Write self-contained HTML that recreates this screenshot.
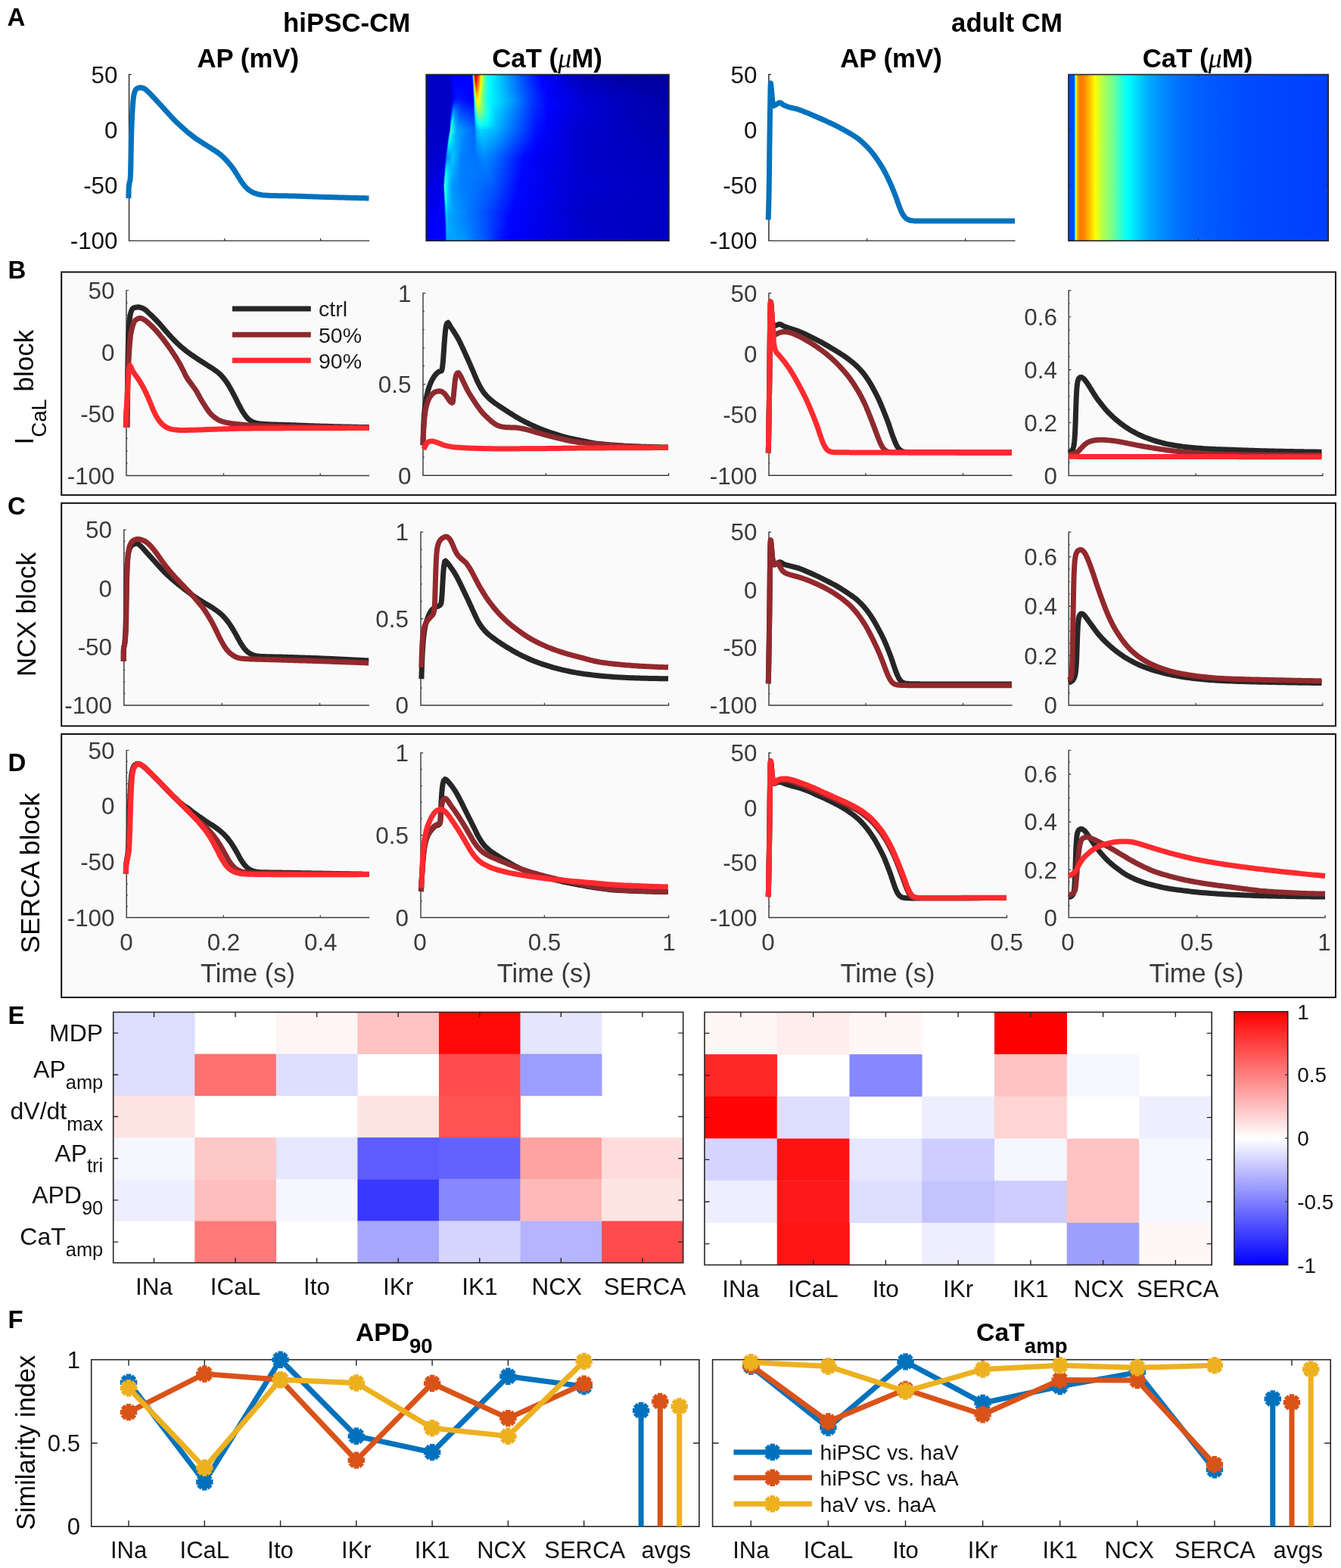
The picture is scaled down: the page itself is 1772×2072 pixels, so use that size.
<!DOCTYPE html>
<html lang="en"><head><meta charset="utf-8"><title>Figure</title>
<style>html,body{margin:0;padding:0;background:#fff}svg{display:block}text{font-family:'Liberation Sans', Arial, Helvetica, sans-serif}</style></head>
<body>
<svg xmlns="http://www.w3.org/2000/svg" width="1772" height="2072" viewBox="0 0 1772 2072">
<defs>
<linearGradient id="h0"><stop offset="0" stop-color="#0000c7"/><stop offset="0.1" stop-color="#0000c7"/><stop offset="0.103" stop-color="#0000d3"/><stop offset="0.109" stop-color="#0000fb"/><stop offset="0.19" stop-color="#0000ff"/><stop offset="0.193" stop-color="#00e6ff"/><stop offset="0.196" stop-color="#ffe100"/><stop offset="0.199" stop-color="#ff2300"/><stop offset="0.202" stop-color="#b90000"/><stop offset="0.209" stop-color="#fd0000"/><stop offset="0.215" stop-color="#ff4100"/><stop offset="0.218" stop-color="#ff6a00"/><stop offset="0.224" stop-color="#ffd400"/><stop offset="0.227" stop-color="#fbff04"/><stop offset="0.24" stop-color="#69ff96"/><stop offset="0.259" stop-color="#00ffff"/><stop offset="0.393" stop-color="#0051ff"/><stop offset="0.47" stop-color="#0003ff"/><stop offset="0.576" stop-color="#0000cf"/><stop offset="0.67" stop-color="#0000b6"/><stop offset="0.857" stop-color="#0000a0"/><stop offset="1" stop-color="#00009c"/></linearGradient>
<linearGradient id="h1"><stop offset="0" stop-color="#0000c7"/><stop offset="0.1" stop-color="#0000c7"/><stop offset="0.106" stop-color="#0000e8"/><stop offset="0.109" stop-color="#0000fd"/><stop offset="0.19" stop-color="#0000ff"/><stop offset="0.193" stop-color="#00acff"/><stop offset="0.196" stop-color="#f0ff0f"/><stop offset="0.199" stop-color="#ff5e00"/><stop offset="0.202" stop-color="#ce0000"/><stop offset="0.206" stop-color="#ef0000"/><stop offset="0.209" stop-color="#ff1100"/><stop offset="0.218" stop-color="#ff7a00"/><stop offset="0.224" stop-color="#ffdf00"/><stop offset="0.227" stop-color="#f2ff0d"/><stop offset="0.24" stop-color="#66ff99"/><stop offset="0.259" stop-color="#00ffff"/><stop offset="0.405" stop-color="#0046ff"/><stop offset="0.474" stop-color="#0003ff"/><stop offset="0.586" stop-color="#0000ce"/><stop offset="0.688" stop-color="#0000b6"/><stop offset="0.863" stop-color="#0000a2"/><stop offset="1" stop-color="#00009d"/></linearGradient>
<linearGradient id="h2"><stop offset="0" stop-color="#0000c7"/><stop offset="0.1" stop-color="#0000c7"/><stop offset="0.109" stop-color="#0000f9"/><stop offset="0.125" stop-color="#0001ff"/><stop offset="0.19" stop-color="#0000ff"/><stop offset="0.193" stop-color="#0077ff"/><stop offset="0.196" stop-color="#c4ff3b"/><stop offset="0.199" stop-color="#ff9400"/><stop offset="0.202" stop-color="#f10000"/><stop offset="0.206" stop-color="#ff0500"/><stop offset="0.218" stop-color="#ff8a00"/><stop offset="0.224" stop-color="#ffea00"/><stop offset="0.227" stop-color="#e8ff17"/><stop offset="0.24" stop-color="#62ff9d"/><stop offset="0.259" stop-color="#00ffff"/><stop offset="0.417" stop-color="#003bff"/><stop offset="0.477" stop-color="#0003ff"/><stop offset="0.595" stop-color="#0000cd"/><stop offset="0.801" stop-color="#0000a7"/><stop offset="1" stop-color="#00009e"/></linearGradient>
<linearGradient id="h3"><stop offset="0" stop-color="#0000c7"/><stop offset="0.1" stop-color="#0000c7"/><stop offset="0.112" stop-color="#0002ff"/><stop offset="0.19" stop-color="#0000ff"/><stop offset="0.193" stop-color="#0046ff"/><stop offset="0.196" stop-color="#84ff7b"/><stop offset="0.199" stop-color="#ffc400"/><stop offset="0.202" stop-color="#ff3000"/><stop offset="0.206" stop-color="#ff1a00"/><stop offset="0.218" stop-color="#ff9a00"/><stop offset="0.224" stop-color="#fff500"/><stop offset="0.231" stop-color="#beff41"/><stop offset="0.24" stop-color="#5effa1"/><stop offset="0.259" stop-color="#00ffff"/><stop offset="0.424" stop-color="#0036ff"/><stop offset="0.477" stop-color="#0005ff"/><stop offset="0.636" stop-color="#0000c3"/><stop offset="0.857" stop-color="#0000a6"/><stop offset="1" stop-color="#00009f"/></linearGradient>
<linearGradient id="h4"><stop offset="0" stop-color="#0000c7"/><stop offset="0.1" stop-color="#0000c7"/><stop offset="0.112" stop-color="#0003ff"/><stop offset="0.19" stop-color="#0000ff"/><stop offset="0.193" stop-color="#001aff"/><stop offset="0.196" stop-color="#49ffb6"/><stop offset="0.199" stop-color="#ffee00"/><stop offset="0.202" stop-color="#ff6700"/><stop offset="0.206" stop-color="#ff2f00"/><stop offset="0.218" stop-color="#ffaa00"/><stop offset="0.224" stop-color="#fdff02"/><stop offset="0.231" stop-color="#b6ff49"/><stop offset="0.24" stop-color="#5affa5"/><stop offset="0.259" stop-color="#00ffff"/><stop offset="0.43" stop-color="#0032ff"/><stop offset="0.483" stop-color="#0003ff"/><stop offset="0.626" stop-color="#0000c7"/><stop offset="0.86" stop-color="#0000a8"/><stop offset="1" stop-color="#0000a0"/></linearGradient>
<linearGradient id="h5"><stop offset="0" stop-color="#0000c7"/><stop offset="0.1" stop-color="#0000c7"/><stop offset="0.112" stop-color="#0001ff"/><stop offset="0.131" stop-color="#0009ff"/><stop offset="0.193" stop-color="#0000ff"/><stop offset="0.196" stop-color="#13ffec"/><stop offset="0.199" stop-color="#eaff15"/><stop offset="0.202" stop-color="#ff9a00"/><stop offset="0.206" stop-color="#ff4500"/><stop offset="0.218" stop-color="#ffbb00"/><stop offset="0.221" stop-color="#ffe400"/><stop offset="0.224" stop-color="#f2ff0d"/><stop offset="0.231" stop-color="#aeff51"/><stop offset="0.24" stop-color="#57ffa8"/><stop offset="0.259" stop-color="#00ffff"/><stop offset="0.439" stop-color="#002aff"/><stop offset="0.489" stop-color="#0001ff"/><stop offset="0.592" stop-color="#0000d4"/><stop offset="0.791" stop-color="#0000ae"/><stop offset="1" stop-color="#0000a2"/></linearGradient>
<linearGradient id="h6"><stop offset="0" stop-color="#0000c7"/><stop offset="0.1" stop-color="#0000c7"/><stop offset="0.112" stop-color="#0000fe"/><stop offset="0.125" stop-color="#000cff"/><stop offset="0.19" stop-color="#0000ff"/><stop offset="0.193" stop-color="#0000ff"/><stop offset="0.196" stop-color="#00e0ff"/><stop offset="0.199" stop-color="#c8ff37"/><stop offset="0.202" stop-color="#ffc700"/><stop offset="0.206" stop-color="#ff5b00"/><stop offset="0.218" stop-color="#ffcb00"/><stop offset="0.221" stop-color="#fff200"/><stop offset="0.224" stop-color="#e6ff19"/><stop offset="0.231" stop-color="#a6ff59"/><stop offset="0.24" stop-color="#53ffac"/><stop offset="0.259" stop-color="#00ffff"/><stop offset="0.38" stop-color="#006eff"/><stop offset="0.474" stop-color="#000dff"/><stop offset="0.505" stop-color="#0000f8"/><stop offset="0.651" stop-color="#0000c7"/><stop offset="0.875" stop-color="#0000ab"/><stop offset="1" stop-color="#0000a3"/></linearGradient>
<linearGradient id="h7"><stop offset="0" stop-color="#0000c7"/><stop offset="0.1" stop-color="#0000c7"/><stop offset="0.112" stop-color="#0000fc"/><stop offset="0.121" stop-color="#000dff"/><stop offset="0.193" stop-color="#0000ff"/><stop offset="0.196" stop-color="#00b2ff"/><stop offset="0.199" stop-color="#aaff55"/><stop offset="0.202" stop-color="#fff000"/><stop offset="0.206" stop-color="#ff8c00"/><stop offset="0.209" stop-color="#ff8c00"/><stop offset="0.218" stop-color="#ffdc00"/><stop offset="0.221" stop-color="#feff01"/><stop offset="0.227" stop-color="#b7ff48"/><stop offset="0.24" stop-color="#4fffb0"/><stop offset="0.259" stop-color="#00ffff"/><stop offset="0.371" stop-color="#007eff"/><stop offset="0.464" stop-color="#0015ff"/><stop offset="0.505" stop-color="#0000f9"/><stop offset="0.651" stop-color="#0000ca"/><stop offset="0.885" stop-color="#0000ac"/><stop offset="1" stop-color="#0000a4"/></linearGradient>
<linearGradient id="h8"><stop offset="0" stop-color="#0000c7"/><stop offset="0.1" stop-color="#0000c7"/><stop offset="0.112" stop-color="#0000fa"/><stop offset="0.128" stop-color="#0012ff"/><stop offset="0.181" stop-color="#0000fe"/><stop offset="0.193" stop-color="#0000ff"/><stop offset="0.196" stop-color="#0088ff"/><stop offset="0.199" stop-color="#85ff7a"/><stop offset="0.202" stop-color="#eaff15"/><stop offset="0.206" stop-color="#ffbb00"/><stop offset="0.209" stop-color="#ffa200"/><stop offset="0.218" stop-color="#ffed00"/><stop offset="0.221" stop-color="#efff10"/><stop offset="0.227" stop-color="#adff52"/><stop offset="0.24" stop-color="#4cffb3"/><stop offset="0.259" stop-color="#00ffff"/><stop offset="0.368" stop-color="#0085ff"/><stop offset="0.452" stop-color="#0024ff"/><stop offset="0.505" stop-color="#0000fb"/><stop offset="0.654" stop-color="#0000cb"/><stop offset="0.894" stop-color="#0000ae"/><stop offset="1" stop-color="#0000a5"/></linearGradient>
<linearGradient id="h9"><stop offset="0" stop-color="#0000c7"/><stop offset="0.1" stop-color="#0000c7"/><stop offset="0.115" stop-color="#0006ff"/><stop offset="0.131" stop-color="#0015ff"/><stop offset="0.181" stop-color="#0000ff"/><stop offset="0.193" stop-color="#0000ff"/><stop offset="0.196" stop-color="#0061ff"/><stop offset="0.199" stop-color="#53ffac"/><stop offset="0.202" stop-color="#c9ff36"/><stop offset="0.206" stop-color="#ffe500"/><stop offset="0.209" stop-color="#ffb800"/><stop offset="0.218" stop-color="#ffff00"/><stop offset="0.227" stop-color="#a3ff5c"/><stop offset="0.24" stop-color="#48ffb7"/><stop offset="0.259" stop-color="#00ffff"/><stop offset="0.364" stop-color="#008cff"/><stop offset="0.433" stop-color="#0038ff"/><stop offset="0.492" stop-color="#0006ff"/><stop offset="0.545" stop-color="#0000ed"/><stop offset="0.67" stop-color="#0000cb"/><stop offset="0.928" stop-color="#0000ad"/><stop offset="1" stop-color="#0000a7"/></linearGradient>
<linearGradient id="h10"><stop offset="0" stop-color="#0000c7"/><stop offset="0.1" stop-color="#0000c7"/><stop offset="0.115" stop-color="#0004ff"/><stop offset="0.121" stop-color="#0011ff"/><stop offset="0.137" stop-color="#0015ff"/><stop offset="0.181" stop-color="#0000ff"/><stop offset="0.193" stop-color="#0000ff"/><stop offset="0.196" stop-color="#003dff"/><stop offset="0.199" stop-color="#24ffdb"/><stop offset="0.202" stop-color="#adff52"/><stop offset="0.206" stop-color="#f3ff0c"/><stop offset="0.209" stop-color="#ffd000"/><stop offset="0.215" stop-color="#fffa00"/><stop offset="0.218" stop-color="#eeff11"/><stop offset="0.227" stop-color="#99ff66"/><stop offset="0.24" stop-color="#44ffbb"/><stop offset="0.259" stop-color="#00ffff"/><stop offset="0.361" stop-color="#0094ff"/><stop offset="0.427" stop-color="#0040ff"/><stop offset="0.489" stop-color="#000aff"/><stop offset="0.517" stop-color="#0000f8"/><stop offset="0.664" stop-color="#0000ce"/><stop offset="0.944" stop-color="#0000ad"/><stop offset="1" stop-color="#0000a8"/></linearGradient>
<linearGradient id="h11"><stop offset="0" stop-color="#0000c7"/><stop offset="0.1" stop-color="#0000c8"/><stop offset="0.112" stop-color="#0003ff"/><stop offset="0.118" stop-color="#001eff"/><stop offset="0.137" stop-color="#001dff"/><stop offset="0.181" stop-color="#0005ff"/><stop offset="0.193" stop-color="#0004ff"/><stop offset="0.196" stop-color="#0025ff"/><stop offset="0.199" stop-color="#00fbff"/><stop offset="0.202" stop-color="#91ff6e"/><stop offset="0.206" stop-color="#ceff31"/><stop offset="0.209" stop-color="#fff400"/><stop offset="0.212" stop-color="#fff700"/><stop offset="0.218" stop-color="#e1ff1e"/><stop offset="0.234" stop-color="#6dff92"/><stop offset="0.243" stop-color="#38ffc7"/><stop offset="0.259" stop-color="#02fffd"/><stop offset="0.364" stop-color="#0090ff"/><stop offset="0.43" stop-color="#003dff"/><stop offset="0.495" stop-color="#0007ff"/><stop offset="0.533" stop-color="#0000f4"/><stop offset="0.676" stop-color="#0000ce"/><stop offset="1" stop-color="#0000a9"/></linearGradient>
<linearGradient id="h12"><stop offset="0" stop-color="#0000c7"/><stop offset="0.1" stop-color="#0000ca"/><stop offset="0.106" stop-color="#0000f3"/><stop offset="0.109" stop-color="#0008ff"/><stop offset="0.115" stop-color="#0032ff"/><stop offset="0.121" stop-color="#0036ff"/><stop offset="0.178" stop-color="#000eff"/><stop offset="0.193" stop-color="#000cff"/><stop offset="0.196" stop-color="#0018ff"/><stop offset="0.199" stop-color="#00daff"/><stop offset="0.202" stop-color="#77ff88"/><stop offset="0.209" stop-color="#e0ff1f"/><stop offset="0.212" stop-color="#f6ff09"/><stop offset="0.224" stop-color="#aeff51"/><stop offset="0.24" stop-color="#4cffb3"/><stop offset="0.249" stop-color="#23ffdc"/><stop offset="0.262" stop-color="#00faff"/><stop offset="0.368" stop-color="#0089ff"/><stop offset="0.433" stop-color="#0039ff"/><stop offset="0.498" stop-color="#0005ff"/><stop offset="0.639" stop-color="#0000d3"/><stop offset="0.944" stop-color="#0000ae"/><stop offset="1" stop-color="#0000a9"/></linearGradient>
<linearGradient id="h13"><stop offset="0" stop-color="#0000c7"/><stop offset="0.097" stop-color="#0000c7"/><stop offset="0.1" stop-color="#0000cd"/><stop offset="0.106" stop-color="#0005ff"/><stop offset="0.115" stop-color="#0054ff"/><stop offset="0.159" stop-color="#0021ff"/><stop offset="0.196" stop-color="#0013ff"/><stop offset="0.199" stop-color="#00bfff"/><stop offset="0.202" stop-color="#5fffa0"/><stop offset="0.212" stop-color="#e4ff1b"/><stop offset="0.227" stop-color="#95ff6a"/><stop offset="0.246" stop-color="#2fffd0"/><stop offset="0.262" stop-color="#00fcff"/><stop offset="0.274" stop-color="#00e7ff"/><stop offset="0.371" stop-color="#0082ff"/><stop offset="0.436" stop-color="#0034ff"/><stop offset="0.502" stop-color="#0003ff"/><stop offset="0.685" stop-color="#0000cc"/><stop offset="1" stop-color="#0000aa"/></linearGradient>
<linearGradient id="h14"><stop offset="0" stop-color="#0000c7"/><stop offset="0.097" stop-color="#0000c7"/><stop offset="0.1" stop-color="#0000d2"/><stop offset="0.103" stop-color="#0000f5"/><stop offset="0.106" stop-color="#0019ff"/><stop offset="0.112" stop-color="#005fff"/><stop offset="0.115" stop-color="#006cff"/><stop offset="0.143" stop-color="#0037ff"/><stop offset="0.184" stop-color="#001fff"/><stop offset="0.196" stop-color="#001bff"/><stop offset="0.199" stop-color="#00a7ff"/><stop offset="0.202" stop-color="#46ffb9"/><stop offset="0.212" stop-color="#c0ff3f"/><stop offset="0.215" stop-color="#c3ff3c"/><stop offset="0.231" stop-color="#7eff81"/><stop offset="0.252" stop-color="#19ffe6"/><stop offset="0.262" stop-color="#00feff"/><stop offset="0.274" stop-color="#00e4ff"/><stop offset="0.374" stop-color="#007cff"/><stop offset="0.442" stop-color="#002dff"/><stop offset="0.505" stop-color="#0001ff"/><stop offset="0.614" stop-color="#0000db"/><stop offset="0.888" stop-color="#0000b4"/><stop offset="1" stop-color="#0000aa"/></linearGradient>
<linearGradient id="h15"><stop offset="0" stop-color="#0000c7"/><stop offset="0.097" stop-color="#0000c7"/><stop offset="0.1" stop-color="#0000d9"/><stop offset="0.103" stop-color="#0005ff"/><stop offset="0.112" stop-color="#0089ff"/><stop offset="0.131" stop-color="#0057ff"/><stop offset="0.15" stop-color="#003cff"/><stop offset="0.196" stop-color="#0023ff"/><stop offset="0.199" stop-color="#0093ff"/><stop offset="0.202" stop-color="#22ffdd"/><stop offset="0.206" stop-color="#57ffa8"/><stop offset="0.212" stop-color="#9cff63"/><stop offset="0.215" stop-color="#b0ff4f"/><stop offset="0.234" stop-color="#68ff97"/><stop offset="0.255" stop-color="#0ffff0"/><stop offset="0.265" stop-color="#00f5ff"/><stop offset="0.277" stop-color="#00ddff"/><stop offset="0.377" stop-color="#0075ff"/><stop offset="0.442" stop-color="#002bff"/><stop offset="0.505" stop-color="#0000ff"/><stop offset="0.589" stop-color="#0000e1"/><stop offset="0.788" stop-color="#0000be"/><stop offset="1" stop-color="#0000ab"/></linearGradient>
<linearGradient id="h16"><stop offset="0" stop-color="#0000c7"/><stop offset="0.097" stop-color="#0000c7"/><stop offset="0.1" stop-color="#0000e2"/><stop offset="0.103" stop-color="#0019ff"/><stop offset="0.109" stop-color="#0085ff"/><stop offset="0.112" stop-color="#00a1ff"/><stop offset="0.121" stop-color="#0077ff"/><stop offset="0.143" stop-color="#004bff"/><stop offset="0.19" stop-color="#002dff"/><stop offset="0.196" stop-color="#002aff"/><stop offset="0.199" stop-color="#0083ff"/><stop offset="0.202" stop-color="#03fffc"/><stop offset="0.206" stop-color="#40ffbf"/><stop offset="0.215" stop-color="#99ff66"/><stop offset="0.234" stop-color="#5fffa0"/><stop offset="0.259" stop-color="#05fffa"/><stop offset="0.28" stop-color="#00d7ff"/><stop offset="0.383" stop-color="#006bff"/><stop offset="0.445" stop-color="#0026ff"/><stop offset="0.505" stop-color="#0000fe"/><stop offset="0.589" stop-color="#0000e1"/><stop offset="0.807" stop-color="#0000bc"/><stop offset="1" stop-color="#0000ab"/></linearGradient>
<linearGradient id="h17"><stop offset="0" stop-color="#0000c7"/><stop offset="0.097" stop-color="#0000c7"/><stop offset="0.1" stop-color="#0000ed"/><stop offset="0.103" stop-color="#0031ff"/><stop offset="0.109" stop-color="#00b5ff"/><stop offset="0.112" stop-color="#00b3ff"/><stop offset="0.121" stop-color="#0084ff"/><stop offset="0.14" stop-color="#0057ff"/><stop offset="0.187" stop-color="#0037ff"/><stop offset="0.196" stop-color="#0032ff"/><stop offset="0.199" stop-color="#0077ff"/><stop offset="0.202" stop-color="#00e7ff"/><stop offset="0.206" stop-color="#2affd5"/><stop offset="0.215" stop-color="#77ff88"/><stop offset="0.218" stop-color="#7dff82"/><stop offset="0.24" stop-color="#3fffc0"/><stop offset="0.259" stop-color="#03fffc"/><stop offset="0.283" stop-color="#00d0ff"/><stop offset="0.386" stop-color="#0064ff"/><stop offset="0.445" stop-color="#0024ff"/><stop offset="0.505" stop-color="#0000fd"/><stop offset="0.592" stop-color="#0000df"/><stop offset="0.829" stop-color="#0000b9"/><stop offset="1" stop-color="#0000ac"/></linearGradient>
<linearGradient id="h18"><stop offset="0" stop-color="#0000c7"/><stop offset="0.097" stop-color="#0000c7"/><stop offset="0.1" stop-color="#0000fd"/><stop offset="0.106" stop-color="#00a0ff"/><stop offset="0.109" stop-color="#00d7ff"/><stop offset="0.118" stop-color="#0098ff"/><stop offset="0.137" stop-color="#0064ff"/><stop offset="0.187" stop-color="#003fff"/><stop offset="0.196" stop-color="#003aff"/><stop offset="0.199" stop-color="#006dff"/><stop offset="0.202" stop-color="#00cfff"/><stop offset="0.206" stop-color="#16ffe9"/><stop offset="0.218" stop-color="#68ff97"/><stop offset="0.243" stop-color="#2cffd3"/><stop offset="0.259" stop-color="#00ffff"/><stop offset="0.283" stop-color="#00ccff"/><stop offset="0.389" stop-color="#005eff"/><stop offset="0.449" stop-color="#0020ff"/><stop offset="0.505" stop-color="#0000fc"/><stop offset="0.598" stop-color="#0000dd"/><stop offset="0.85" stop-color="#0000b8"/><stop offset="1" stop-color="#0000ac"/></linearGradient>
<linearGradient id="h19"><stop offset="0" stop-color="#0000c7"/><stop offset="0.097" stop-color="#0000c7"/><stop offset="0.1" stop-color="#0013ff"/><stop offset="0.106" stop-color="#00d9ff"/><stop offset="0.109" stop-color="#00e6ff"/><stop offset="0.115" stop-color="#00b1ff"/><stop offset="0.134" stop-color="#0070ff"/><stop offset="0.187" stop-color="#0047ff"/><stop offset="0.196" stop-color="#0042ff"/><stop offset="0.199" stop-color="#0066ff"/><stop offset="0.202" stop-color="#00bbff"/><stop offset="0.206" stop-color="#02fffd"/><stop offset="0.218" stop-color="#4dffb2"/><stop offset="0.24" stop-color="#29ffd6"/><stop offset="0.259" stop-color="#00fbff"/><stop offset="0.29" stop-color="#00c3ff"/><stop offset="0.393" stop-color="#0058ff"/><stop offset="0.452" stop-color="#001bff"/><stop offset="0.502" stop-color="#0000fb"/><stop offset="0.604" stop-color="#0000da"/><stop offset="0.875" stop-color="#0000b6"/><stop offset="1" stop-color="#0000ad"/></linearGradient>
<linearGradient id="h20"><stop offset="0" stop-color="#0000c7"/><stop offset="0.097" stop-color="#0000c7"/><stop offset="0.1" stop-color="#002fff"/><stop offset="0.103" stop-color="#00a8ff"/><stop offset="0.106" stop-color="#11ffee"/><stop offset="0.109" stop-color="#00f1ff"/><stop offset="0.115" stop-color="#00b9ff"/><stop offset="0.134" stop-color="#007aff"/><stop offset="0.19" stop-color="#004dff"/><stop offset="0.196" stop-color="#004aff"/><stop offset="0.199" stop-color="#0062ff"/><stop offset="0.206" stop-color="#00efff"/><stop offset="0.209" stop-color="#00ffff"/><stop offset="0.218" stop-color="#2fffd0"/><stop offset="0.221" stop-color="#36ffc9"/><stop offset="0.255" stop-color="#00fbff"/><stop offset="0.293" stop-color="#00bcff"/><stop offset="0.396" stop-color="#0052ff"/><stop offset="0.452" stop-color="#0019ff"/><stop offset="0.502" stop-color="#0000fa"/><stop offset="0.611" stop-color="#0000d8"/><stop offset="0.903" stop-color="#0000b4"/><stop offset="1" stop-color="#0000ad"/></linearGradient>
<linearGradient id="h21"><stop offset="0" stop-color="#0000c7"/><stop offset="0.097" stop-color="#0000c7"/><stop offset="0.1" stop-color="#0055ff"/><stop offset="0.103" stop-color="#00ebff"/><stop offset="0.106" stop-color="#1cffe3"/><stop offset="0.109" stop-color="#00f6ff"/><stop offset="0.112" stop-color="#00d2ff"/><stop offset="0.131" stop-color="#0086ff"/><stop offset="0.19" stop-color="#0056ff"/><stop offset="0.196" stop-color="#0051ff"/><stop offset="0.199" stop-color="#0060ff"/><stop offset="0.206" stop-color="#00dbff"/><stop offset="0.212" stop-color="#00f8ff"/><stop offset="0.221" stop-color="#1fffe0"/><stop offset="0.249" stop-color="#00fbff"/><stop offset="0.296" stop-color="#00b6ff"/><stop offset="0.396" stop-color="#004fff"/><stop offset="0.452" stop-color="#0016ff"/><stop offset="0.498" stop-color="#0000fa"/><stop offset="0.611" stop-color="#0000d7"/><stop offset="0.925" stop-color="#0000b3"/><stop offset="1" stop-color="#0000ae"/></linearGradient>
<linearGradient id="h22"><stop offset="0" stop-color="#0000c7"/><stop offset="0.093" stop-color="#0000c7"/><stop offset="0.097" stop-color="#0000cc"/><stop offset="0.1" stop-color="#008aff"/><stop offset="0.103" stop-color="#47ffb8"/><stop offset="0.109" stop-color="#00f6ff"/><stop offset="0.112" stop-color="#00d8ff"/><stop offset="0.128" stop-color="#0094ff"/><stop offset="0.178" stop-color="#0066ff"/><stop offset="0.196" stop-color="#0059ff"/><stop offset="0.199" stop-color="#0060ff"/><stop offset="0.206" stop-color="#00c5ff"/><stop offset="0.212" stop-color="#00e2ff"/><stop offset="0.221" stop-color="#03fffc"/><stop offset="0.243" stop-color="#00f4ff"/><stop offset="0.312" stop-color="#00a4ff"/><stop offset="0.455" stop-color="#0012ff"/><stop offset="0.498" stop-color="#0000f9"/><stop offset="0.617" stop-color="#0000d4"/><stop offset="0.96" stop-color="#0000b1"/><stop offset="1" stop-color="#0000ae"/></linearGradient>
<linearGradient id="h23"><stop offset="0" stop-color="#0000c7"/><stop offset="0.093" stop-color="#0000c7"/><stop offset="0.097" stop-color="#0000e4"/><stop offset="0.1" stop-color="#00d6ff"/><stop offset="0.103" stop-color="#53ffac"/><stop offset="0.106" stop-color="#22ffdd"/><stop offset="0.109" stop-color="#00f0ff"/><stop offset="0.128" stop-color="#009cff"/><stop offset="0.19" stop-color="#0066ff"/><stop offset="0.199" stop-color="#0062ff"/><stop offset="0.206" stop-color="#00b2ff"/><stop offset="0.209" stop-color="#00c6ff"/><stop offset="0.224" stop-color="#00ecff"/><stop offset="0.271" stop-color="#00c8ff"/><stop offset="0.393" stop-color="#004eff"/><stop offset="0.455" stop-color="#000fff"/><stop offset="0.495" stop-color="#0000f9"/><stop offset="0.62" stop-color="#0000d2"/><stop offset="0.994" stop-color="#0000af"/><stop offset="1" stop-color="#0000af"/></linearGradient>
<linearGradient id="h24"><stop offset="0" stop-color="#0000c7"/><stop offset="0.093" stop-color="#0000c7"/><stop offset="0.097" stop-color="#0014ff"/><stop offset="0.1" stop-color="#4cffb3"/><stop offset="0.103" stop-color="#50ffaf"/><stop offset="0.106" stop-color="#19ffe6"/><stop offset="0.109" stop-color="#00f6ff"/><stop offset="0.125" stop-color="#00a8ff"/><stop offset="0.181" stop-color="#0074ff"/><stop offset="0.199" stop-color="#0066ff"/><stop offset="0.206" stop-color="#00a3ff"/><stop offset="0.209" stop-color="#00b5ff"/><stop offset="0.224" stop-color="#00d5ff"/><stop offset="0.277" stop-color="#00baff"/><stop offset="0.38" stop-color="#0058ff"/><stop offset="0.458" stop-color="#000aff"/><stop offset="0.498" stop-color="#0000f5"/><stop offset="0.626" stop-color="#0000d0"/><stop offset="1" stop-color="#0000b0"/></linearGradient>
<linearGradient id="h25"><stop offset="0" stop-color="#0000c7"/><stop offset="0.093" stop-color="#0000c8"/><stop offset="0.097" stop-color="#0096ff"/><stop offset="0.1" stop-color="#5dffa2"/><stop offset="0.106" stop-color="#01fffe"/><stop offset="0.125" stop-color="#00aaff"/><stop offset="0.168" stop-color="#007dff"/><stop offset="0.199" stop-color="#0067ff"/><stop offset="0.206" stop-color="#009cff"/><stop offset="0.209" stop-color="#00b0ff"/><stop offset="0.227" stop-color="#00cfff"/><stop offset="0.28" stop-color="#00b1ff"/><stop offset="0.386" stop-color="#004cff"/><stop offset="0.458" stop-color="#0009ff"/><stop offset="0.502" stop-color="#0000f3"/><stop offset="0.629" stop-color="#0000cf"/><stop offset="1" stop-color="#0000b0"/></linearGradient>
<linearGradient id="h26"><stop offset="0" stop-color="#0000c8"/><stop offset="0.09" stop-color="#0000c9"/><stop offset="0.093" stop-color="#0000fb"/><stop offset="0.097" stop-color="#03fffc"/><stop offset="0.1" stop-color="#3affc5"/><stop offset="0.103" stop-color="#13ffec"/><stop offset="0.106" stop-color="#00efff"/><stop offset="0.121" stop-color="#00b0ff"/><stop offset="0.159" stop-color="#0083ff"/><stop offset="0.199" stop-color="#0068ff"/><stop offset="0.209" stop-color="#00aaff"/><stop offset="0.227" stop-color="#00c9ff"/><stop offset="0.277" stop-color="#00aeff"/><stop offset="0.458" stop-color="#0007ff"/><stop offset="0.517" stop-color="#0000eb"/><stop offset="0.642" stop-color="#0000cd"/><stop offset="1" stop-color="#0000b1"/></linearGradient>
<linearGradient id="h27"><stop offset="0" stop-color="#0000c8"/><stop offset="0.09" stop-color="#0000c9"/><stop offset="0.093" stop-color="#006bff"/><stop offset="0.097" stop-color="#3bffc4"/><stop offset="0.103" stop-color="#00fcff"/><stop offset="0.106" stop-color="#00e5ff"/><stop offset="0.121" stop-color="#00afff"/><stop offset="0.156" stop-color="#0084ff"/><stop offset="0.199" stop-color="#0069ff"/><stop offset="0.209" stop-color="#00a5ff"/><stop offset="0.231" stop-color="#00c2ff"/><stop offset="0.28" stop-color="#00a6ff"/><stop offset="0.455" stop-color="#0006ff"/><stop offset="0.533" stop-color="#0000e6"/><stop offset="0.651" stop-color="#0000cc"/><stop offset="1" stop-color="#0000b2"/></linearGradient>
<linearGradient id="h28"><stop offset="0" stop-color="#0000c9"/><stop offset="0.087" stop-color="#0000ca"/><stop offset="0.09" stop-color="#0000ea"/><stop offset="0.093" stop-color="#00c5ff"/><stop offset="0.097" stop-color="#1dffe2"/><stop offset="0.1" stop-color="#04fffb"/><stop offset="0.106" stop-color="#00dcff"/><stop offset="0.125" stop-color="#00acff"/><stop offset="0.156" stop-color="#0083ff"/><stop offset="0.199" stop-color="#0069ff"/><stop offset="0.209" stop-color="#00a0ff"/><stop offset="0.231" stop-color="#00bcff"/><stop offset="0.28" stop-color="#00a0ff"/><stop offset="0.452" stop-color="#0006ff"/><stop offset="0.589" stop-color="#0000d5"/><stop offset="0.931" stop-color="#0000b6"/><stop offset="1" stop-color="#0000b2"/></linearGradient>
<linearGradient id="h29"><stop offset="0" stop-color="#0000c9"/><stop offset="0.087" stop-color="#0000cb"/><stop offset="0.09" stop-color="#0047ff"/><stop offset="0.093" stop-color="#0ffff0"/><stop offset="0.097" stop-color="#03fffc"/><stop offset="0.103" stop-color="#00dcff"/><stop offset="0.128" stop-color="#00a7ff"/><stop offset="0.156" stop-color="#0082ff"/><stop offset="0.199" stop-color="#006aff"/><stop offset="0.209" stop-color="#0099ff"/><stop offset="0.231" stop-color="#00b6ff"/><stop offset="0.277" stop-color="#009dff"/><stop offset="0.433" stop-color="#0011ff"/><stop offset="0.47" stop-color="#0000fb"/><stop offset="0.614" stop-color="#0000d0"/><stop offset="1" stop-color="#0000b3"/></linearGradient>
<linearGradient id="h30"><stop offset="0" stop-color="#0000c9"/><stop offset="0.084" stop-color="#0000cc"/><stop offset="0.087" stop-color="#0000dd"/><stop offset="0.09" stop-color="#0092ff"/><stop offset="0.093" stop-color="#00faff"/><stop offset="0.103" stop-color="#00d2ff"/><stop offset="0.15" stop-color="#0084ff"/><stop offset="0.199" stop-color="#006bff"/><stop offset="0.209" stop-color="#0093ff"/><stop offset="0.234" stop-color="#00afff"/><stop offset="0.28" stop-color="#0094ff"/><stop offset="0.424" stop-color="#0014ff"/><stop offset="0.464" stop-color="#0000fc"/><stop offset="0.614" stop-color="#0000d0"/><stop offset="1" stop-color="#0000b4"/></linearGradient>
<linearGradient id="h31"><stop offset="0" stop-color="#0000ca"/><stop offset="0.084" stop-color="#0000cd"/><stop offset="0.087" stop-color="#002aff"/><stop offset="0.09" stop-color="#00cdff"/><stop offset="0.093" stop-color="#00e3ff"/><stop offset="0.106" stop-color="#00c7ff"/><stop offset="0.15" stop-color="#0083ff"/><stop offset="0.199" stop-color="#006cff"/><stop offset="0.212" stop-color="#0094ff"/><stop offset="0.234" stop-color="#00a9ff"/><stop offset="0.28" stop-color="#008eff"/><stop offset="0.417" stop-color="#0014ff"/><stop offset="0.461" stop-color="#0000fb"/><stop offset="0.617" stop-color="#0000cf"/><stop offset="1" stop-color="#0000b4"/></linearGradient>
<linearGradient id="h32"><stop offset="0" stop-color="#0000ca"/><stop offset="0.081" stop-color="#0000ce"/><stop offset="0.084" stop-color="#0000d4"/><stop offset="0.087" stop-color="#0067ff"/><stop offset="0.09" stop-color="#00d4ff"/><stop offset="0.112" stop-color="#00beff"/><stop offset="0.15" stop-color="#0082ff"/><stop offset="0.199" stop-color="#006dff"/><stop offset="0.212" stop-color="#008fff"/><stop offset="0.237" stop-color="#00a2ff"/><stop offset="0.283" stop-color="#0086ff"/><stop offset="0.414" stop-color="#0012ff"/><stop offset="0.458" stop-color="#0000fa"/><stop offset="0.62" stop-color="#0000cf"/><stop offset="1" stop-color="#0000b5"/></linearGradient>
<linearGradient id="h33"><stop offset="0" stop-color="#0000cb"/><stop offset="0.081" stop-color="#0000ce"/><stop offset="0.084" stop-color="#0013ff"/><stop offset="0.087" stop-color="#0096ff"/><stop offset="0.09" stop-color="#00c0ff"/><stop offset="0.115" stop-color="#00bdff"/><stop offset="0.15" stop-color="#0081ff"/><stop offset="0.199" stop-color="#006eff"/><stop offset="0.215" stop-color="#008dff"/><stop offset="0.237" stop-color="#009cff"/><stop offset="0.28" stop-color="#0083ff"/><stop offset="0.408" stop-color="#0012ff"/><stop offset="0.455" stop-color="#0000f9"/><stop offset="0.626" stop-color="#0000ce"/><stop offset="1" stop-color="#0000b6"/></linearGradient>
<linearGradient id="h34"><stop offset="0" stop-color="#0000cb"/><stop offset="0.081" stop-color="#0000cf"/><stop offset="0.084" stop-color="#0043ff"/><stop offset="0.087" stop-color="#00acff"/><stop offset="0.112" stop-color="#00c1ff"/><stop offset="0.146" stop-color="#0081ff"/><stop offset="0.199" stop-color="#006eff"/><stop offset="0.218" stop-color="#008aff"/><stop offset="0.24" stop-color="#0096ff"/><stop offset="0.283" stop-color="#007aff"/><stop offset="0.405" stop-color="#000fff"/><stop offset="0.449" stop-color="#0000fa"/><stop offset="0.623" stop-color="#0000ce"/><stop offset="1" stop-color="#0000b6"/></linearGradient>
<linearGradient id="h35"><stop offset="0" stop-color="#0000cc"/><stop offset="0.078" stop-color="#0000d0"/><stop offset="0.081" stop-color="#0001ff"/><stop offset="0.084" stop-color="#0066ff"/><stop offset="0.087" stop-color="#009aff"/><stop offset="0.112" stop-color="#00c4ff"/><stop offset="0.146" stop-color="#0080ff"/><stop offset="0.202" stop-color="#0073ff"/><stop offset="0.237" stop-color="#0090ff"/><stop offset="0.277" stop-color="#007bff"/><stop offset="0.402" stop-color="#000bff"/><stop offset="0.442" stop-color="#0000f9"/><stop offset="0.629" stop-color="#0000cd"/><stop offset="1" stop-color="#0000b7"/></linearGradient>
<linearGradient id="h36"><stop offset="0" stop-color="#0000cc"/><stop offset="0.078" stop-color="#0000d1"/><stop offset="0.081" stop-color="#0025ff"/><stop offset="0.084" stop-color="#007eff"/><stop offset="0.1" stop-color="#00afff"/><stop offset="0.112" stop-color="#00c4ff"/><stop offset="0.143" stop-color="#0080ff"/><stop offset="0.202" stop-color="#0073ff"/><stop offset="0.24" stop-color="#008aff"/><stop offset="0.28" stop-color="#0072ff"/><stop offset="0.399" stop-color="#0008ff"/><stop offset="0.449" stop-color="#0000f5"/><stop offset="0.651" stop-color="#0000cb"/><stop offset="1" stop-color="#0000b8"/></linearGradient>
<linearGradient id="h37"><stop offset="0" stop-color="#0000cd"/><stop offset="0.075" stop-color="#0000d3"/><stop offset="0.078" stop-color="#0000e3"/><stop offset="0.081" stop-color="#0046ff"/><stop offset="0.084" stop-color="#0095ff"/><stop offset="0.109" stop-color="#00c3ff"/><stop offset="0.143" stop-color="#007fff"/><stop offset="0.202" stop-color="#0073ff"/><stop offset="0.243" stop-color="#0086ff"/><stop offset="0.287" stop-color="#006aff"/><stop offset="0.396" stop-color="#0008ff"/><stop offset="0.442" stop-color="#0000f6"/><stop offset="0.648" stop-color="#0000cc"/><stop offset="1" stop-color="#0000b8"/></linearGradient>
<linearGradient id="h38"><stop offset="0" stop-color="#0000ce"/><stop offset="0.075" stop-color="#0000d6"/><stop offset="0.078" stop-color="#0000fb"/><stop offset="0.081" stop-color="#006bff"/><stop offset="0.084" stop-color="#00adff"/><stop offset="0.109" stop-color="#00c1ff"/><stop offset="0.143" stop-color="#007fff"/><stop offset="0.206" stop-color="#0076ff"/><stop offset="0.246" stop-color="#0082ff"/><stop offset="0.299" stop-color="#005dff"/><stop offset="0.396" stop-color="#0007ff"/><stop offset="0.452" stop-color="#0000f4"/><stop offset="0.648" stop-color="#0000cc"/><stop offset="1" stop-color="#0000b9"/></linearGradient>
<linearGradient id="h39"><stop offset="0" stop-color="#0000ce"/><stop offset="0.075" stop-color="#0000d8"/><stop offset="0.078" stop-color="#001aff"/><stop offset="0.081" stop-color="#0096ff"/><stop offset="0.084" stop-color="#00c2ff"/><stop offset="0.112" stop-color="#00b6ff"/><stop offset="0.143" stop-color="#007fff"/><stop offset="0.206" stop-color="#0076ff"/><stop offset="0.246" stop-color="#0080ff"/><stop offset="0.302" stop-color="#0059ff"/><stop offset="0.393" stop-color="#0008ff"/><stop offset="0.449" stop-color="#0000f5"/><stop offset="0.642" stop-color="#0000cc"/><stop offset="1" stop-color="#0000ba"/></linearGradient>
<linearGradient id="h40"><stop offset="0" stop-color="#0000cf"/><stop offset="0.075" stop-color="#0000db"/><stop offset="0.078" stop-color="#003dff"/><stop offset="0.081" stop-color="#00c7ff"/><stop offset="0.084" stop-color="#00d4ff"/><stop offset="0.097" stop-color="#00c0ff"/><stop offset="0.115" stop-color="#00acff"/><stop offset="0.143" stop-color="#007fff"/><stop offset="0.209" stop-color="#0076ff"/><stop offset="0.249" stop-color="#007cff"/><stop offset="0.312" stop-color="#004fff"/><stop offset="0.393" stop-color="#0007ff"/><stop offset="0.461" stop-color="#0000f2"/><stop offset="0.642" stop-color="#0000cd"/><stop offset="1" stop-color="#0000bb"/></linearGradient>
<linearGradient id="h41"><stop offset="0" stop-color="#0000d0"/><stop offset="0.075" stop-color="#0000dd"/><stop offset="0.078" stop-color="#0065ff"/><stop offset="0.081" stop-color="#00f1ff"/><stop offset="0.093" stop-color="#00c6ff"/><stop offset="0.143" stop-color="#007fff"/><stop offset="0.215" stop-color="#0077ff"/><stop offset="0.255" stop-color="#0078ff"/><stop offset="0.346" stop-color="#002bff"/><stop offset="0.402" stop-color="#0003ff"/><stop offset="0.639" stop-color="#0000cd"/><stop offset="1" stop-color="#0000bc"/></linearGradient>
<linearGradient id="h42"><stop offset="0" stop-color="#0000d1"/><stop offset="0.072" stop-color="#0000df"/><stop offset="0.075" stop-color="#0000ea"/><stop offset="0.078" stop-color="#0093ff"/><stop offset="0.081" stop-color="#05fffa"/><stop offset="0.09" stop-color="#00cfff"/><stop offset="0.143" stop-color="#007fff"/><stop offset="0.224" stop-color="#0077ff"/><stop offset="0.265" stop-color="#0071ff"/><stop offset="0.393" stop-color="#0006ff"/><stop offset="0.526" stop-color="#0000e1"/><stop offset="0.654" stop-color="#0000cc"/><stop offset="1" stop-color="#0000bd"/></linearGradient>
<linearGradient id="h43"><stop offset="0" stop-color="#0000d2"/><stop offset="0.072" stop-color="#0000e2"/><stop offset="0.075" stop-color="#0010ff"/><stop offset="0.078" stop-color="#00c8ff"/><stop offset="0.081" stop-color="#15ffea"/><stop offset="0.084" stop-color="#00fdff"/><stop offset="0.09" stop-color="#00d4ff"/><stop offset="0.112" stop-color="#00a6ff"/><stop offset="0.143" stop-color="#007fff"/><stop offset="0.262" stop-color="#0071ff"/><stop offset="0.393" stop-color="#0005ff"/><stop offset="0.636" stop-color="#0000ce"/><stop offset="1" stop-color="#0000bd"/></linearGradient>
<linearGradient id="h44"><stop offset="0" stop-color="#0000d3"/><stop offset="0.072" stop-color="#0000e4"/><stop offset="0.075" stop-color="#003bff"/><stop offset="0.078" stop-color="#05fffa"/><stop offset="0.081" stop-color="#23ffdc"/><stop offset="0.084" stop-color="#05fffa"/><stop offset="0.087" stop-color="#00e6ff"/><stop offset="0.103" stop-color="#00b1ff"/><stop offset="0.14" stop-color="#007fff"/><stop offset="0.265" stop-color="#006cff"/><stop offset="0.389" stop-color="#0005ff"/><stop offset="0.636" stop-color="#0000ce"/><stop offset="1" stop-color="#0000be"/></linearGradient>
<linearGradient id="h45"><stop offset="0" stop-color="#0000d3"/><stop offset="0.072" stop-color="#0000e7"/><stop offset="0.075" stop-color="#006cff"/><stop offset="0.078" stop-color="#49ffb6"/><stop offset="0.084" stop-color="#08fff7"/><stop offset="0.087" stop-color="#00e3ff"/><stop offset="0.106" stop-color="#00a6ff"/><stop offset="0.143" stop-color="#007fff"/><stop offset="0.265" stop-color="#006aff"/><stop offset="0.389" stop-color="#0005ff"/><stop offset="0.632" stop-color="#0000ce"/><stop offset="1" stop-color="#0000bf"/></linearGradient>
<linearGradient id="h46"><stop offset="0" stop-color="#0000d4"/><stop offset="0.072" stop-color="#0000ea"/><stop offset="0.075" stop-color="#00a5ff"/><stop offset="0.078" stop-color="#5fffa0"/><stop offset="0.084" stop-color="#06fff9"/><stop offset="0.087" stop-color="#00e5ff"/><stop offset="0.103" stop-color="#00a6ff"/><stop offset="0.14" stop-color="#007fff"/><stop offset="0.268" stop-color="#0066ff"/><stop offset="0.386" stop-color="#0005ff"/><stop offset="0.583" stop-color="#0000d4"/><stop offset="1" stop-color="#0000c0"/></linearGradient>
<linearGradient id="h47"><stop offset="0" stop-color="#0000d5"/><stop offset="0.072" stop-color="#0000ec"/><stop offset="0.075" stop-color="#00e5ff"/><stop offset="0.078" stop-color="#6aff95"/><stop offset="0.084" stop-color="#00ffff"/><stop offset="0.09" stop-color="#00d8ff"/><stop offset="0.103" stop-color="#00a2ff"/><stop offset="0.143" stop-color="#007fff"/><stop offset="0.265" stop-color="#0066ff"/><stop offset="0.386" stop-color="#0004ff"/><stop offset="0.561" stop-color="#0000d9"/><stop offset="0.698" stop-color="#0000cb"/><stop offset="1" stop-color="#0000c1"/></linearGradient>
<linearGradient id="h48"><stop offset="0" stop-color="#0000d6"/><stop offset="0.069" stop-color="#0000ee"/><stop offset="0.072" stop-color="#0017ff"/><stop offset="0.075" stop-color="#2fffd0"/><stop offset="0.078" stop-color="#6fff90"/><stop offset="0.081" stop-color="#31ffce"/><stop offset="0.084" stop-color="#00f6ff"/><stop offset="0.1" stop-color="#00a7ff"/><stop offset="0.112" stop-color="#0095ff"/><stop offset="0.143" stop-color="#007fff"/><stop offset="0.206" stop-color="#0074ff"/><stop offset="0.274" stop-color="#005cff"/><stop offset="0.386" stop-color="#0003ff"/><stop offset="0.548" stop-color="#0000dd"/><stop offset="0.648" stop-color="#0000ce"/><stop offset="1" stop-color="#0000c2"/></linearGradient>
<linearGradient id="h49"><stop offset="0" stop-color="#0000d8"/><stop offset="0.069" stop-color="#0000ef"/><stop offset="0.072" stop-color="#000eff"/><stop offset="0.075" stop-color="#23ffdc"/><stop offset="0.078" stop-color="#6eff91"/><stop offset="0.081" stop-color="#31ffce"/><stop offset="0.084" stop-color="#00f5ff"/><stop offset="0.103" stop-color="#009dff"/><stop offset="0.143" stop-color="#007fff"/><stop offset="0.206" stop-color="#0073ff"/><stop offset="0.274" stop-color="#005aff"/><stop offset="0.383" stop-color="#0004ff"/><stop offset="0.548" stop-color="#0000dc"/><stop offset="0.651" stop-color="#0000ce"/><stop offset="1" stop-color="#0000c2"/></linearGradient>
<linearGradient id="h50"><stop offset="0" stop-color="#0000da"/><stop offset="0.072" stop-color="#0000f1"/><stop offset="0.075" stop-color="#00eeff"/><stop offset="0.078" stop-color="#69ff96"/><stop offset="0.084" stop-color="#00f8ff"/><stop offset="0.093" stop-color="#00c7ff"/><stop offset="0.103" stop-color="#009eff"/><stop offset="0.143" stop-color="#0080ff"/><stop offset="0.209" stop-color="#0071ff"/><stop offset="0.274" stop-color="#0057ff"/><stop offset="0.38" stop-color="#0005ff"/><stop offset="0.57" stop-color="#0000d7"/><stop offset="0.903" stop-color="#0000c4"/><stop offset="1" stop-color="#0000c2"/></linearGradient>
<linearGradient id="h51"><stop offset="0" stop-color="#0000dc"/><stop offset="0.072" stop-color="#0000f2"/><stop offset="0.075" stop-color="#00bfff"/><stop offset="0.078" stop-color="#63ff9c"/><stop offset="0.084" stop-color="#00fcff"/><stop offset="0.087" stop-color="#00e0ff"/><stop offset="0.103" stop-color="#00a1ff"/><stop offset="0.143" stop-color="#0081ff"/><stop offset="0.209" stop-color="#0070ff"/><stop offset="0.274" stop-color="#0054ff"/><stop offset="0.374" stop-color="#0008ff"/><stop offset="0.43" stop-color="#0000f8"/><stop offset="0.629" stop-color="#0000ce"/><stop offset="1" stop-color="#0000c2"/></linearGradient>
<linearGradient id="h52"><stop offset="0" stop-color="#0000de"/><stop offset="0.072" stop-color="#0000f2"/><stop offset="0.075" stop-color="#0094ff"/><stop offset="0.078" stop-color="#5bffa4"/><stop offset="0.084" stop-color="#00feff"/><stop offset="0.087" stop-color="#00ddff"/><stop offset="0.106" stop-color="#009dff"/><stop offset="0.146" stop-color="#0081ff"/><stop offset="0.215" stop-color="#006cff"/><stop offset="0.274" stop-color="#0051ff"/><stop offset="0.371" stop-color="#0008ff"/><stop offset="0.421" stop-color="#0000f9"/><stop offset="0.632" stop-color="#0000cd"/><stop offset="1" stop-color="#0000c1"/></linearGradient>
<linearGradient id="h53"><stop offset="0" stop-color="#0000e0"/><stop offset="0.072" stop-color="#0000f3"/><stop offset="0.075" stop-color="#006dff"/><stop offset="0.078" stop-color="#49ffb6"/><stop offset="0.084" stop-color="#00fdff"/><stop offset="0.087" stop-color="#00d9ff"/><stop offset="0.106" stop-color="#009eff"/><stop offset="0.15" stop-color="#0081ff"/><stop offset="0.227" stop-color="#0066ff"/><stop offset="0.287" stop-color="#0046ff"/><stop offset="0.371" stop-color="#0007ff"/><stop offset="0.43" stop-color="#0000f7"/><stop offset="0.636" stop-color="#0000cd"/><stop offset="1" stop-color="#0000c1"/></linearGradient>
<linearGradient id="h54"><stop offset="0" stop-color="#0000e2"/><stop offset="0.072" stop-color="#0000f4"/><stop offset="0.075" stop-color="#004aff"/><stop offset="0.078" stop-color="#19ffe6"/><stop offset="0.081" stop-color="#21ffde"/><stop offset="0.084" stop-color="#00fbff"/><stop offset="0.087" stop-color="#00d6ff"/><stop offset="0.106" stop-color="#009fff"/><stop offset="0.153" stop-color="#0081ff"/><stop offset="0.234" stop-color="#0063ff"/><stop offset="0.299" stop-color="#0039ff"/><stop offset="0.368" stop-color="#0007ff"/><stop offset="0.436" stop-color="#0000f5"/><stop offset="0.642" stop-color="#0000cc"/><stop offset="1" stop-color="#0000c1"/></linearGradient>
<linearGradient id="h55"><stop offset="0" stop-color="#0000e4"/><stop offset="0.072" stop-color="#0000f5"/><stop offset="0.075" stop-color="#002aff"/><stop offset="0.078" stop-color="#00ebff"/><stop offset="0.081" stop-color="#19ffe6"/><stop offset="0.084" stop-color="#00f7ff"/><stop offset="0.087" stop-color="#00d6ff"/><stop offset="0.097" stop-color="#00b8ff"/><stop offset="0.109" stop-color="#009dff"/><stop offset="0.156" stop-color="#0081ff"/><stop offset="0.24" stop-color="#005eff"/><stop offset="0.368" stop-color="#0006ff"/><stop offset="0.53" stop-color="#0000dd"/><stop offset="0.667" stop-color="#0000ca"/><stop offset="1" stop-color="#0000c1"/></linearGradient>
<linearGradient id="h56"><stop offset="0" stop-color="#0000e6"/><stop offset="0.072" stop-color="#0000f6"/><stop offset="0.075" stop-color="#000eff"/><stop offset="0.078" stop-color="#00c3ff"/><stop offset="0.081" stop-color="#0ffff0"/><stop offset="0.084" stop-color="#00f1ff"/><stop offset="0.087" stop-color="#00d5ff"/><stop offset="0.09" stop-color="#00c3ff"/><stop offset="0.112" stop-color="#009bff"/><stop offset="0.159" stop-color="#0080ff"/><stop offset="0.252" stop-color="#0056ff"/><stop offset="0.364" stop-color="#0005ff"/><stop offset="0.636" stop-color="#0000cb"/><stop offset="1" stop-color="#0000c1"/></linearGradient>
<linearGradient id="h57"><stop offset="0" stop-color="#0000e8"/><stop offset="0.075" stop-color="#0000f7"/><stop offset="0.078" stop-color="#009eff"/><stop offset="0.081" stop-color="#04fffb"/><stop offset="0.09" stop-color="#00beff"/><stop offset="0.115" stop-color="#009aff"/><stop offset="0.168" stop-color="#007dff"/><stop offset="0.262" stop-color="#004dff"/><stop offset="0.361" stop-color="#0005ff"/><stop offset="0.651" stop-color="#0000ca"/><stop offset="1" stop-color="#0000c1"/></linearGradient>
<linearGradient id="h58"><stop offset="0" stop-color="#0000ea"/><stop offset="0.075" stop-color="#0000f8"/><stop offset="0.081" stop-color="#00f7ff"/><stop offset="0.09" stop-color="#00b9ff"/><stop offset="0.121" stop-color="#0096ff"/><stop offset="0.255" stop-color="#004fff"/><stop offset="0.358" stop-color="#0005ff"/><stop offset="0.648" stop-color="#0000ca"/><stop offset="1" stop-color="#0000c1"/></linearGradient>
<linearGradient id="h59"><stop offset="0" stop-color="#0000ed"/><stop offset="0.075" stop-color="#0000f8"/><stop offset="0.078" stop-color="#0060ff"/><stop offset="0.081" stop-color="#00eaff"/><stop offset="0.09" stop-color="#00b5ff"/><stop offset="0.137" stop-color="#008cff"/><stop offset="0.227" stop-color="#005eff"/><stop offset="0.358" stop-color="#0003ff"/><stop offset="0.642" stop-color="#0000c9"/><stop offset="1" stop-color="#0000c1"/></linearGradient>
<linearGradient id="h60"><stop offset="0" stop-color="#0000ef"/><stop offset="0.075" stop-color="#0000f9"/><stop offset="0.078" stop-color="#0046ff"/><stop offset="0.081" stop-color="#00caff"/><stop offset="0.084" stop-color="#00cdff"/><stop offset="0.093" stop-color="#00aaff"/><stop offset="0.181" stop-color="#0079ff"/><stop offset="0.312" stop-color="#001dff"/><stop offset="0.364" stop-color="#0000ff"/><stop offset="0.629" stop-color="#0000c9"/><stop offset="1" stop-color="#0000c1"/></linearGradient>
<linearGradient id="h61"><stop offset="0" stop-color="#0000f0"/><stop offset="0.075" stop-color="#0000fa"/><stop offset="0.078" stop-color="#0034ff"/><stop offset="0.081" stop-color="#00b2ff"/><stop offset="0.084" stop-color="#00c6ff"/><stop offset="0.093" stop-color="#00a7ff"/><stop offset="0.231" stop-color="#0059ff"/><stop offset="0.352" stop-color="#0002ff"/><stop offset="0.639" stop-color="#0000c9"/><stop offset="1" stop-color="#0000c1"/></linearGradient>
<linearGradient id="h62"><stop offset="0" stop-color="#0000f2"/><stop offset="0.075" stop-color="#0000fb"/><stop offset="0.078" stop-color="#0027ff"/><stop offset="0.081" stop-color="#00a5ff"/><stop offset="0.084" stop-color="#00c4ff"/><stop offset="0.093" stop-color="#00a7ff"/><stop offset="0.234" stop-color="#0058ff"/><stop offset="0.349" stop-color="#0003ff"/><stop offset="0.645" stop-color="#0000c9"/><stop offset="1" stop-color="#0000c1"/></linearGradient>
<linearGradient id="h63"><stop offset="0" stop-color="#0000f3"/><stop offset="0.075" stop-color="#0000fc"/><stop offset="0.078" stop-color="#001bff"/><stop offset="0.081" stop-color="#0099ff"/><stop offset="0.084" stop-color="#00c1ff"/><stop offset="0.093" stop-color="#00a7ff"/><stop offset="0.237" stop-color="#0057ff"/><stop offset="0.346" stop-color="#0003ff"/><stop offset="0.654" stop-color="#0000c9"/><stop offset="1" stop-color="#0000c1"/></linearGradient>
<linearGradient id="h64"><stop offset="0" stop-color="#0000f4"/><stop offset="0.075" stop-color="#0000fd"/><stop offset="0.078" stop-color="#000eff"/><stop offset="0.081" stop-color="#008cff"/><stop offset="0.084" stop-color="#00beff"/><stop offset="0.097" stop-color="#00a6ff"/><stop offset="0.243" stop-color="#0053ff"/><stop offset="0.343" stop-color="#0004ff"/><stop offset="0.657" stop-color="#0000ca"/><stop offset="1" stop-color="#0000c0"/></linearGradient>
<linearGradient id="h65"><stop offset="0" stop-color="#0000f5"/><stop offset="0.078" stop-color="#0001ff"/><stop offset="0.081" stop-color="#0080ff"/><stop offset="0.084" stop-color="#00bbff"/><stop offset="0.097" stop-color="#00a6ff"/><stop offset="0.212" stop-color="#0069ff"/><stop offset="0.343" stop-color="#0003ff"/><stop offset="0.654" stop-color="#0000ca"/><stop offset="1" stop-color="#0000c0"/></linearGradient>
<linearGradient id="h66"><stop offset="0" stop-color="#0000f7"/><stop offset="0.078" stop-color="#0000fe"/><stop offset="0.081" stop-color="#0073ff"/><stop offset="0.084" stop-color="#00b8ff"/><stop offset="0.097" stop-color="#00a5ff"/><stop offset="0.178" stop-color="#007eff"/><stop offset="0.265" stop-color="#0040ff"/><stop offset="0.343" stop-color="#0002ff"/><stop offset="0.654" stop-color="#0000cb"/><stop offset="1" stop-color="#0000c0"/></linearGradient>
<linearGradient id="h67"><stop offset="0" stop-color="#0000f8"/><stop offset="0.078" stop-color="#0000ff"/><stop offset="0.081" stop-color="#0067ff"/><stop offset="0.084" stop-color="#00b4ff"/><stop offset="0.1" stop-color="#00a4ff"/><stop offset="0.165" stop-color="#0087ff"/><stop offset="0.255" stop-color="#0049ff"/><stop offset="0.336" stop-color="#0005ff"/><stop offset="0.498" stop-color="#0000e3"/><stop offset="0.66" stop-color="#0000cb"/><stop offset="1" stop-color="#0000c0"/></linearGradient>
<linearGradient id="h68"><stop offset="0" stop-color="#0000f9"/><stop offset="0.078" stop-color="#0001ff"/><stop offset="0.084" stop-color="#00b1ff"/><stop offset="0.109" stop-color="#00a3ff"/><stop offset="0.165" stop-color="#0088ff"/><stop offset="0.252" stop-color="#004bff"/><stop offset="0.327" stop-color="#000aff"/><stop offset="0.371" stop-color="#0000fc"/><stop offset="0.648" stop-color="#0000cc"/><stop offset="1" stop-color="#0000c0"/></linearGradient>
<linearGradient id="h69"><stop offset="0" stop-color="#0000fa"/><stop offset="0.078" stop-color="#0002ff"/><stop offset="0.081" stop-color="#004eff"/><stop offset="0.084" stop-color="#00adff"/><stop offset="0.159" stop-color="#008dff"/><stop offset="0.249" stop-color="#004eff"/><stop offset="0.321" stop-color="#000dff"/><stop offset="0.358" stop-color="#0000fe"/><stop offset="0.645" stop-color="#0000cc"/><stop offset="1" stop-color="#0000c0"/></linearGradient>
<linearGradient id="h70"><stop offset="0" stop-color="#0000fc"/><stop offset="0.078" stop-color="#0003ff"/><stop offset="0.081" stop-color="#0041ff"/><stop offset="0.084" stop-color="#00a9ff"/><stop offset="0.153" stop-color="#0094ff"/><stop offset="0.202" stop-color="#0072ff"/><stop offset="0.265" stop-color="#003fff"/><stop offset="0.321" stop-color="#000dff"/><stop offset="0.358" stop-color="#0000fe"/><stop offset="0.645" stop-color="#0000cc"/><stop offset="1" stop-color="#0000c0"/></linearGradient>
<linearGradient id="h71"><stop offset="0" stop-color="#0000fd"/><stop offset="0.078" stop-color="#0004ff"/><stop offset="0.081" stop-color="#0035ff"/><stop offset="0.084" stop-color="#00a5ff"/><stop offset="0.15" stop-color="#0098ff"/><stop offset="0.193" stop-color="#0077ff"/><stop offset="0.243" stop-color="#0055ff"/><stop offset="0.308" stop-color="#0014ff"/><stop offset="0.349" stop-color="#0000ff"/><stop offset="0.52" stop-color="#0000e0"/><stop offset="0.66" stop-color="#0000cc"/><stop offset="1" stop-color="#0000c0"/></linearGradient>
<linearGradient id="h72"><stop offset="0" stop-color="#0000fe"/><stop offset="0.078" stop-color="#0004ff"/><stop offset="0.081" stop-color="#0028ff"/><stop offset="0.084" stop-color="#00a1ff"/><stop offset="0.146" stop-color="#009dff"/><stop offset="0.187" stop-color="#007aff"/><stop offset="0.237" stop-color="#005bff"/><stop offset="0.305" stop-color="#0015ff"/><stop offset="0.349" stop-color="#0000ff"/><stop offset="0.508" stop-color="#0000e4"/><stop offset="0.648" stop-color="#0000cd"/><stop offset="1" stop-color="#0000c0"/></linearGradient>
<linearGradient id="h73"><stop offset="0" stop-color="#0000ff"/><stop offset="0.078" stop-color="#0005ff"/><stop offset="0.081" stop-color="#0020ff"/><stop offset="0.084" stop-color="#009fff"/><stop offset="0.146" stop-color="#009eff"/><stop offset="0.184" stop-color="#007cff"/><stop offset="0.231" stop-color="#0061ff"/><stop offset="0.305" stop-color="#0015ff"/><stop offset="0.346" stop-color="#0000ff"/><stop offset="0.498" stop-color="#0000e6"/><stop offset="0.642" stop-color="#0000ce"/><stop offset="1" stop-color="#0000c0"/></linearGradient>
<linearGradient id="ha"><stop offset="0" stop-color="#0048ff"/><stop offset="0.0216" stop-color="#0048ff"/><stop offset="0.0242" stop-color="#00c8ff"/><stop offset="0.0262" stop-color="#3cffc8"/><stop offset="0.0285" stop-color="#c8ff3c"/><stop offset="0.0309" stop-color="#ffeb00"/><stop offset="0.0355" stop-color="#ff9600"/><stop offset="0.0452" stop-color="#ff7a00"/><stop offset="0.0597" stop-color="#ff8700"/><stop offset="0.074" stop-color="#ffaa00"/><stop offset="0.0903" stop-color="#ffdc00"/><stop offset="0.1037" stop-color="#ffff00"/><stop offset="0.1136" stop-color="#deff24"/><stop offset="0.1363" stop-color="#aaff55"/><stop offset="0.1628" stop-color="#82ff80"/><stop offset="0.1957" stop-color="#3effc4"/><stop offset="0.2284" stop-color="#00ffff"/><stop offset="0.2514" stop-color="#00e6ff"/><stop offset="0.2779" stop-color="#00c8ff"/><stop offset="0.3108" stop-color="#00aaff"/><stop offset="0.36" stop-color="#008cff"/><stop offset="0.4259" stop-color="#0070ff"/><stop offset="0.4914" stop-color="#0060ff"/><stop offset="0.6904" stop-color="#004aff"/><stop offset="1" stop-color="#003eff"/></linearGradient>
<linearGradient id="cbar" x1="0" y1="0" x2="0" y2="1"><stop offset="0" stop-color="#ff0000"/><stop offset="0.5" stop-color="#ffffff"/><stop offset="1" stop-color="#0000ff"/></linearGradient>
<path id="mk" d="M-11.2 0H11.2M0 -11.2V11.2M-7.9 -7.9L7.9 7.9M-7.9 7.9L7.9 -7.9" fill="none" stroke-width="6.6"/>
</defs>
<rect x="0" y="0" width="1772" height="2072" fill="#ffffff" stroke="none" stroke-width="1"/>
<rect x="81.2" y="359.5" width="1683.7" height="294.7" fill="#fafafa" stroke="#050505" stroke-width="1.9"/>
<rect x="81.2" y="664.8" width="1683.7" height="294.6" fill="#fafafa" stroke="#050505" stroke-width="1.9"/>
<rect x="81.2" y="970" width="1683.7" height="348" fill="#fafafa" stroke="#050505" stroke-width="1.9"/>
<text x="9.5" y="34" font-size="33" text-anchor="start" font-weight="bold" fill="#000000">A</text>
<text x="10.5" y="368" font-size="33" text-anchor="start" font-weight="bold" fill="#000000">B</text>
<text x="10" y="679.5" font-size="33" text-anchor="start" font-weight="bold" fill="#000000">C</text>
<text x="10.5" y="1018.5" font-size="33" text-anchor="start" font-weight="bold" fill="#000000">D</text>
<text x="10.5" y="1352.5" font-size="33" text-anchor="start" font-weight="bold" fill="#000000">E</text>
<text x="10.5" y="1755" font-size="33" text-anchor="start" font-weight="bold" fill="#000000">F</text>
<text x="458.2" y="42" font-size="34.8" text-anchor="middle" font-weight="bold" fill="#000000">hiPSC-CM</text>
<text x="1330.5" y="42" font-size="34.8" text-anchor="middle" font-weight="bold" fill="#000000">adult CM</text>
<text x="327.8" y="89" font-size="34.8" text-anchor="middle" font-weight="bold" fill="#000000">AP (mV)</text>
<text x="1177.5" y="89" font-size="34.8" text-anchor="middle" font-weight="bold" fill="#000000">AP (mV)</text>
<text x="723" y="89" font-size="34.8" text-anchor="middle" font-weight="bold" fill="#000000">CaT (<tspan font-family="'Liberation Serif', 'DejaVu Serif', serif" font-style="italic" font-weight="normal" font-size="36">μ</tspan>M)</text>
<text x="1582.5" y="89" font-size="34.8" text-anchor="middle" font-weight="bold" fill="#000000">CaT (<tspan font-family="'Liberation Serif', 'DejaVu Serif', serif" font-style="italic" font-weight="normal" font-size="36">μ</tspan>M)</text>
<g shape-rendering="crispEdges">
<rect x="563.1" y="98.5" width="320.9" height="3.6" fill="url(#h0)"/>
<rect x="563.1" y="101.5" width="320.9" height="3.6" fill="url(#h1)"/>
<rect x="563.1" y="104.5" width="320.9" height="3.6" fill="url(#h2)"/>
<rect x="563.1" y="107.5" width="320.9" height="3.6" fill="url(#h3)"/>
<rect x="563.1" y="110.5" width="320.9" height="3.6" fill="url(#h4)"/>
<rect x="563.1" y="113.5" width="320.9" height="3.6" fill="url(#h5)"/>
<rect x="563.1" y="116.5" width="320.9" height="3.6" fill="url(#h6)"/>
<rect x="563.1" y="119.5" width="320.9" height="3.6" fill="url(#h7)"/>
<rect x="563.1" y="122.5" width="320.9" height="3.6" fill="url(#h8)"/>
<rect x="563.1" y="125.5" width="320.9" height="3.6" fill="url(#h9)"/>
<rect x="563.1" y="128.5" width="320.9" height="3.6" fill="url(#h10)"/>
<rect x="563.1" y="131.5" width="320.9" height="3.6" fill="url(#h11)"/>
<rect x="563.1" y="134.5" width="320.9" height="3.6" fill="url(#h12)"/>
<rect x="563.1" y="137.5" width="320.9" height="3.6" fill="url(#h13)"/>
<rect x="563.1" y="140.5" width="320.9" height="3.6" fill="url(#h14)"/>
<rect x="563.1" y="143.5" width="320.9" height="3.6" fill="url(#h15)"/>
<rect x="563.1" y="146.5" width="320.9" height="3.6" fill="url(#h16)"/>
<rect x="563.1" y="149.5" width="320.9" height="3.6" fill="url(#h17)"/>
<rect x="563.1" y="152.5" width="320.9" height="3.6" fill="url(#h18)"/>
<rect x="563.1" y="155.5" width="320.9" height="3.6" fill="url(#h19)"/>
<rect x="563.1" y="158.5" width="320.9" height="3.6" fill="url(#h20)"/>
<rect x="563.1" y="161.5" width="320.9" height="3.6" fill="url(#h21)"/>
<rect x="563.1" y="164.5" width="320.9" height="3.6" fill="url(#h22)"/>
<rect x="563.1" y="167.5" width="320.9" height="3.6" fill="url(#h23)"/>
<rect x="563.1" y="170.5" width="320.9" height="3.6" fill="url(#h24)"/>
<rect x="563.1" y="173.5" width="320.9" height="3.6" fill="url(#h25)"/>
<rect x="563.1" y="176.5" width="320.9" height="3.6" fill="url(#h26)"/>
<rect x="563.1" y="179.5" width="320.9" height="3.6" fill="url(#h27)"/>
<rect x="563.1" y="182.5" width="320.9" height="3.6" fill="url(#h28)"/>
<rect x="563.1" y="185.5" width="320.9" height="3.6" fill="url(#h29)"/>
<rect x="563.1" y="188.5" width="320.9" height="3.6" fill="url(#h30)"/>
<rect x="563.1" y="191.5" width="320.9" height="3.6" fill="url(#h31)"/>
<rect x="563.1" y="194.5" width="320.9" height="3.6" fill="url(#h32)"/>
<rect x="563.1" y="197.5" width="320.9" height="3.6" fill="url(#h33)"/>
<rect x="563.1" y="200.5" width="320.9" height="3.6" fill="url(#h34)"/>
<rect x="563.1" y="203.5" width="320.9" height="3.6" fill="url(#h35)"/>
<rect x="563.1" y="206.5" width="320.9" height="3.6" fill="url(#h36)"/>
<rect x="563.1" y="209.5" width="320.9" height="3.6" fill="url(#h37)"/>
<rect x="563.1" y="212.5" width="320.9" height="3.6" fill="url(#h38)"/>
<rect x="563.1" y="215.5" width="320.9" height="3.6" fill="url(#h39)"/>
<rect x="563.1" y="218.5" width="320.9" height="3.6" fill="url(#h40)"/>
<rect x="563.1" y="221.5" width="320.9" height="3.6" fill="url(#h41)"/>
<rect x="563.1" y="224.5" width="320.9" height="3.6" fill="url(#h42)"/>
<rect x="563.1" y="227.5" width="320.9" height="3.6" fill="url(#h43)"/>
<rect x="563.1" y="230.5" width="320.9" height="3.6" fill="url(#h44)"/>
<rect x="563.1" y="233.5" width="320.9" height="3.6" fill="url(#h45)"/>
<rect x="563.1" y="236.5" width="320.9" height="3.6" fill="url(#h46)"/>
<rect x="563.1" y="239.5" width="320.9" height="3.6" fill="url(#h47)"/>
<rect x="563.1" y="242.5" width="320.9" height="3.6" fill="url(#h48)"/>
<rect x="563.1" y="245.5" width="320.9" height="3.6" fill="url(#h49)"/>
<rect x="563.1" y="248.5" width="320.9" height="3.6" fill="url(#h50)"/>
<rect x="563.1" y="251.5" width="320.9" height="3.6" fill="url(#h51)"/>
<rect x="563.1" y="254.5" width="320.9" height="3.6" fill="url(#h52)"/>
<rect x="563.1" y="257.5" width="320.9" height="3.6" fill="url(#h53)"/>
<rect x="563.1" y="260.5" width="320.9" height="3.6" fill="url(#h54)"/>
<rect x="563.1" y="263.5" width="320.9" height="3.6" fill="url(#h55)"/>
<rect x="563.1" y="266.5" width="320.9" height="3.6" fill="url(#h56)"/>
<rect x="563.1" y="269.5" width="320.9" height="3.6" fill="url(#h57)"/>
<rect x="563.1" y="272.5" width="320.9" height="3.6" fill="url(#h58)"/>
<rect x="563.1" y="275.5" width="320.9" height="3.6" fill="url(#h59)"/>
<rect x="563.1" y="278.5" width="320.9" height="3.6" fill="url(#h60)"/>
<rect x="563.1" y="281.5" width="320.9" height="3.6" fill="url(#h61)"/>
<rect x="563.1" y="284.5" width="320.9" height="3.6" fill="url(#h62)"/>
<rect x="563.1" y="287.5" width="320.9" height="3.6" fill="url(#h63)"/>
<rect x="563.1" y="290.5" width="320.9" height="3.6" fill="url(#h64)"/>
<rect x="563.1" y="293.5" width="320.9" height="3.6" fill="url(#h65)"/>
<rect x="563.1" y="296.5" width="320.9" height="3.6" fill="url(#h66)"/>
<rect x="563.1" y="299.5" width="320.9" height="3.6" fill="url(#h67)"/>
<rect x="563.1" y="302.5" width="320.9" height="3.6" fill="url(#h68)"/>
<rect x="563.1" y="305.5" width="320.9" height="3.6" fill="url(#h69)"/>
<rect x="563.1" y="308.5" width="320.9" height="3.6" fill="url(#h70)"/>
<rect x="563.1" y="311.5" width="320.9" height="3.6" fill="url(#h71)"/>
<rect x="563.1" y="314.5" width="320.9" height="3.6" fill="url(#h72)"/>
<rect x="563.1" y="317.5" width="320.9" height="0.7" fill="url(#h73)"/>
</g>
<rect x="563.1" y="98.5" width="320.9" height="219.7" fill="none" stroke="#262626" stroke-width="1.6"/>
<path d="M563.1 171.73 h3M884 171.73 h-3 M563.1 244.97 h3M884 244.97 h-3 M723.55 98.5 v3M723.55 318.2 v-3" fill="none" stroke="#262626" stroke-width="1.1"/>
<rect x="1411.9" y="98.5" width="343.3" height="219.7" fill="url(#ha)" stroke="#262626" stroke-width="1.6"/>
<path d="M1411.9 171.73 h3M1755.2 171.73 h-3 M1411.9 244.97 h3M1755.2 244.97 h-3 M1583.55 98.5 v3M1583.55 318.2 v-3" fill="none" stroke="#262626" stroke-width="1.1"/>
<path d="M170.55 97.8 V318.1 H488.1" fill="none" stroke="#2a2a2a" stroke-width="1.45"/>
<path d="M296.8 318.1 v-3.2 M423.6 318.1 v-3.2 M170.55 244.87 h3.2 M170.55 171.63 h3.2 M170.55 98.4 h3.2 M170.55 98.4 h3.2" fill="none" stroke="#2a2a2a" stroke-width="1.2"/>
<text x="155.5" y="109.64" font-size="31.4" text-anchor="end" fill="#111111">50</text>
<text x="155.5" y="182.87" font-size="31.4" text-anchor="end" fill="#111111">0</text>
<text x="155.5" y="256.11" font-size="31.4" text-anchor="end" fill="#111111">-50</text>
<text x="155.5" y="329.34" font-size="31.4" text-anchor="end" fill="#111111">-100</text>
<polyline points="169.93,261.95 169.94,259.43 169.96,256.92 170,254.4 170.05,251.89 170.13,249.38 170.31,246.86 170.56,244.36 170.94,241.88 171.6,239.43 172.12,236.97 172.29,234.49 172.42,231.99 172.52,229.48 172.61,226.97 172.68,224.44 172.74,221.92 172.79,219.39 172.85,216.87 172.91,214.35 172.97,211.84 173.02,209.32 173.08,206.81 173.12,204.29 173.17,201.78 173.21,199.26 173.26,196.75 173.3,194.23 173.34,191.72 173.39,189.2 173.43,186.69 173.48,184.17 173.54,181.66 173.6,179.14 173.66,176.63 173.74,174.11 173.82,171.6 173.91,169.08 174,166.57 174.1,164.05 174.2,161.54 174.32,159.03 174.43,156.51 174.55,154 174.68,151.49 174.81,148.98 174.95,146.46 175.09,143.95 175.25,141.44 175.43,138.93 175.63,136.42 175.85,133.92 176.1,131.41 176.41,128.89 176.8,126.39 177.28,123.95 177.98,121.48 179.05,119.09 180.55,117.3 182.86,116.1 185.34,115.7 187.85,116.06 190.2,116.86 192.28,118.22 194.22,119.94 196.1,121.61 197.9,123.36 199.66,125.17 201.39,127.01 203.13,128.83 204.84,130.66 206.55,132.52 208.24,134.38 209.94,136.24 211.63,138.1 213.32,139.96 215.01,141.82 216.7,143.68 218.4,145.54 220.09,147.41 221.78,149.27 223.47,151.14 225.15,153.01 226.84,154.87 228.56,156.71 230.31,158.51 232.08,160.3 233.89,162.05 235.72,163.77 237.59,165.45 239.47,167.12 241.35,168.8 243.2,170.5 245.07,172.19 246.96,173.85 248.9,175.45 250.86,177.02 252.85,178.57 254.85,180.09 256.87,181.6 258.91,183.07 260.98,184.49 263.08,185.87 265.19,187.24 267.31,188.61 269.42,189.97 271.55,191.31 273.68,192.64 275.83,193.96 277.96,195.29 280.09,196.63 282.21,197.98 284.32,199.36 286.41,200.76 288.48,202.19 290.49,203.7 292.42,205.31 294.3,207 296.11,208.74 297.88,210.52 299.6,212.36 301.27,214.25 302.9,216.16 304.5,218.11 306.05,220.09 307.57,222.1 309.03,224.15 310.41,226.24 311.74,228.38 313.04,230.54 314.35,232.69 315.7,234.81 317.05,236.94 318.41,239.07 319.81,241.16 321.29,243.18 322.85,245.16 324.49,247.1 326.24,248.93 328.1,250.56 330.14,252.04 332.31,253.37 334.56,254.47 336.9,255.4 339.31,256.17 341.74,256.79 344.21,257.31 346.7,257.66 349.2,257.9 351.7,258.11 354.22,258.28 356.74,258.41 359.25,258.49 361.76,258.56 364.28,258.61 366.79,258.65 369.31,258.68 371.83,258.72 374.34,258.75 376.86,258.79 379.37,258.84 381.89,258.89 384.4,258.95 386.92,259.02 389.43,259.08 391.95,259.16 394.46,259.23 396.98,259.31 399.49,259.39 402,259.47 404.52,259.56 407.03,259.64 409.55,259.73 412.06,259.82 414.58,259.9 417.09,259.99 419.6,260.07 422.12,260.15 424.63,260.24 427.15,260.31 429.66,260.39 432.18,260.46 434.69,260.54 437.21,260.61 439.72,260.68 442.24,260.76 444.75,260.83 447.26,260.9 449.78,260.97 452.29,261.04 454.81,261.11 457.32,261.18 459.84,261.25 462.35,261.32 464.87,261.39 467.38,261.46 469.9,261.53 472.41,261.6 474.93,261.67 477.44,261.73 479.96,261.8 482.47,261.87 484.99,261.93 487.5,262" fill="none" stroke="#0072bd" stroke-width="7" stroke-linejoin="round" stroke-linecap="butt"/>
<path d="M1015.9 97.8 V318.1 H1341.6" fill="none" stroke="#2a2a2a" stroke-width="1.45"/>
<path d="M1145.7 318.1 v-3.2 M1275.6 318.1 v-3.2 M1015.9 244.87 h3.2 M1015.9 171.63 h3.2 M1015.9 98.4 h3.2 M1015.9 98.4 h3.2" fill="none" stroke="#2a2a2a" stroke-width="1.2"/>
<text x="1000.5" y="109.64" font-size="31.4" text-anchor="end" fill="#111111">50</text>
<text x="1000.5" y="182.87" font-size="31.4" text-anchor="end" fill="#111111">0</text>
<text x="1000.5" y="256.11" font-size="31.4" text-anchor="end" fill="#111111">-50</text>
<text x="1000.5" y="329.34" font-size="31.4" text-anchor="end" fill="#111111">-100</text>
<polyline points="1015.18,290.51 1015.26,287.99 1015.33,285.48 1015.41,282.96 1015.48,280.45 1015.55,277.93 1015.62,275.42 1015.69,272.9 1015.76,270.39 1015.82,267.87 1015.89,265.36 1015.95,262.84 1016,260.33 1016.05,257.81 1016.1,255.29 1016.15,252.78 1016.19,250.26 1016.23,247.75 1016.27,245.23 1016.31,242.72 1016.34,240.2 1016.37,237.68 1016.41,235.17 1016.44,232.65 1016.47,230.14 1016.49,227.62 1016.52,225.1 1016.55,222.59 1016.58,220.07 1016.6,217.56 1016.63,215.04 1016.65,212.52 1016.68,210.01 1016.71,207.49 1016.73,204.98 1016.76,202.46 1016.79,199.94 1016.82,197.43 1016.85,194.91 1016.88,192.4 1016.91,189.88 1016.94,187.37 1016.98,184.85 1017.01,182.33 1017.05,179.82 1017.08,177.3 1017.11,174.79 1017.15,172.27 1017.18,169.75 1017.22,167.24 1017.25,164.72 1017.29,162.21 1017.33,159.69 1017.36,157.17 1017.4,154.66 1017.44,152.14 1017.49,149.63 1017.53,147.11 1017.57,144.6 1017.62,142.08 1017.67,139.56 1017.71,136.84 1017.76,133.8 1017.8,130.56 1017.85,127.22 1017.89,123.89 1017.95,120.68 1018,117.69 1018.07,115.03 1018.14,112.82 1018.23,111.15 1018.32,110.13 1018.43,109.91 1018.64,111.24 1018.94,113.92 1019.27,117.19 1019.58,120.31 1019.82,122.85 1020.01,125.37 1020.21,127.88 1020.44,130.38 1020.73,132.92 1021.06,136.1 1021.54,138.92 1022.29,139.88 1024.49,138.73 1026.91,137.3 1029.14,135.82 1031.29,135.65 1033.33,137.28 1035.46,138.78 1037.74,139.86 1040.09,140.77 1042.48,141.51 1044.91,142.15 1047.36,142.74 1049.82,143.32 1052.27,143.94 1054.68,144.63 1057.06,145.43 1059.43,146.3 1061.77,147.21 1064.11,148.15 1066.45,149.09 1068.78,150.03 1071.11,150.99 1073.43,151.96 1075.75,152.94 1078.06,153.94 1080.37,154.94 1082.67,155.96 1084.97,156.98 1087.26,158.02 1089.55,159.06 1091.84,160.11 1094.12,161.16 1096.41,162.21 1098.69,163.27 1100.97,164.35 1103.23,165.44 1105.48,166.56 1107.72,167.71 1109.96,168.87 1112.18,170.05 1114.39,171.26 1116.59,172.48 1118.78,173.72 1120.96,174.98 1123.13,176.26 1125.28,177.56 1127.41,178.89 1129.53,180.25 1131.63,181.65 1133.69,183.09 1135.69,184.62 1137.6,186.24 1139.46,187.94 1141.29,189.68 1143.11,191.41 1144.91,193.17 1146.67,194.97 1148.38,196.82 1150.03,198.71 1151.65,200.65 1153.22,202.62 1154.75,204.61 1156.25,206.63 1157.72,208.68 1159.15,210.75 1160.55,212.83 1161.93,214.94 1163.29,217.06 1164.61,219.2 1165.9,221.36 1167.15,223.54 1168.36,225.75 1169.55,227.97 1170.7,230.2 1171.84,232.45 1172.94,234.71 1174.03,236.98 1175.09,239.26 1176.14,241.55 1177.16,243.85 1178.17,246.16 1179.15,248.47 1180.12,250.79 1181.07,253.12 1182,255.46 1182.92,257.81 1183.81,260.16 1184.66,262.53 1185.48,264.9 1186.3,267.29 1187.14,269.66 1188.02,272.02 1188.89,274.39 1189.81,276.74 1190.8,279.04 1191.9,281.3 1193.14,283.53 1194.53,285.62 1196.15,287.55 1198.05,289.25 1200.22,290.37 1202.67,291.18 1205.13,291.6 1207.64,291.88 1210.16,292 1212.67,292.04 1215.19,292.07 1217.71,292.09 1220.22,292.11 1222.74,292.12 1225.26,292.12 1227.78,292.12 1230.29,292.12 1232.81,292.12 1235.32,292.12 1237.84,292.12 1240.36,292.12 1242.87,292.12 1245.39,292.12 1247.9,292.12 1250.42,292.12 1252.94,292.12 1255.45,292.12 1257.97,292.12 1260.48,292.12 1263,292.12 1265.52,292.12 1268.03,292.12 1270.55,292.12 1273.06,292.12 1275.58,292.12 1278.1,292.12 1280.61,292.12 1283.13,292.12 1285.65,292.12 1288.16,292.12 1290.68,292.12 1293.19,292.12 1295.71,292.12 1298.23,292.12 1300.74,292.12 1303.26,292.12 1305.77,292.11 1308.29,292.11 1310.81,292.11 1313.32,292.11 1315.84,292.11 1318.35,292.11 1320.87,292.11 1323.39,292.11 1325.9,292.11 1328.42,292.11 1330.94,292.11 1333.45,292.1 1335.97,292.1 1338.48,292.1 1341,292.1" fill="none" stroke="#0072bd" stroke-width="7" stroke-linejoin="round" stroke-linecap="butt"/>
<path d="M166.96 383.15 V628.4 H488.2" fill="none" stroke="#3c3c3c" stroke-width="1.45"/>
<path d="M295.5 628.4 v-3.2 M423.25 628.4 v-3.2 M166.96 612.09 h1.6 M166.96 595.78 h1.6 M166.96 579.47 h1.6 M166.96 563.16 h1.6 M166.96 546.85 h3.2 M166.96 530.54 h1.6 M166.96 514.23 h1.6 M166.96 497.92 h1.6 M166.96 481.61 h1.6 M166.96 465.3 h3.2 M166.96 448.99 h1.6 M166.96 432.68 h1.6 M166.96 416.37 h1.6 M166.96 400.06 h1.6 M166.96 383.75 h3.2 M166.96 383.75 h3.2" fill="none" stroke="#3c3c3c" stroke-width="1.2"/>
<text x="151.5" y="394.99" font-size="31.4" text-anchor="end" fill="#3a3a3a">50</text>
<text x="151.5" y="476.54" font-size="31.4" text-anchor="end" fill="#3a3a3a">0</text>
<text x="151.5" y="558.09" font-size="31.4" text-anchor="end" fill="#3a3a3a">-50</text>
<text x="151.5" y="639.64" font-size="31.4" text-anchor="end" fill="#3a3a3a">-100</text>
<polyline points="167.7,564.99 167.73,562.47 167.77,559.96 167.8,557.45 167.84,554.93 167.87,552.42 167.91,549.91 167.94,547.39 167.98,544.88 168.01,542.36 168.05,539.85 168.08,537.34 168.11,534.82 168.15,532.31 168.18,529.79 168.22,527.28 168.25,524.77 168.28,522.25 168.31,519.74 168.35,517.23 168.38,514.71 168.41,512.2 168.44,509.68 168.47,507.17 168.5,504.66 168.54,502.14 168.57,499.63 168.61,497.11 168.65,494.6 168.69,492.09 168.73,489.57 168.77,487.06 168.81,484.55 168.85,482.03 168.89,479.52 168.93,477 168.98,474.49 169.03,471.98 169.08,469.46 169.13,466.95 169.18,464.43 169.24,461.92 169.3,459.41 169.37,456.9 169.44,454.38 169.51,451.87 169.59,449.36 169.68,446.84 169.78,444.33 169.88,441.81 170,439.3 170.12,436.79 170.26,434.28 170.41,431.77 170.58,429.27 170.77,426.75 171,424.21 171.28,421.68 171.62,419.17 172.03,416.72 172.52,414.31 173.3,411.62 174.42,409.02 175.81,407.26 177.71,406.53 180.36,406.02 183.02,405.82 185.5,406.21 187.94,407.09 190.18,408.12 192.22,409.47 194.14,411.15 195.99,412.96 197.85,414.69 199.68,416.4 201.49,418.14 203.28,419.91 205.05,421.71 206.8,423.52 208.53,425.35 210.24,427.18 211.92,429.05 213.57,430.95 215.2,432.86 216.82,434.78 218.45,436.7 220.09,438.61 221.76,440.49 223.45,442.35 225.15,444.21 226.85,446.06 228.57,447.91 230.31,449.73 232.07,451.52 233.86,453.27 235.69,454.99 237.55,456.68 239.44,458.34 241.36,459.97 243.3,461.57 245.27,463.15 247.25,464.69 249.26,466.19 251.3,467.65 253.37,469.09 255.45,470.51 257.54,471.91 259.62,473.32 261.72,474.71 263.82,476.08 265.93,477.45 268.05,478.81 270.16,480.17 272.27,481.53 274.4,482.88 276.53,484.22 278.66,485.56 280.78,486.93 282.85,488.33 284.89,489.79 286.91,491.31 288.87,492.9 290.73,494.57 292.51,496.34 294.21,498.21 295.84,500.13 297.37,502.11 298.83,504.15 300.22,506.25 301.57,508.39 302.88,510.53 304.16,512.69 305.4,514.88 306.61,517.09 307.8,519.3 308.98,521.53 310.13,523.76 311.24,526.01 312.35,528.27 313.45,530.53 314.58,532.78 315.75,535.01 316.91,537.24 318.09,539.47 319.31,541.68 320.58,543.84 321.94,545.94 323.36,548.05 324.86,550.12 326.47,552.04 328.23,553.76 330.19,555.38 332.33,556.79 334.55,557.85 336.94,558.68 339.4,559.29 341.87,559.68 344.36,559.99 346.87,560.25 349.39,560.46 351.9,560.61 354.41,560.74 356.92,560.85 359.43,560.94 361.94,561.02 364.45,561.09 366.97,561.16 369.48,561.22 372,561.28 374.51,561.35 377.03,561.42 379.54,561.5 382.05,561.58 384.57,561.67 387.08,561.77 389.59,561.86 392.1,561.96 394.61,562.06 397.13,562.16 399.64,562.26 402.15,562.36 404.66,562.46 407.18,562.56 409.69,562.65 412.2,562.74 414.71,562.83 417.23,562.91 419.74,562.99 422.25,563.07 424.76,563.14 427.28,563.21 429.79,563.28 432.3,563.35 434.82,563.42 437.33,563.49 439.84,563.56 442.36,563.63 444.87,563.7 447.38,563.76 449.9,563.82 452.41,563.89 454.92,563.95 457.44,564.01 459.95,564.07 462.46,564.12 464.98,564.18 467.49,564.23 470,564.28 472.52,564.34 475.03,564.38 477.54,564.43 480.06,564.48 482.57,564.52 485.09,564.56 487.6,564.6" fill="none" stroke="#262626" stroke-width="7" stroke-linejoin="round" stroke-linecap="butt"/>
<polyline points="168.07,564.99 168.1,562.47 168.13,559.95 168.16,557.43 168.19,554.91 168.22,552.39 168.25,549.87 168.29,547.35 168.32,544.83 168.36,542.31 168.4,539.79 168.43,537.27 168.47,534.75 168.51,532.23 168.55,529.71 168.6,527.19 168.64,524.67 168.68,522.15 168.72,519.63 168.77,517.11 168.81,514.59 168.86,512.07 168.91,509.55 168.96,507.03 169.02,504.51 169.08,501.99 169.15,499.47 169.22,496.95 169.29,494.43 169.37,491.92 169.46,489.4 169.56,486.88 169.67,484.36 169.78,481.84 169.89,479.32 170.02,476.8 170.14,474.29 170.28,471.77 170.42,469.25 170.56,466.74 170.71,464.22 170.87,461.71 171.05,459.19 171.23,456.67 171.44,454.15 171.66,451.64 171.9,449.13 172.17,446.63 172.47,444.14 172.83,441.64 173.26,439.14 173.77,436.66 174.35,434.21 175,431.8 175.76,429.24 176.68,426.68 177.82,424.47 179.26,422.89 181.47,421.49 184.03,420.53 186.42,420.47 188.77,421.48 191.02,422.82 193.09,424.21 195.05,425.83 196.94,427.52 198.79,429.22 200.6,430.97 202.37,432.77 204.11,434.6 205.82,436.46 207.51,438.35 209.16,440.25 210.79,442.16 212.39,444.11 213.96,446.08 215.51,448.07 217.03,450.08 218.54,452.11 220.03,454.14 221.51,456.18 222.97,458.23 224.43,460.29 225.87,462.36 227.3,464.44 228.71,466.53 230.11,468.63 231.48,470.75 232.82,472.88 234.14,475.02 235.43,477.18 236.69,479.37 237.91,481.57 239.12,483.79 240.3,486.02 241.46,488.26 242.56,490.53 243.63,492.82 244.72,495.1 245.86,497.34 247.11,499.51 248.48,501.61 249.97,503.65 251.49,505.67 252.99,507.7 254.48,509.74 255.98,511.77 257.47,513.81 258.89,515.89 260.21,518.02 261.44,520.22 262.63,522.44 263.82,524.67 265.03,526.88 266.31,529.05 267.61,531.21 268.94,533.36 270.3,535.48 271.68,537.59 273.07,539.7 274.48,541.81 275.94,543.88 277.49,545.84 279.18,547.68 281.02,549.42 282.97,551.06 284.98,552.54 287.1,553.94 289.31,555.18 291.59,556.19 293.98,557.05 296.4,557.75 298.85,558.31 301.32,558.82 303.81,559.26 306.3,559.65 308.8,560 311.3,560.3 313.81,560.57 316.32,560.81 318.83,561.04 321.34,561.26 323.85,561.49 326.36,561.71 328.87,561.93 331.39,562.11 333.9,562.26 336.42,562.38 338.93,562.5 341.45,562.61 343.97,562.72 346.48,562.82 349,562.91 351.52,563 354.04,563.09 356.56,563.17 359.08,563.25 361.6,563.32 364.12,563.39 366.64,563.45 369.16,563.52 371.68,563.57 374.2,563.63 376.72,563.68 379.24,563.73 381.76,563.78 384.28,563.82 386.8,563.87 389.32,563.91 391.84,563.94 394.36,563.98 396.88,564.01 399.4,564.04 401.92,564.08 404.44,564.11 406.96,564.14 409.48,564.17 412,564.2 414.52,564.23 417.04,564.26 419.56,564.29 422.08,564.33 424.6,564.36 427.12,564.4 429.64,564.43 432.16,564.46 434.68,564.5 437.2,564.53 439.72,564.57 442.24,564.6 444.76,564.63 447.28,564.67 449.8,564.7 452.32,564.74 454.84,564.77 457.36,564.8 459.88,564.84 462.4,564.87 464.92,564.9 467.44,564.94 469.96,564.97 472.48,565 475,565.04 477.52,565.07 480.04,565.1 482.56,565.13 485.08,565.17 487.6,565.2" fill="none" stroke="#8e2a2e" stroke-width="7" stroke-linejoin="round" stroke-linecap="butt"/>
<polyline points="166.21,564.99 166.21,562.46 166.23,559.94 166.26,557.41 166.3,554.89 166.35,552.37 166.4,549.85 166.46,547.33 166.6,544.81 166.81,542.3 167.05,539.78 167.29,537.27 167.48,534.75 167.63,532.23 167.77,529.71 167.9,527.19 168.03,524.67 168.15,522.15 168.28,519.63 168.41,517.11 168.55,514.59 168.69,512.07 168.83,509.55 168.97,507.03 169.11,504.51 169.27,501.99 169.45,499.48 169.63,496.96 169.83,494.44 170.05,491.92 170.32,489.41 170.65,486.92 171.17,483.9 171.99,483.11 173.26,485.72 174.3,488.03 175.45,490.26 176.76,492.4 178.16,494.5 179.62,496.56 181.1,498.62 182.57,500.69 183.98,502.79 185.3,504.93 186.58,507.11 187.83,509.3 189.05,511.51 190.23,513.74 191.37,515.99 192.47,518.26 193.53,520.55 194.57,522.85 195.58,525.16 196.59,527.48 197.59,529.8 198.56,532.13 199.5,534.48 200.43,536.83 201.37,539.17 202.36,541.49 203.4,543.78 204.51,546.05 205.65,548.32 206.85,550.57 208.13,552.75 209.5,554.83 211,556.85 212.65,558.81 214.43,560.63 216.32,562.23 218.39,563.68 220.62,564.95 222.92,565.94 225.32,566.79 227.78,567.39 230.25,567.73 232.75,568.01 235.28,568.24 237.81,568.4 240.34,568.46 242.86,568.46 245.38,568.43 247.91,568.38 250.43,568.33 252.95,568.26 255.48,568.19 258,568.13 260.52,568.06 263.05,567.99 265.57,567.9 268.09,567.81 270.61,567.72 273.13,567.62 275.66,567.52 278.18,567.43 280.7,567.34 283.22,567.25 285.74,567.17 288.26,567.09 290.79,567.01 293.31,566.93 295.83,566.85 298.35,566.77 300.88,566.69 303.4,566.62 305.92,566.54 308.44,566.48 310.97,566.41 313.49,566.36 316.01,566.31 318.53,566.27 321.06,566.23 323.58,566.21 326.1,566.18 328.63,566.16 331.15,566.13 333.67,566.11 336.2,566.09 338.72,566.07 341.24,566.05 343.77,566.04 346.29,566.02 348.81,566 351.34,565.99 353.86,565.97 356.38,565.96 358.91,565.95 361.43,565.93 363.95,565.92 366.48,565.91 369,565.9 371.52,565.89 374.05,565.88 376.57,565.87 379.09,565.86 381.62,565.85 384.14,565.84 386.66,565.83 389.19,565.82 391.71,565.82 394.23,565.81 396.76,565.8 399.28,565.79 401.8,565.78 404.33,565.77 406.85,565.76 409.37,565.75 411.9,565.75 414.42,565.74 416.95,565.73 419.47,565.72 421.99,565.71 424.52,565.71 427.04,565.7 429.56,565.69 432.09,565.68 434.61,565.68 437.13,565.67 439.66,565.66 442.18,565.66 444.7,565.65 447.23,565.65 449.75,565.64 452.27,565.64 454.8,565.63 457.32,565.63 459.84,565.62 462.37,565.62 464.89,565.62 467.41,565.61 469.94,565.61 472.46,565.61 474.98,565.61 477.51,565.6 480.03,565.6 482.55,565.6 485.08,565.6 487.6,565.6" fill="none" stroke="#ff2a2e" stroke-width="7" stroke-linejoin="round" stroke-linecap="butt"/>
<path d="M559 386.7 V628.3 H884.2" fill="none" stroke="#3c3c3c" stroke-width="1.45"/>
<path d="M721.2 628.3 v-3.2 M883.6 628.3 v-3.2 M559 604.2 h1.8 M559 580.1 h1.8 M559 556 h1.8 M559 531.9 h1.8 M559 507.8 h3.2 M559 483.7 h1.8 M559 459.6 h1.8 M559 435.5 h1.8 M559 411.4 h1.8 M559 387.3 h3.2 M559 387.3 h3.2" fill="none" stroke="#3c3c3c" stroke-width="1.2"/>
<text x="543.5" y="398.54" font-size="31.4" text-anchor="end" fill="#3a3a3a">1</text>
<text x="543.5" y="519.04" font-size="31.4" text-anchor="end" fill="#3a3a3a">0.5</text>
<text x="543.5" y="639.54" font-size="31.4" text-anchor="end" fill="#3a3a3a">0</text>
<polyline points="559.03,588.3 559.04,585.78 559.07,583.26 559.11,580.74 559.16,578.23 559.23,575.71 559.3,573.19 559.39,570.68 559.48,568.16 559.59,565.65 559.7,563.14 559.81,560.63 559.92,558.11 560.04,555.6 560.18,553.09 560.34,550.58 560.52,548.07 560.73,545.55 560.96,543.04 561.21,540.54 561.49,538.04 561.78,535.54 562.09,533.05 562.46,530.56 562.88,528.08 563.35,525.6 563.87,523.13 564.42,520.67 565.01,518.23 565.65,515.81 566.39,513.39 567.2,511 568.07,508.63 569,506.31 570.02,504 571.15,501.74 572.38,499.55 573.74,497.43 575.27,495.41 576.96,493.55 578.86,491.8 581.17,490.76 583.35,490.06 584.06,488.31 584.55,485.67 584.89,482.73 585.18,480.02 585.43,477.53 585.63,475.02 585.81,472.51 585.99,469.99 586.17,467.48 586.35,464.97 586.52,462.46 586.69,459.95 586.86,457.44 587.04,454.93 587.23,452.42 587.42,449.91 587.62,447.4 587.83,444.89 588.05,442.39 588.29,439.88 588.54,437.37 588.83,434.87 589.2,432.39 589.69,429.84 590.48,427.53 592.17,426.29 593.55,428.19 594.86,430.92 596.25,433.06 597.66,435.14 599.07,437.23 600.42,439.35 601.75,441.48 603.06,443.64 604.34,445.81 605.58,448 606.77,450.21 607.9,452.45 609,454.72 610.06,457 611.12,459.29 612.17,461.58 613.22,463.86 614.28,466.14 615.33,468.43 616.37,470.72 617.4,473.02 618.43,475.31 619.45,477.61 620.47,479.92 621.47,482.22 622.47,484.53 623.47,486.84 624.47,489.15 625.47,491.46 626.45,493.78 627.42,496.11 628.4,498.43 629.39,500.75 630.41,503.04 631.48,505.31 632.6,507.57 633.75,509.82 634.95,512.05 636.21,514.23 637.55,516.34 638.99,518.38 640.56,520.36 642.22,522.27 643.93,524.12 645.71,525.89 647.57,527.59 649.49,529.23 651.45,530.79 653.46,532.29 655.52,533.75 657.6,535.17 659.7,536.57 661.79,537.97 663.88,539.37 665.98,540.77 668.08,542.15 670.19,543.53 672.31,544.89 674.43,546.23 676.56,547.57 678.7,548.9 680.84,550.22 683,551.53 685.17,552.81 687.35,554.05 689.56,555.24 691.79,556.41 694.04,557.54 696.3,558.65 698.57,559.74 700.84,560.82 703.12,561.89 705.4,562.96 707.69,564 709.99,565.02 712.31,566.01 714.64,566.95 716.99,567.85 719.35,568.73 721.71,569.59 724.09,570.43 726.46,571.26 728.84,572.08 731.23,572.89 733.62,573.68 736.01,574.44 738.42,575.18 740.83,575.91 743.24,576.62 745.66,577.31 748.09,577.96 750.53,578.58 752.98,579.16 755.43,579.71 757.89,580.24 760.35,580.76 762.82,581.25 765.29,581.74 767.76,582.23 770.23,582.71 772.7,583.2 775.17,583.7 777.64,584.2 780.12,584.69 782.59,585.16 785.07,585.59 787.55,585.98 790.04,586.3 792.54,586.59 795.04,586.85 797.54,587.09 800.05,587.31 802.56,587.52 805.07,587.72 807.58,587.91 810.09,588.09 812.6,588.27 815.11,588.45 817.62,588.63 820.13,588.81 822.64,588.99 825.16,589.15 827.67,589.31 830.18,589.45 832.69,589.58 835.21,589.69 837.72,589.79 840.23,589.89 842.75,589.99 845.26,590.08 847.78,590.18 850.29,590.27 852.8,590.36 855.32,590.44 857.83,590.52 860.35,590.6 862.87,590.67 865.38,590.73 867.9,590.79 870.41,590.85 872.93,590.89 875.45,590.93 877.96,590.96 880.48,590.99 883,591" fill="none" stroke="#262626" stroke-width="7" stroke-linejoin="round" stroke-linecap="butt"/>
<polyline points="559.03,588.3 559.05,585.77 559.09,583.24 559.16,580.71 559.24,578.18 559.35,575.65 559.48,573.13 559.62,570.6 559.78,568.08 559.94,565.56 560.12,563.04 560.3,560.52 560.49,558.01 560.68,555.49 560.89,552.97 561.15,550.45 561.44,547.93 561.78,545.42 562.15,542.93 562.58,540.45 563.09,537.98 563.71,535.5 564.44,533.04 565.28,530.64 566.2,528.33 567.28,526.06 568.62,523.82 570.16,521.77 571.88,520.05 573.96,518.46 576.26,517.43 578.74,516.98 581.27,516.78 583.66,517.44 585.88,518.9 587.69,520.49 589.26,522.5 590.74,524.64 592.22,526.74 593.59,529 595.1,530.99 597.34,532.37 598.25,531.64 598.72,528.96 599.03,525.71 599.35,523.05 599.62,520.54 599.86,518.02 600.08,515.5 600.32,512.99 600.57,510.47 600.81,507.95 601.06,505.43 601.35,502.92 601.7,500.43 602.17,497.87 602.83,495.39 604.03,493.16 605.88,492.64 607.45,495 608.75,497.17 609.9,499.41 610.98,501.72 612.04,504.03 613.15,506.31 614.26,508.58 615.36,510.86 616.46,513.14 617.6,515.39 618.79,517.62 620.04,519.8 621.35,521.96 622.71,524.09 624.09,526.22 625.46,528.34 626.83,530.46 628.22,532.58 629.62,534.68 631.05,536.76 632.52,538.82 634.02,540.86 635.55,542.88 637.15,544.83 638.82,546.71 640.58,548.52 642.4,550.29 644.23,552.03 646.07,553.78 647.93,555.5 649.85,557.13 651.85,558.67 653.93,560.16 656.11,561.43 658.39,562.44 660.8,563.29 663.25,563.89 665.74,564.34 668.26,564.64 670.77,564.78 673.3,564.86 675.83,564.91 678.36,564.96 680.89,565.04 683.4,565.23 685.9,565.6 688.39,566.03 690.87,566.5 693.34,567.04 695.8,567.63 698.26,568.25 700.7,568.88 703.13,569.56 705.55,570.29 707.97,571.05 710.38,571.8 712.8,572.52 715.23,573.21 717.67,573.88 720.11,574.54 722.55,575.19 725,575.83 727.44,576.46 729.89,577.09 732.34,577.7 734.79,578.31 737.25,578.91 739.71,579.5 742.16,580.1 744.62,580.69 747.09,581.25 749.55,581.78 752.03,582.27 754.51,582.74 757,583.2 759.49,583.65 761.99,584.07 764.49,584.45 766.99,584.8 769.49,585.11 772,585.37 774.51,585.61 777.03,585.82 779.55,586.01 782.07,586.2 784.6,586.38 787.12,586.57 789.64,586.77 792.16,586.99 794.67,587.22 797.19,587.47 799.71,587.71 802.22,587.95 804.74,588.19 807.26,588.4 809.77,588.6 812.29,588.76 814.81,588.9 817.34,589.04 819.86,589.17 822.38,589.31 824.9,589.44 827.42,589.57 829.94,589.7 832.47,589.83 834.99,589.95 837.51,590.07 840.04,590.19 842.56,590.3 845.09,590.41 847.61,590.51 850.14,590.61 852.66,590.7 855.19,590.79 857.71,590.88 860.24,590.95 862.77,591.02 865.29,591.08 867.82,591.14 870.35,591.19 872.88,591.23 875.41,591.26 877.94,591.28 880.47,591.3 883,591.3" fill="none" stroke="#8e2a2e" stroke-width="7" stroke-linejoin="round" stroke-linecap="butt"/>
<polyline points="559.41,593.32 560.97,591.31 562.16,589.03 563.21,586.66 564.78,584.8 567.03,583.4 569.48,583.1 572.03,583.07 574.49,583.66 576.92,584.56 579.32,585.39 581.68,586.36 584.03,587.34 586.41,588.2 588.84,588.84 591.32,589.4 593.81,589.9 596.33,590.33 598.85,590.67 601.37,590.92 603.89,591.14 606.41,591.35 608.94,591.53 611.48,591.7 614.01,591.85 616.55,591.98 619.09,592.1 621.63,592.2 624.17,592.28 626.71,592.35 629.24,592.42 631.78,592.49 634.31,592.55 636.85,592.61 639.39,592.66 641.93,592.72 644.46,592.76 647,592.81 649.54,592.85 652.08,592.88 654.62,592.9 657.15,592.92 659.69,592.94 662.23,592.94 664.77,592.94 667.3,592.94 669.84,592.94 672.38,592.93 674.92,592.92 677.45,592.91 679.99,592.9 682.53,592.89 685.07,592.88 687.61,592.86 690.14,592.85 692.68,592.83 695.22,592.82 697.76,592.8 700.29,592.78 702.83,592.76 705.37,592.75 707.91,592.73 710.44,592.71 712.98,592.69 715.52,592.68 718.06,592.65 720.59,592.63 723.13,592.6 725.67,592.58 728.21,592.55 730.74,592.52 733.28,592.48 735.82,592.45 738.36,592.42 740.89,592.38 743.43,592.35 745.97,592.32 748.51,592.28 751.04,592.25 753.58,592.22 756.12,592.19 758.66,592.16 761.19,592.14 763.73,592.11 766.27,592.09 768.81,592.07 771.34,592.06 773.88,592.04 776.42,592.03 778.96,592.01 781.49,591.99 784.03,591.98 786.57,591.96 789.11,591.95 791.64,591.93 794.18,591.92 796.72,591.9 799.26,591.89 801.8,591.87 804.33,591.86 806.87,591.84 809.41,591.83 811.95,591.82 814.48,591.8 817.02,591.79 819.56,591.78 822.1,591.76 824.63,591.75 827.17,591.74 829.71,591.73 832.25,591.72 834.78,591.71 837.32,591.7 839.86,591.69 842.4,591.68 844.93,591.67 847.47,591.66 850.01,591.65 852.55,591.65 855.09,591.64 857.62,591.63 860.16,591.63 862.7,591.62 865.24,591.62 867.77,591.61 870.31,591.61 872.85,591.61 875.39,591.6 877.92,591.6 880.46,591.6 883,591.6" fill="none" stroke="#ff2a2e" stroke-width="7" stroke-linejoin="round" stroke-linecap="butt"/>
<path d="M1016 386.7 V628.3 H1337.6" fill="none" stroke="#3c3c3c" stroke-width="1.45"/>
<path d="M1143.9 628.3 v-3.2 M1272.6 628.3 v-3.2 M1016 612.24 h1.6 M1016 596.17 h1.6 M1016 580.1 h1.6 M1016 564.04 h1.6 M1016 547.97 h3.2 M1016 531.9 h1.6 M1016 515.83 h1.6 M1016 499.77 h1.6 M1016 483.7 h1.6 M1016 467.63 h3.2 M1016 451.57 h1.6 M1016 435.5 h1.6 M1016 419.43 h1.6 M1016 403.37 h1.6 M1016 387.3 h3.2 M1016 387.3 h3.2" fill="none" stroke="#3c3c3c" stroke-width="1.2"/>
<text x="1000.5" y="398.54" font-size="31.4" text-anchor="end" fill="#3a3a3a">50</text>
<text x="1000.5" y="478.87" font-size="31.4" text-anchor="end" fill="#3a3a3a">0</text>
<text x="1000.5" y="559.21" font-size="31.4" text-anchor="end" fill="#3a3a3a">-50</text>
<text x="1000.5" y="639.54" font-size="31.4" text-anchor="end" fill="#3a3a3a">-100</text>
<polyline points="1015.29,598.34 1015.34,595.83 1015.38,593.32 1015.43,590.81 1015.48,588.3 1015.53,585.78 1015.57,583.27 1015.62,580.76 1015.66,578.25 1015.71,575.74 1015.75,573.23 1015.79,570.72 1015.84,568.21 1015.88,565.7 1015.92,563.18 1015.96,560.67 1016,558.16 1016.04,555.65 1016.08,553.14 1016.12,550.63 1016.16,548.12 1016.2,545.61 1016.24,543.09 1016.28,540.58 1016.31,538.07 1016.35,535.56 1016.39,533.05 1016.42,530.54 1016.46,528.03 1016.5,525.52 1016.53,523 1016.57,520.49 1016.6,517.98 1016.64,515.47 1016.67,512.96 1016.7,510.45 1016.74,507.94 1016.77,505.43 1016.8,502.91 1016.83,500.4 1016.86,497.89 1016.89,495.38 1016.92,492.87 1016.95,490.36 1016.98,487.85 1017,485.34 1017.03,482.82 1017.05,480.31 1017.07,477.8 1017.09,475.29 1017.11,472.78 1017.13,470.27 1017.15,467.75 1017.17,465.24 1017.19,462.73 1017.22,460.22 1017.24,457.71 1017.26,455.2 1017.28,452.69 1017.3,450.17 1017.33,447.66 1017.36,445.15 1017.38,442.64 1017.41,440.13 1017.44,437.62 1017.48,435.11 1017.51,432.6 1017.55,430.08 1017.59,427.37 1017.64,424.36 1017.68,421.15 1017.74,417.82 1017.79,414.48 1017.86,411.23 1017.93,408.16 1018,405.37 1018.08,402.95 1018.17,401 1018.27,399.62 1018.38,398.9 1018.5,399.03 1018.67,400.34 1018.89,402.61 1019.14,405.52 1019.41,408.78 1019.68,412.08 1019.94,415.12 1020.17,417.74 1020.34,420.49 1020.5,423.26 1020.72,425.86 1021.07,428.06 1022.12,429.79 1024.59,430.35 1026.98,429.36 1029.39,428.39 1031.68,428.74 1033.9,430.15 1036.19,431.26 1038.54,432.14 1040.91,432.98 1043.3,433.77 1045.69,434.54 1048.09,435.29 1050.49,436.06 1052.86,436.87 1055.21,437.73 1057.54,438.67 1059.84,439.67 1062.13,440.71 1064.4,441.78 1066.67,442.86 1068.94,443.94 1071.2,445.04 1073.45,446.15 1075.7,447.28 1077.94,448.42 1080.16,449.58 1082.38,450.75 1084.6,451.94 1086.8,453.15 1089,454.37 1091.18,455.6 1093.36,456.85 1095.53,458.11 1097.7,459.39 1099.85,460.68 1102,461.98 1104.14,463.3 1106.27,464.62 1108.4,465.95 1110.53,467.29 1112.65,468.65 1114.75,470.03 1116.82,471.44 1118.86,472.9 1120.88,474.39 1122.88,475.92 1124.85,477.48 1126.8,479.08 1128.71,480.7 1130.59,482.36 1132.42,484.08 1134.21,485.85 1135.95,487.67 1137.64,489.52 1139.29,491.41 1140.91,493.34 1142.46,495.32 1143.95,497.33 1145.39,499.39 1146.79,501.48 1148.14,503.6 1149.46,505.74 1150.74,507.9 1151.98,510.08 1153.19,512.28 1154.37,514.5 1155.55,516.72 1156.72,518.94 1157.87,521.17 1159.01,523.42 1160.13,525.67 1161.21,527.93 1162.25,530.21 1163.27,532.51 1164.25,534.82 1165.21,537.14 1166.16,539.47 1167.1,541.8 1168.03,544.13 1168.96,546.47 1169.89,548.8 1170.81,551.14 1171.72,553.48 1172.61,555.83 1173.49,558.18 1174.35,560.54 1175.17,562.91 1175.95,565.3 1176.72,567.69 1177.51,570.08 1178.33,572.45 1179.17,574.82 1180.03,577.18 1180.93,579.53 1181.86,581.85 1182.82,584.19 1183.81,586.52 1184.9,588.78 1186.16,590.92 1187.66,593.02 1189.4,594.78 1191.51,596.16 1193.86,596.98 1196.35,597.43 1198.87,597.61 1201.37,597.66 1203.89,597.69 1206.4,597.72 1208.91,597.74 1211.42,597.77 1213.94,597.79 1216.45,597.8 1218.96,597.82 1221.47,597.83 1223.98,597.84 1226.49,597.84 1229.01,597.84 1231.52,597.85 1234.03,597.85 1236.54,597.85 1239.05,597.85 1241.56,597.86 1244.07,597.86 1246.59,597.86 1249.1,597.86 1251.61,597.87 1254.12,597.87 1256.63,597.87 1259.14,597.87 1261.65,597.87 1264.17,597.88 1266.68,597.88 1269.19,597.88 1271.7,597.88 1274.21,597.88 1276.72,597.88 1279.23,597.89 1281.75,597.89 1284.26,597.89 1286.77,597.89 1289.28,597.89 1291.79,597.89 1294.3,597.89 1296.82,597.89 1299.33,597.89 1301.84,597.9 1304.35,597.9 1306.86,597.9 1309.37,597.9 1311.88,597.9 1314.4,597.9 1316.91,597.9 1319.42,597.9 1321.93,597.9 1324.44,597.9 1326.95,597.9 1329.47,597.9 1331.98,597.9 1334.49,597.9 1337,597.9" fill="none" stroke="#262626" stroke-width="7" stroke-linejoin="round" stroke-linecap="butt"/>
<polyline points="1015.29,598.34 1015.34,595.83 1015.38,593.32 1015.43,590.81 1015.48,588.29 1015.53,585.78 1015.57,583.27 1015.62,580.76 1015.66,578.25 1015.71,575.74 1015.75,573.23 1015.79,570.71 1015.84,568.2 1015.88,565.69 1015.92,563.18 1015.96,560.67 1016,558.16 1016.04,555.64 1016.08,553.13 1016.12,550.62 1016.16,548.11 1016.2,545.6 1016.24,543.09 1016.28,540.57 1016.31,538.06 1016.35,535.55 1016.39,533.04 1016.42,530.53 1016.46,528.02 1016.5,525.5 1016.53,522.99 1016.57,520.48 1016.6,517.97 1016.64,515.46 1016.67,512.95 1016.7,510.43 1016.74,507.92 1016.77,505.41 1016.8,502.9 1016.83,500.39 1016.86,497.88 1016.89,495.36 1016.92,492.85 1016.95,490.34 1016.98,487.83 1017,485.32 1017.03,482.81 1017.05,480.29 1017.07,477.78 1017.09,475.27 1017.11,472.76 1017.13,470.25 1017.15,467.73 1017.17,465.22 1017.19,462.71 1017.22,460.2 1017.24,457.69 1017.26,455.18 1017.28,452.66 1017.3,450.15 1017.33,447.64 1017.36,445.13 1017.38,442.62 1017.41,440.1 1017.44,437.59 1017.48,435.08 1017.51,432.57 1017.55,430.06 1017.59,427.34 1017.64,424.33 1017.69,421.11 1017.74,417.78 1017.8,414.45 1017.86,411.2 1017.93,408.13 1018.01,405.34 1018.09,402.92 1018.18,400.98 1018.28,399.61 1018.38,398.9 1018.5,399.02 1018.66,400.27 1018.87,402.44 1019.11,405.26 1019.35,408.46 1019.61,411.79 1019.85,414.97 1020.07,417.74 1020.25,420.25 1020.42,422.76 1020.58,425.27 1020.74,427.78 1020.94,430.29 1021.18,432.78 1021.48,435.42 1021.87,438.63 1022.41,441.45 1023.15,442.74 1024.71,442.14 1027.27,440.8 1029.93,439.65 1032.35,438.98 1034.84,438.46 1037.32,438.38 1039.83,438.69 1042.31,439.16 1044.72,439.73 1047.11,440.5 1049.46,441.43 1051.79,442.45 1054.09,443.5 1056.36,444.54 1058.61,445.66 1060.82,446.85 1063.01,448.1 1065.18,449.37 1067.34,450.66 1069.49,451.96 1071.63,453.28 1073.74,454.64 1075.84,456.02 1077.93,457.43 1080,458.85 1082.05,460.29 1084.09,461.76 1086.12,463.24 1088.13,464.75 1090.12,466.29 1092.09,467.85 1094.02,469.44 1095.94,471.07 1097.84,472.71 1099.72,474.39 1101.57,476.09 1103.4,477.82 1105.19,479.57 1106.96,481.35 1108.71,483.15 1110.43,484.98 1112.13,486.84 1113.8,488.72 1115.45,490.62 1117.08,492.53 1118.68,494.46 1120.24,496.43 1121.78,498.42 1123.28,500.44 1124.75,502.47 1126.18,504.54 1127.58,506.62 1128.96,508.73 1130.3,510.85 1131.63,512.98 1132.94,515.13 1134.22,517.29 1135.47,519.47 1136.69,521.66 1137.87,523.88 1139.03,526.1 1140.17,528.35 1141.28,530.6 1142.35,532.87 1143.4,535.15 1144.41,537.45 1145.4,539.76 1146.36,542.08 1147.31,544.41 1148.24,546.74 1149.18,549.08 1150.1,551.41 1151.02,553.75 1151.92,556.09 1152.82,558.44 1153.71,560.79 1154.6,563.14 1155.49,565.49 1156.38,567.84 1157.25,570.19 1158.13,572.55 1159.01,574.9 1159.91,577.24 1160.8,579.6 1161.72,581.94 1162.69,584.25 1163.75,586.53 1164.88,588.81 1166.13,590.99 1167.59,593 1169.36,594.88 1171.38,596.25 1173.76,597.22 1176.21,597.51 1178.74,597.67 1181.26,597.72 1183.77,597.73 1186.28,597.75 1188.79,597.76 1191.3,597.77 1193.82,597.78 1196.33,597.79 1198.84,597.8 1201.35,597.8 1203.86,597.81 1206.38,597.82 1208.89,597.82 1211.4,597.82 1213.92,597.83 1216.43,597.83 1218.94,597.83 1221.45,597.83 1223.96,597.84 1226.48,597.84 1228.99,597.84 1231.5,597.84 1234.01,597.85 1236.52,597.85 1239.04,597.85 1241.55,597.85 1244.06,597.86 1246.57,597.86 1249.08,597.86 1251.6,597.86 1254.11,597.86 1256.62,597.87 1259.13,597.87 1261.64,597.87 1264.16,597.87 1266.67,597.87 1269.18,597.88 1271.69,597.88 1274.2,597.88 1276.71,597.88 1279.23,597.88 1281.74,597.88 1284.25,597.89 1286.76,597.89 1289.27,597.89 1291.79,597.89 1294.3,597.89 1296.81,597.89 1299.32,597.89 1301.83,597.89 1304.35,597.89 1306.86,597.9 1309.37,597.9 1311.88,597.9 1314.39,597.9 1316.9,597.9 1319.42,597.9 1321.93,597.9 1324.44,597.9 1326.95,597.9 1329.46,597.9 1331.98,597.9 1334.49,597.9 1337,597.9" fill="none" stroke="#8e2a2e" stroke-width="7" stroke-linejoin="round" stroke-linecap="butt"/>
<polyline points="1015.29,598.34 1015.34,595.83 1015.38,593.32 1015.43,590.81 1015.48,588.3 1015.53,585.79 1015.57,583.28 1015.62,580.76 1015.66,578.25 1015.71,575.74 1015.75,573.23 1015.79,570.72 1015.84,568.21 1015.88,565.7 1015.92,563.19 1015.96,560.68 1016,558.17 1016.04,555.66 1016.08,553.15 1016.12,550.64 1016.16,548.13 1016.2,545.61 1016.24,543.1 1016.28,540.59 1016.31,538.08 1016.35,535.57 1016.39,533.06 1016.42,530.55 1016.46,528.04 1016.5,525.53 1016.53,523.02 1016.57,520.51 1016.6,517.99 1016.64,515.48 1016.67,512.97 1016.7,510.46 1016.74,507.95 1016.77,505.44 1016.8,502.93 1016.83,500.42 1016.86,497.91 1016.89,495.4 1016.92,492.89 1016.95,490.37 1016.98,487.86 1017,485.35 1017.03,482.84 1017.05,480.33 1017.07,477.82 1017.09,475.31 1017.11,472.8 1017.13,470.29 1017.15,467.77 1017.17,465.26 1017.19,462.75 1017.21,460.24 1017.24,457.73 1017.26,455.22 1017.28,452.71 1017.3,450.2 1017.33,447.69 1017.35,445.18 1017.38,442.66 1017.41,440.15 1017.44,437.64 1017.48,435.13 1017.51,432.62 1017.55,430.11 1017.59,427.4 1017.64,424.4 1017.68,421.18 1017.74,417.86 1017.8,414.52 1017.86,411.27 1017.93,408.2 1018.01,405.4 1018.09,402.98 1018.18,401.02 1018.27,399.63 1018.38,398.91 1018.49,399.01 1018.66,400.23 1018.87,402.37 1019.11,405.18 1019.37,408.38 1019.62,411.7 1019.85,414.89 1020.06,417.67 1020.24,420.18 1020.41,422.68 1020.57,425.19 1020.73,427.69 1020.89,430.2 1021.06,432.71 1021.23,435.21 1021.4,437.72 1021.56,440.22 1021.74,442.73 1021.94,445.23 1022.14,447.74 1022.34,450.26 1022.56,452.77 1022.84,455.26 1023.18,457.73 1023.71,460.2 1024.48,462.63 1025.48,464.84 1026.94,466.84 1028.68,468.74 1030.35,470.66 1031.97,472.58 1033.6,474.5 1035.21,476.42 1036.77,478.39 1038.27,480.4 1039.74,482.44 1041.18,484.5 1042.59,486.58 1043.97,488.67 1045.32,490.79 1046.65,492.92 1047.95,495.07 1049.23,497.23 1050.48,499.41 1051.71,501.6 1052.92,503.8 1054.12,506.01 1055.31,508.22 1056.51,510.43 1057.69,512.64 1058.87,514.86 1060.03,517.09 1061.17,519.32 1062.29,521.57 1063.4,523.82 1064.5,526.08 1065.57,528.35 1066.63,530.63 1067.66,532.92 1068.68,535.21 1069.67,537.52 1070.64,539.84 1071.6,542.16 1072.54,544.49 1073.48,546.82 1074.42,549.15 1075.35,551.48 1076.27,553.81 1077.19,556.15 1078.09,558.5 1078.97,560.85 1079.84,563.2 1080.68,565.57 1081.48,567.95 1082.25,570.34 1083.03,572.73 1083.83,575.11 1084.66,577.48 1085.49,579.86 1086.35,582.22 1087.28,584.55 1088.29,586.84 1089.4,589.15 1090.64,591.35 1092.1,593.32 1093.93,595.17 1096.03,596.37 1098.45,597.14 1100.95,597.51 1103.45,597.69 1105.97,597.81 1108.49,597.84 1111,597.85 1113.51,597.85 1116.02,597.86 1118.53,597.87 1121.04,597.87 1123.55,597.88 1126.06,597.88 1128.57,597.89 1131.08,597.89 1133.59,597.9 1136.1,597.9 1138.61,597.91 1141.12,597.91 1143.63,597.91 1146.14,597.92 1148.65,597.92 1151.16,597.92 1153.68,597.92 1156.19,597.93 1158.7,597.93 1161.21,597.93 1163.72,597.93 1166.23,597.94 1168.74,597.94 1171.26,597.94 1173.77,597.94 1176.28,597.94 1178.79,597.94 1181.3,597.95 1183.81,597.95 1186.33,597.95 1188.84,597.95 1191.35,597.95 1193.86,597.95 1196.37,597.95 1198.89,597.95 1201.4,597.95 1203.91,597.95 1206.42,597.96 1208.93,597.96 1211.44,597.96 1213.95,597.96 1216.47,597.96 1218.98,597.96 1221.49,597.96 1224,597.96 1226.51,597.96 1229.02,597.97 1231.53,597.97 1234.04,597.97 1236.56,597.97 1239.07,597.97 1241.58,597.97 1244.09,597.97 1246.6,597.97 1249.11,597.98 1251.62,597.98 1254.13,597.98 1256.64,597.98 1259.16,597.98 1261.67,597.98 1264.18,597.98 1266.69,597.98 1269.2,597.98 1271.71,597.99 1274.22,597.99 1276.73,597.99 1279.24,597.99 1281.76,597.99 1284.27,597.99 1286.78,597.99 1289.29,597.99 1291.8,597.99 1294.31,597.99 1296.82,597.99 1299.33,597.99 1301.84,598 1304.36,598 1306.87,598 1309.38,598 1311.89,598 1314.4,598 1316.91,598 1319.42,598 1321.93,598 1324.44,598 1326.96,598 1329.47,598 1331.98,598 1334.49,598 1337,598" fill="none" stroke="#ff2a2e" stroke-width="7" stroke-linejoin="round" stroke-linecap="butt"/>
<path d="M1412.2 383.2 V628.4 H1748.4" fill="none" stroke="#3c3c3c" stroke-width="1.45"/>
<path d="M1580.1 628.4 v-3.2 M1747.8 628.4 v-3.2 M1412.2 610.93 h1.6 M1412.2 593.46 h1.6 M1412.2 575.99 h1.6 M1412.2 558.51 h3.2 M1412.2 541.04 h1.6 M1412.2 523.57 h1.6 M1412.2 506.1 h1.6 M1412.2 488.63 h3.2 M1412.2 471.16 h1.6 M1412.2 453.69 h1.6 M1412.2 436.21 h1.6 M1412.2 418.74 h3.2 M1412.2 401.27 h1.6 M1412.2 383.8 h1.6 M1412.2 383.8 h3.2" fill="none" stroke="#3c3c3c" stroke-width="1.2"/>
<text x="1397" y="429.98" font-size="31.4" text-anchor="end" fill="#3a3a3a">0.6</text>
<text x="1397" y="499.87" font-size="31.4" text-anchor="end" fill="#3a3a3a">0.4</text>
<text x="1397" y="569.76" font-size="31.4" text-anchor="end" fill="#3a3a3a">0.2</text>
<text x="1397" y="639.64" font-size="31.4" text-anchor="end" fill="#3a3a3a">0</text>
<polyline points="1412.17,598.34 1414.59,597.29 1416.35,595.72 1417.68,593.47 1418.46,591.1 1418.98,588.65 1419.37,586.12 1419.67,583.59 1419.91,581.09 1420.11,578.58 1420.28,576.06 1420.43,573.54 1420.57,571.02 1420.69,568.5 1420.81,565.98 1420.91,563.46 1421,560.94 1421.09,558.42 1421.17,555.9 1421.25,553.38 1421.32,550.86 1421.4,548.34 1421.49,545.82 1421.58,543.3 1421.67,540.78 1421.75,538.26 1421.84,535.74 1421.92,533.22 1422.01,530.7 1422.1,528.18 1422.2,525.66 1422.32,523.14 1422.44,520.63 1422.58,518.11 1422.74,515.59 1422.93,513.06 1423.17,510.54 1423.46,508.04 1423.83,505.57 1424.38,503 1425.27,500.59 1426.86,498.75 1429.18,498.43 1431.4,499.86 1433.15,501.6 1434.71,503.66 1436.2,505.69 1437.61,507.78 1438.98,509.9 1440.33,512.03 1441.66,514.17 1442.96,516.33 1444.28,518.49 1445.62,520.62 1446.99,522.73 1448.39,524.84 1449.82,526.91 1451.29,528.95 1452.81,530.96 1454.36,532.95 1455.93,534.93 1457.51,536.9 1459.09,538.86 1460.7,540.8 1462.36,542.7 1464.07,544.54 1465.84,546.34 1467.65,548.1 1469.48,549.84 1471.33,551.55 1473.2,553.24 1475.11,554.89 1477.04,556.51 1479,558.09 1480.99,559.64 1483.02,561.13 1485.09,562.58 1487.17,564.01 1489.25,565.43 1491.34,566.84 1493.46,568.21 1495.63,569.48 1497.85,570.67 1500.09,571.84 1502.33,572.99 1504.59,574.13 1506.86,575.22 1509.15,576.27 1511.46,577.28 1513.8,578.22 1516.16,579.08 1518.55,579.91 1520.93,580.75 1523.31,581.57 1525.71,582.35 1528.12,583.09 1530.54,583.81 1532.97,584.49 1535.4,585.15 1537.85,585.75 1540.3,586.31 1542.77,586.83 1545.24,587.33 1547.72,587.79 1550.2,588.24 1552.69,588.66 1555.18,589.06 1557.67,589.43 1560.17,589.79 1562.67,590.12 1565.17,590.44 1567.67,590.73 1570.18,591.01 1572.68,591.27 1575.19,591.52 1577.7,591.75 1580.22,591.96 1582.73,592.16 1585.24,592.36 1587.76,592.54 1590.27,592.71 1592.79,592.87 1595.3,593.02 1597.82,593.17 1600.34,593.3 1602.86,593.42 1605.38,593.53 1607.89,593.63 1610.41,593.73 1612.93,593.82 1615.45,593.91 1617.97,594 1620.49,594.09 1623.01,594.18 1625.53,594.27 1628.05,594.36 1630.57,594.45 1633.09,594.54 1635.61,594.63 1638.13,594.72 1640.65,594.81 1643.17,594.9 1645.69,594.99 1648.21,595.07 1650.73,595.16 1653.25,595.24 1655.77,595.32 1658.28,595.4 1660.8,595.48 1663.32,595.55 1665.84,595.63 1668.36,595.7 1670.88,595.77 1673.4,595.84 1675.92,595.9 1678.44,595.96 1680.96,596.02 1683.48,596.08 1686,596.14 1688.53,596.19 1691.05,596.25 1693.57,596.31 1696.09,596.36 1698.61,596.41 1701.13,596.47 1703.65,596.52 1706.17,596.57 1708.69,596.62 1711.21,596.67 1713.73,596.71 1716.25,596.76 1718.77,596.8 1721.29,596.85 1723.81,596.89 1726.33,596.93 1728.85,596.97 1731.37,597.01 1733.9,597.04 1736.42,597.08 1738.94,597.11 1741.46,597.14 1743.98,597.17 1746.5,597.2" fill="none" stroke="#262626" stroke-width="7" stroke-linejoin="round" stroke-linecap="butt"/>
<polyline points="1412.17,601.48 1414.67,600.93 1417.1,600.2 1419.46,599.35 1421.8,598.29 1423.95,597.01 1425.82,595.36 1427.56,593.46 1429.31,591.61 1431.05,589.74 1432.84,587.94 1434.78,586.36 1436.91,584.94 1439.16,583.8 1441.54,582.91 1443.99,582.26 1446.48,581.82 1449,581.49 1451.53,581.32 1454.06,581.2 1456.59,581.15 1459.12,581.24 1461.65,581.44 1464.17,581.64 1466.69,581.9 1469.21,582.19 1471.73,582.52 1474.23,582.88 1476.74,583.26 1479.23,583.7 1481.72,584.18 1484.2,584.68 1486.68,585.19 1489.17,585.68 1491.65,586.18 1494.13,586.68 1496.62,587.19 1499.1,587.68 1501.59,588.15 1504.08,588.61 1506.57,589.06 1509.07,589.5 1511.56,589.94 1514.06,590.38 1516.55,590.82 1519.05,591.25 1521.54,591.67 1524.04,592.08 1526.54,592.49 1529.05,592.88 1531.55,593.26 1534.06,593.63 1536.56,593.99 1539.07,594.34 1541.58,594.69 1544.09,595.03 1546.6,595.35 1549.12,595.66 1551.63,595.95 1554.15,596.22 1556.67,596.48 1559.19,596.72 1561.71,596.96 1564.24,597.18 1566.76,597.4 1569.29,597.6 1571.81,597.8 1574.34,597.99 1576.86,598.18 1579.39,598.37 1581.92,598.55 1584.44,598.73 1586.97,598.89 1589.5,599.04 1592.03,599.18 1594.56,599.31 1597.09,599.43 1599.62,599.54 1602.15,599.66 1604.68,599.77 1607.21,599.89 1609.74,600 1612.27,600.1 1614.8,600.2 1617.33,600.28 1619.86,600.35 1622.4,600.4 1624.93,600.46 1627.46,600.51 1629.99,600.56 1632.52,600.6 1635.06,600.65 1637.59,600.69 1640.12,600.73 1642.65,600.77 1645.19,600.81 1647.72,600.85 1650.25,600.88 1652.78,600.92 1655.32,600.95 1657.85,600.98 1660.38,601.01 1662.92,601.04 1665.45,601.06 1667.98,601.09 1670.52,601.11 1673.05,601.14 1675.58,601.16 1678.11,601.18 1680.65,601.21 1683.18,601.23 1685.71,601.25 1688.24,601.27 1690.78,601.29 1693.31,601.31 1695.84,601.33 1698.38,601.35 1700.91,601.37 1703.44,601.39 1705.97,601.41 1708.51,601.42 1711.04,601.44 1713.57,601.46 1716.11,601.47 1718.64,601.49 1721.17,601.5 1723.7,601.52 1726.24,601.53 1728.77,601.54 1731.3,601.55 1733.84,601.56 1736.37,601.57 1738.9,601.58 1741.43,601.59 1743.97,601.6 1746.5,601.6" fill="none" stroke="#8e2a2e" stroke-width="7" stroke-linejoin="round" stroke-linecap="butt"/>
<polyline points="1412.17,603.36 1414.7,603.36 1417.24,603.37 1419.77,603.37 1422.3,603.37 1424.84,603.38 1427.37,603.38 1429.9,603.39 1432.43,603.39 1434.97,603.39 1437.5,603.4 1440.03,603.4 1442.57,603.4 1445.1,603.41 1447.63,603.41 1450.16,603.41 1452.7,603.42 1455.23,603.42 1457.76,603.43 1460.29,603.43 1462.83,603.43 1465.36,603.44 1467.89,603.44 1470.43,603.44 1472.96,603.45 1475.49,603.45 1478.02,603.45 1480.56,603.46 1483.09,603.46 1485.62,603.46 1488.16,603.47 1490.69,603.47 1493.22,603.47 1495.75,603.48 1498.29,603.48 1500.82,603.48 1503.35,603.49 1505.88,603.49 1508.42,603.49 1510.95,603.49 1513.48,603.5 1516.02,603.5 1518.55,603.5 1521.08,603.51 1523.61,603.51 1526.15,603.51 1528.68,603.52 1531.21,603.52 1533.75,603.52 1536.28,603.53 1538.81,603.53 1541.34,603.53 1543.88,603.53 1546.41,603.54 1548.94,603.54 1551.48,603.54 1554.01,603.54 1556.54,603.55 1559.07,603.55 1561.61,603.55 1564.14,603.56 1566.67,603.56 1569.2,603.56 1571.74,603.56 1574.27,603.57 1576.8,603.57 1579.34,603.57 1581.87,603.57 1584.4,603.58 1586.93,603.58 1589.47,603.58 1592,603.58 1594.53,603.59 1597.07,603.59 1599.6,603.59 1602.13,603.59 1604.66,603.6 1607.2,603.6 1609.73,603.6 1612.26,603.6 1614.79,603.61 1617.33,603.61 1619.86,603.61 1622.39,603.61 1624.93,603.61 1627.46,603.62 1629.99,603.62 1632.52,603.62 1635.06,603.62 1637.59,603.63 1640.12,603.63 1642.66,603.63 1645.19,603.63 1647.72,603.63 1650.25,603.64 1652.79,603.64 1655.32,603.64 1657.85,603.64 1660.39,603.64 1662.92,603.65 1665.45,603.65 1667.98,603.65 1670.52,603.65 1673.05,603.65 1675.58,603.66 1678.11,603.66 1680.65,603.66 1683.18,603.66 1685.71,603.66 1688.25,603.66 1690.78,603.67 1693.31,603.67 1695.84,603.67 1698.38,603.67 1700.91,603.67 1703.44,603.67 1705.98,603.68 1708.51,603.68 1711.04,603.68 1713.57,603.68 1716.11,603.68 1718.64,603.68 1721.17,603.69 1723.7,603.69 1726.24,603.69 1728.77,603.69 1731.3,603.69 1733.84,603.69 1736.37,603.69 1738.9,603.7 1741.43,603.7 1743.97,603.7 1746.5,603.7" fill="none" stroke="#ff2a2e" stroke-width="7" stroke-linejoin="round" stroke-linecap="butt"/>
<path d="M163.8 699.4 V931.9 H487.85" fill="none" stroke="#3c3c3c" stroke-width="1.45"/>
<path d="M293.4 931.9 v-3.2 M422.6 931.9 v-3.2 M163.8 916.44 h1.6 M163.8 900.98 h1.6 M163.8 885.52 h1.6 M163.8 870.06 h1.6 M163.8 854.6 h3.2 M163.8 839.14 h1.6 M163.8 823.68 h1.6 M163.8 808.22 h1.6 M163.8 792.76 h1.6 M163.8 777.3 h3.2 M163.8 761.84 h1.6 M163.8 746.38 h1.6 M163.8 730.92 h1.6 M163.8 715.46 h1.6 M163.8 700 h3.2 M163.8 700 h3.2" fill="none" stroke="#3c3c3c" stroke-width="1.2"/>
<text x="148" y="711.24" font-size="31.4" text-anchor="end" fill="#3a3a3a">50</text>
<text x="148" y="788.54" font-size="31.4" text-anchor="end" fill="#3a3a3a">0</text>
<text x="148" y="865.84" font-size="31.4" text-anchor="end" fill="#3a3a3a">-50</text>
<text x="148" y="943.14" font-size="31.4" text-anchor="end" fill="#3a3a3a">-100</text>
<polyline points="163.28,873.83 163.28,871.3 163.29,868.78 163.31,866.26 163.33,863.75 163.36,861.24 163.4,858.75 163.58,856.26 164.08,853.79 164.61,851.31 164.89,848.82 165.1,846.32 165.29,843.82 165.45,841.31 165.6,838.8 165.72,836.28 165.84,833.77 165.93,831.25 166.02,828.74 166.1,826.23 166.16,823.72 166.23,821.2 166.28,818.69 166.34,816.18 166.38,813.67 166.43,811.15 166.47,808.64 166.51,806.13 166.55,803.61 166.59,801.1 166.64,798.58 166.68,796.07 166.73,793.56 166.78,791.04 166.84,788.53 166.89,786.02 166.94,783.5 166.99,780.99 167.04,778.48 167.09,775.96 167.15,773.45 167.21,770.94 167.27,768.43 167.33,765.91 167.41,763.4 167.48,760.89 167.57,758.38 167.66,755.86 167.77,753.35 167.89,750.83 168.02,748.31 168.17,745.8 168.34,743.29 168.53,740.79 168.75,738.3 169.01,735.79 169.36,733.24 169.81,730.69 170.37,728.22 171.05,725.88 171.99,723.63 173.51,721.38 175.35,719.69 177.56,718.72 180.13,718.14 182.36,718.58 184.45,720.2 186.4,722.02 188.19,723.75 189.86,725.64 191.49,727.58 193.16,729.47 194.85,731.33 196.54,733.19 198.23,735.05 199.92,736.91 201.62,738.77 203.31,740.63 205,742.49 206.68,744.36 208.35,746.24 210.01,748.13 211.68,750.02 213.36,751.89 215.06,753.74 216.79,755.55 218.57,757.32 220.38,759.05 222.22,760.76 224.1,762.45 225.99,764.11 227.89,765.75 229.8,767.39 231.72,769 233.66,770.6 235.62,772.18 237.59,773.74 239.57,775.3 241.55,776.84 243.54,778.38 245.53,779.92 247.52,781.45 249.52,782.98 251.54,784.48 253.57,785.96 255.62,787.41 257.69,788.83 259.78,790.22 261.89,791.59 264.01,792.94 266.14,794.28 268.27,795.62 270.42,796.92 272.59,798.19 274.77,799.45 276.93,800.73 279.08,802.04 281.19,803.4 283.27,804.81 285.32,806.27 287.34,807.76 289.35,809.28 291.33,810.85 293.2,812.5 294.98,814.27 296.68,816.13 298.32,818.05 299.9,820 301.42,821.99 302.89,824.04 304.32,826.12 305.7,828.22 307.03,830.34 308.32,832.5 309.57,834.68 310.81,836.87 312.06,839.06 313.27,841.26 314.46,843.48 315.64,845.7 316.87,847.9 318.16,850.04 319.51,852.18 320.9,854.31 322.37,856.37 323.95,858.29 325.69,860.06 327.62,861.74 329.68,863.21 331.85,864.41 334.17,865.48 336.58,866.23 339.01,866.63 341.49,866.95 344.01,867.21 346.54,867.4 349.07,867.54 351.57,867.64 354.08,867.72 356.59,867.79 359.11,867.85 361.62,867.9 364.14,867.95 366.65,867.99 369.17,868.04 371.68,868.1 374.19,868.16 376.71,868.24 379.22,868.31 381.73,868.39 384.24,868.47 386.75,868.55 389.27,868.63 391.78,868.71 394.29,868.8 396.8,868.88 399.31,868.97 401.83,869.06 404.34,869.15 406.85,869.24 409.36,869.33 411.87,869.43 414.38,869.52 416.9,869.62 419.41,869.72 421.92,869.82 424.43,869.92 426.94,870.02 429.45,870.13 431.97,870.23 434.48,870.34 436.99,870.45 439.5,870.56 442.01,870.68 444.52,870.79 447.03,870.91 449.54,871.03 452.05,871.14 454.56,871.27 457.08,871.39 459.59,871.51 462.1,871.64 464.61,871.77 467.12,871.9 469.63,872.03 472.14,872.16 474.65,872.3 477.16,872.43 479.67,872.57 482.18,872.71 484.69,872.86 487.2,873" fill="none" stroke="#262626" stroke-width="7" stroke-linejoin="round" stroke-linecap="butt"/>
<polyline points="163.16,873.83 163.16,871.29 163.17,868.75 163.18,866.22 163.21,863.71 163.24,861.2 163.27,858.7 163.48,856.21 164.06,853.75 164.7,851.28 165.1,848.8 165.36,846.3 165.6,843.79 165.82,841.28 166.01,838.76 166.18,836.24 166.32,833.71 166.43,831.19 166.53,828.67 166.6,826.15 166.66,823.63 166.71,821.11 166.76,818.59 166.81,816.07 166.85,813.55 166.88,811.03 166.92,808.51 166.95,805.99 166.98,803.46 167.01,800.94 167.05,798.42 167.08,795.9 167.12,793.38 167.16,790.85 167.21,788.33 167.25,785.81 167.3,783.29 167.34,780.77 167.38,778.25 167.43,775.73 167.47,773.2 167.52,770.68 167.57,768.16 167.63,765.64 167.69,763.12 167.75,760.6 167.83,758.08 167.91,755.56 167.99,753.04 168.09,750.51 168.2,747.99 168.32,745.47 168.46,742.96 168.61,740.44 168.79,737.93 168.99,735.41 169.24,732.87 169.54,730.33 169.92,727.82 170.37,725.37 170.92,722.97 171.77,720.41 172.92,717.94 174.29,715.89 175.94,714.46 178.24,713.23 180.82,712.44 183.28,712.42 185.79,712.93 188.26,713.74 190.56,714.65 192.7,715.88 194.73,717.46 196.66,719.19 198.49,720.9 200.21,722.73 201.85,724.66 203.44,726.65 204.99,728.64 206.51,730.65 207.98,732.7 209.43,734.77 210.87,736.84 212.33,738.9 213.77,740.96 215.22,743.03 216.7,745.07 218.21,747.08 219.77,749.07 221.34,751.04 222.94,752.99 224.56,754.93 226.2,756.85 227.85,758.76 229.51,760.65 231.19,762.53 232.9,764.38 234.63,766.21 236.38,768.03 238.14,769.84 239.9,771.65 241.65,773.46 243.39,775.28 245.15,777.1 246.91,778.91 248.67,780.71 250.42,782.53 252.16,784.35 253.88,786.2 255.56,788.07 257.2,789.98 258.81,791.93 260.4,793.88 262.01,795.82 263.65,797.74 265.3,799.66 266.9,801.6 268.43,803.6 269.88,805.66 271.28,807.76 272.65,809.88 274,812.01 275.33,814.15 276.64,816.31 277.93,818.48 279.19,820.67 280.41,822.87 281.59,825.1 282.73,827.34 283.84,829.61 284.95,831.88 286.05,834.14 287.18,836.4 288.28,838.67 289.38,840.95 290.48,843.22 291.62,845.47 292.8,847.69 294.03,849.89 295.29,852.1 296.6,854.28 297.99,856.38 299.48,858.37 301.12,860.28 302.9,862.11 304.79,863.8 306.78,865.3 308.92,866.7 311.16,867.89 313.47,868.82 315.9,869.62 318.36,870.1 320.85,870.36 323.36,870.56 325.89,870.72 328.42,870.85 330.95,870.96 333.47,871.05 335.98,871.12 338.51,871.19 341.03,871.25 343.55,871.3 346.07,871.36 348.59,871.42 351.11,871.49 353.63,871.56 356.15,871.64 358.67,871.71 361.19,871.78 363.71,871.86 366.23,871.93 368.75,872.01 371.28,872.09 373.8,872.16 376.32,872.24 378.84,872.32 381.36,872.4 383.88,872.48 386.4,872.56 388.92,872.64 391.44,872.72 393.96,872.8 396.48,872.88 399,872.96 401.52,873.04 404.04,873.12 406.56,873.2 409.08,873.28 411.6,873.37 414.12,873.45 416.64,873.53 419.16,873.62 421.68,873.7 424.2,873.78 426.72,873.87 429.24,873.95 431.76,874.04 434.28,874.12 436.8,874.21 439.32,874.29 441.84,874.38 444.36,874.46 446.88,874.55 449.4,874.64 451.92,874.73 454.44,874.81 456.96,874.9 459.48,874.99 462,875.08 464.52,875.17 467.04,875.26 469.56,875.35 472.08,875.44 474.6,875.54 477.12,875.63 479.64,875.72 482.16,875.81 484.68,875.91 487.2,876" fill="none" stroke="#94282d" stroke-width="7" stroke-linejoin="round" stroke-linecap="butt"/>
<path d="M556 702.6 V931.9 H884.2" fill="none" stroke="#3c3c3c" stroke-width="1.45"/>
<path d="M719.4 931.9 v-3.2 M883.6 931.9 v-3.2 M556 909.03 h1.8 M556 886.16 h1.8 M556 863.29 h1.8 M556 840.42 h1.8 M556 817.55 h3.2 M556 794.68 h1.8 M556 771.81 h1.8 M556 748.94 h1.8 M556 726.07 h1.8 M556 703.2 h3.2 M556 703.2 h3.2" fill="none" stroke="#3c3c3c" stroke-width="1.2"/>
<text x="540" y="714.44" font-size="31.4" text-anchor="end" fill="#3a3a3a">1</text>
<text x="540" y="828.79" font-size="31.4" text-anchor="end" fill="#3a3a3a">0.5</text>
<text x="540" y="943.14" font-size="31.4" text-anchor="end" fill="#3a3a3a">0</text>
<polyline points="556.92,897.05 556.99,894.53 557.06,892.01 557.14,889.49 557.23,886.98 557.31,884.46 557.41,881.94 557.5,879.42 557.6,876.91 557.7,874.39 557.81,871.87 557.91,869.35 558.03,866.84 558.15,864.32 558.28,861.8 558.41,859.29 558.56,856.78 558.73,854.26 558.9,851.75 559.1,849.24 559.31,846.72 559.55,844.21 559.81,841.69 560.09,839.18 560.41,836.68 560.75,834.19 561.12,831.71 561.54,829.25 562.06,826.78 562.67,824.32 563.37,821.88 564.13,819.47 564.95,817.1 565.83,814.74 566.83,812.37 567.97,810.06 569.24,807.9 570.69,805.96 572.51,804.11 574.57,802.6 576.88,801.71 579.38,801.02 581.46,799.66 582.74,797.57 583.2,795.25 583.5,792.7 583.73,790.07 583.93,787.51 584.12,785 584.29,782.48 584.43,779.97 584.57,777.45 584.71,774.94 584.85,772.42 585,769.91 585.14,767.39 585.28,764.87 585.42,762.36 585.58,759.84 585.75,757.33 585.94,754.82 586.16,752.31 586.41,749.79 586.72,747.29 587.11,744.79 587.72,741.75 588.74,741.03 590.66,743.06 592.36,745.09 593.87,747.11 595.33,749.17 596.78,751.23 598.22,753.31 599.61,755.41 600.95,757.54 602.23,759.7 603.45,761.9 604.62,764.13 605.77,766.38 606.9,768.63 608.03,770.88 609.13,773.15 610.22,775.42 611.29,777.7 612.36,779.98 613.43,782.26 614.52,784.53 615.6,786.81 616.69,789.08 617.78,791.35 618.86,793.62 619.94,795.9 620.99,798.19 622.03,800.48 623.06,802.78 624.09,805.08 625.13,807.38 626.18,809.66 627.26,811.94 628.33,814.23 629.41,816.52 630.53,818.78 631.7,821.01 632.94,823.18 634.28,825.31 635.7,827.4 637.21,829.44 638.78,831.4 640.43,833.28 642.19,835.1 644.02,836.85 645.9,838.51 647.83,840.11 649.81,841.66 651.84,843.17 653.89,844.65 655.96,846.1 658.02,847.54 660.1,848.97 662.19,850.37 664.3,851.75 666.42,853.11 668.56,854.45 670.7,855.77 672.85,857.08 675.01,858.37 677.19,859.65 679.38,860.9 681.58,862.13 683.79,863.32 686.02,864.5 688.26,865.65 690.51,866.78 692.78,867.88 695.06,868.95 697.35,869.99 699.66,871 701.98,871.99 704.31,872.95 706.65,873.89 709,874.79 711.36,875.66 713.73,876.51 716.11,877.34 718.5,878.14 720.89,878.92 723.29,879.69 725.7,880.43 728.11,881.16 730.53,881.86 732.96,882.54 735.39,883.2 737.82,883.84 740.27,884.46 742.72,885.05 745.17,885.62 747.63,886.16 750.09,886.7 752.56,887.22 755.03,887.73 757.5,888.21 759.98,888.68 762.46,889.11 764.94,889.51 767.43,889.89 769.92,890.25 772.41,890.6 774.91,890.94 777.41,891.26 779.91,891.57 782.41,891.87 784.92,892.16 787.42,892.43 789.93,892.69 792.43,892.94 794.94,893.19 797.45,893.43 799.96,893.66 802.46,893.88 804.98,894.1 807.49,894.3 810,894.49 812.51,894.67 815.03,894.83 817.54,894.98 820.05,895.1 822.57,895.23 825.08,895.34 827.6,895.45 830.12,895.56 832.63,895.66 835.15,895.75 837.67,895.84 840.19,895.92 842.71,896 845.22,896.07 847.74,896.14 850.26,896.21 852.78,896.27 855.3,896.33 857.81,896.38 860.33,896.44 862.85,896.49 865.37,896.54 867.89,896.59 870.41,896.64 872.92,896.68 875.44,896.72 877.96,896.75 880.48,896.78 883,896.8" fill="none" stroke="#262626" stroke-width="7" stroke-linejoin="round" stroke-linecap="butt"/>
<polyline points="556.92,881.99 556.96,879.47 557,876.96 557.06,874.44 557.12,871.93 557.19,869.42 557.26,866.9 557.34,864.39 557.42,861.87 557.52,859.36 557.62,856.84 557.74,854.33 557.87,851.82 558.02,849.31 558.18,846.8 558.36,844.28 558.56,841.75 558.81,839.22 559.09,836.7 559.43,834.21 559.83,831.77 560.34,829.36 561.17,826.98 562.24,824.65 563.44,822.42 564.76,820.33 566.34,818.36 568.02,816.45 569.72,814.54 571.59,812.7 572.75,810.66 573.37,808.3 573.81,805.75 574.09,803.18 574.27,800.69 574.41,798.19 574.53,795.68 574.64,793.17 574.72,790.65 574.8,788.13 574.88,785.61 574.95,783.09 575.02,780.57 575.11,778.06 575.19,775.54 575.27,773.03 575.35,770.51 575.42,768 575.49,765.48 575.56,762.97 575.63,760.45 575.7,757.94 575.78,755.43 575.86,752.91 575.96,750.4 576.06,747.89 576.17,745.38 576.28,742.85 576.41,740.33 576.54,737.8 576.7,735.27 576.87,732.75 577.08,730.25 577.32,727.77 577.6,725.3 578.02,722.81 578.66,720.29 579.5,717.85 580.49,715.61 581.81,713.58 583.68,711.72 585.76,710.37 588.17,709.31 590.49,709.26 592.71,710.74 594.43,712.54 595.73,714.64 596.85,717 597.92,719.32 598.91,721.63 599.85,723.98 600.82,726.3 601.93,728.54 603.15,730.77 604.49,732.9 606.01,734.86 607.77,736.66 609.64,738.38 611.53,740.05 613.49,741.66 615.3,743.37 616.9,745.28 618.39,747.33 619.78,749.44 621.12,751.56 622.38,753.73 623.59,755.94 624.78,758.17 625.96,760.39 627.15,762.61 628.31,764.84 629.47,767.08 630.62,769.31 631.8,771.53 633,773.74 634.24,775.93 635.49,778.11 636.77,780.28 638.07,782.43 639.4,784.57 640.75,786.69 642.12,788.8 643.53,790.89 644.97,792.95 646.45,794.98 647.95,797 649.47,799 651.03,800.99 652.6,802.95 654.21,804.9 655.83,806.82 657.48,808.7 659.16,810.57 660.88,812.41 662.62,814.22 664.4,816.02 666.2,817.78 668.02,819.51 669.88,821.21 671.75,822.87 673.67,824.5 675.62,826.09 677.59,827.65 679.59,829.2 681.59,830.72 683.61,832.22 685.63,833.72 687.67,835.2 689.72,836.66 691.79,838.09 693.88,839.48 695.99,840.84 698.13,842.17 700.28,843.47 702.45,844.75 704.65,845.99 706.86,847.19 709.08,848.35 711.33,849.47 713.6,850.56 715.88,851.63 718.18,852.66 720.48,853.67 722.79,854.66 725.11,855.63 727.45,856.57 729.79,857.49 732.14,858.38 734.5,859.23 736.88,860.06 739.26,860.86 741.66,861.64 744.06,862.39 746.46,863.12 748.88,863.83 751.29,864.52 753.72,865.2 756.14,865.86 758.57,866.51 761.01,867.15 763.44,867.79 765.88,868.42 768.31,869.07 770.74,869.73 773.18,870.39 775.61,871.05 778.05,871.7 780.49,872.33 782.93,872.94 785.38,873.51 787.83,874.04 790.29,874.53 792.76,874.96 795.23,875.35 797.72,875.71 800.21,876.05 802.7,876.36 805.2,876.66 807.71,876.95 810.21,877.22 812.72,877.48 815.23,877.73 817.73,877.97 820.23,878.21 822.74,878.44 825.24,878.67 827.75,878.89 830.25,879.1 832.76,879.3 835.27,879.49 837.78,879.67 840.29,879.83 842.8,879.99 845.31,880.14 847.82,880.28 850.33,880.42 852.84,880.56 855.35,880.69 857.86,880.82 860.37,880.95 862.89,881.07 865.4,881.19 867.91,881.3 870.43,881.4 872.94,881.49 875.45,881.58 877.97,881.66 880.48,881.74 883,881.8" fill="none" stroke="#94282d" stroke-width="7" stroke-linejoin="round" stroke-linecap="butt"/>
<path d="M1016 702.6 V931.9 H1337.6" fill="none" stroke="#3c3c3c" stroke-width="1.45"/>
<path d="M1143.9 931.9 v-3.2 M1272.6 931.9 v-3.2 M1016 916.66 h1.6 M1016 901.41 h1.6 M1016 886.16 h1.6 M1016 870.92 h1.6 M1016 855.67 h3.2 M1016 840.42 h1.6 M1016 825.17 h1.6 M1016 809.93 h1.6 M1016 794.68 h1.6 M1016 779.43 h3.2 M1016 764.19 h1.6 M1016 748.94 h1.6 M1016 733.69 h1.6 M1016 718.45 h1.6 M1016 703.2 h3.2 M1016 703.2 h3.2" fill="none" stroke="#3c3c3c" stroke-width="1.2"/>
<text x="1000.5" y="714.44" font-size="31.4" text-anchor="end" fill="#3a3a3a">50</text>
<text x="1000.5" y="790.67" font-size="31.4" text-anchor="end" fill="#3a3a3a">0</text>
<text x="1000.5" y="866.91" font-size="31.4" text-anchor="end" fill="#3a3a3a">-50</text>
<text x="1000.5" y="943.14" font-size="31.4" text-anchor="end" fill="#3a3a3a">-100</text>
<polyline points="1015.29,903.32 1015.34,900.81 1015.39,898.29 1015.44,895.78 1015.49,893.27 1015.54,890.75 1015.59,888.24 1015.64,885.72 1015.69,883.21 1015.73,880.7 1015.78,878.18 1015.83,875.67 1015.87,873.15 1015.92,870.64 1015.96,868.13 1016,865.61 1016.04,863.1 1016.09,860.59 1016.13,858.07 1016.17,855.56 1016.21,853.04 1016.25,850.53 1016.29,848.02 1016.33,845.5 1016.37,842.99 1016.4,840.47 1016.44,837.96 1016.48,835.45 1016.52,832.93 1016.55,830.42 1016.59,827.9 1016.63,825.39 1016.66,822.88 1016.7,820.36 1016.73,817.85 1016.76,815.33 1016.8,812.82 1016.83,810.3 1016.86,807.79 1016.89,805.28 1016.92,802.76 1016.95,800.25 1016.98,797.73 1017.01,795.22 1017.03,792.71 1017.05,790.19 1017.08,787.68 1017.1,785.16 1017.12,782.65 1017.14,780.13 1017.16,777.62 1017.18,775.11 1017.2,772.59 1017.23,770.08 1017.25,767.56 1017.27,765.05 1017.3,762.53 1017.32,760.02 1017.35,757.51 1017.38,754.99 1017.41,752.48 1017.44,749.96 1017.48,747.45 1017.51,744.94 1017.55,742.42 1017.6,739.67 1017.65,736.6 1017.7,733.34 1017.76,730 1017.83,726.68 1017.9,723.52 1017.98,720.62 1018.07,718.09 1018.16,716.05 1018.27,714.62 1018.38,713.9 1018.52,714.13 1018.71,715.62 1018.96,718.07 1019.23,721.13 1019.52,724.44 1019.81,727.66 1020.09,730.42 1020.33,732.93 1020.56,735.45 1020.82,737.95 1021.15,740.43 1021.6,743.16 1022.32,745.97 1023.67,746.14 1026.14,744.68 1028.39,743.29 1030.64,742.75 1032.87,743.77 1035.11,745.24 1037.45,746.18 1039.88,746.8 1042.34,747.39 1044.78,748.02 1047.22,748.64 1049.66,749.27 1052.09,749.93 1054.49,750.64 1056.87,751.43 1059.22,752.3 1061.56,753.24 1063.88,754.22 1066.19,755.22 1068.51,756.2 1070.81,757.2 1073.11,758.22 1075.41,759.25 1077.69,760.31 1079.97,761.37 1082.23,762.46 1084.49,763.57 1086.74,764.69 1088.98,765.83 1091.22,766.97 1093.46,768.12 1095.71,769.25 1097.96,770.38 1100.2,771.53 1102.42,772.69 1104.63,773.9 1106.8,775.15 1108.96,776.44 1111.09,777.77 1113.21,779.13 1115.32,780.5 1117.42,781.89 1119.52,783.28 1121.62,784.67 1123.71,786.07 1125.78,787.5 1127.82,788.97 1129.82,790.49 1131.76,792.07 1133.66,793.72 1135.51,795.44 1137.3,797.2 1139.04,799.02 1140.73,800.88 1142.38,802.79 1143.98,804.71 1145.56,806.67 1147.1,808.67 1148.59,810.7 1150.02,812.76 1151.39,814.86 1152.73,816.99 1154.03,819.15 1155.32,821.31 1156.58,823.48 1157.83,825.66 1159.06,827.86 1160.26,830.07 1161.45,832.29 1162.62,834.51 1163.78,836.74 1164.93,838.98 1166.05,841.23 1167.15,843.5 1168.21,845.77 1169.23,848.07 1170.23,850.37 1171.2,852.69 1172.16,855.02 1173.09,857.36 1174.02,859.69 1174.94,862.03 1175.84,864.38 1176.73,866.73 1177.59,869.09 1178.43,871.46 1179.24,873.85 1180.01,876.24 1180.79,878.63 1181.59,881.01 1182.42,883.39 1183.25,885.77 1184.11,888.14 1185.03,890.48 1186.03,892.77 1187.11,895.1 1188.33,897.33 1189.77,899.3 1191.64,901.1 1193.78,902.28 1196.21,903 1198.72,903.36 1201.22,903.53 1203.74,903.64 1206.26,903.71 1208.77,903.76 1211.29,903.81 1213.8,903.85 1216.31,903.89 1218.83,903.91 1221.34,903.93 1223.86,903.95 1226.37,903.95 1228.89,903.95 1231.4,903.95 1233.91,903.96 1236.43,903.96 1238.94,903.96 1241.46,903.96 1243.97,903.97 1246.48,903.97 1249,903.97 1251.51,903.97 1254.03,903.97 1256.54,903.98 1259.06,903.98 1261.57,903.98 1264.08,903.98 1266.6,903.98 1269.11,903.98 1271.63,903.99 1274.14,903.99 1276.66,903.99 1279.17,903.99 1281.68,903.99 1284.2,903.99 1286.71,903.99 1289.23,903.99 1291.74,903.99 1294.26,903.99 1296.77,904 1299.28,904 1301.8,904 1304.31,904 1306.83,904 1309.34,904 1311.86,904 1314.37,904 1316.88,904 1319.4,904 1321.91,904 1324.43,904 1326.94,904 1329.46,904 1331.97,904 1334.49,904 1337,904" fill="none" stroke="#262626" stroke-width="7" stroke-linejoin="round" stroke-linecap="butt"/>
<polyline points="1015.29,903.32 1015.34,900.8 1015.39,898.28 1015.44,895.76 1015.49,893.24 1015.54,890.73 1015.59,888.21 1015.64,885.69 1015.69,883.17 1015.73,880.65 1015.78,878.13 1015.83,875.61 1015.87,873.09 1015.92,870.57 1015.96,868.05 1016,865.53 1016.04,863.02 1016.09,860.5 1016.13,857.98 1016.17,855.46 1016.21,852.94 1016.25,850.42 1016.29,847.9 1016.33,845.38 1016.37,842.86 1016.41,840.34 1016.44,837.82 1016.48,835.3 1016.52,832.79 1016.56,830.27 1016.59,827.75 1016.63,825.23 1016.66,822.71 1016.7,820.19 1016.73,817.67 1016.77,815.15 1016.8,812.63 1016.83,810.11 1016.86,807.59 1016.89,805.07 1016.93,802.55 1016.95,800.04 1016.98,797.52 1017.01,795 1017.03,792.48 1017.06,789.96 1017.08,787.44 1017.1,784.92 1017.12,782.4 1017.14,779.88 1017.16,777.36 1017.19,774.84 1017.21,772.32 1017.23,769.8 1017.25,767.28 1017.27,764.76 1017.3,762.24 1017.32,759.72 1017.35,757.2 1017.38,754.69 1017.41,752.17 1017.44,749.65 1017.48,747.13 1017.52,744.61 1017.56,742.08 1017.6,739.27 1017.65,736.16 1017.71,732.88 1017.77,729.52 1017.83,726.22 1017.91,723.08 1017.99,720.22 1018.08,717.75 1018.18,715.79 1018.28,714.46 1018.4,713.86 1018.54,714.29 1018.75,715.96 1019,718.53 1019.28,721.66 1019.57,724.99 1019.86,728.16 1020.13,730.85 1020.37,733.36 1020.6,735.88 1020.87,738.39 1021.22,740.87 1021.7,743.74 1022.49,746.26 1024.18,745.82 1026.69,744.49 1028.68,744.15 1029.77,746.46 1030.84,749.18 1032.08,751.41 1033.47,753.51 1035.17,755.34 1037.2,756.89 1039.43,757.94 1041.85,758.76 1044.26,759.52 1046.68,760.21 1049.12,760.86 1051.56,761.5 1053.99,762.17 1056.39,762.9 1058.8,763.67 1061.19,764.46 1063.58,765.28 1065.95,766.13 1068.3,767.01 1070.64,767.94 1072.97,768.91 1075.28,769.92 1077.58,770.95 1079.87,772 1082.16,773.06 1084.43,774.15 1086.69,775.26 1088.94,776.4 1091.18,777.57 1093.39,778.77 1095.59,779.99 1097.78,781.25 1099.95,782.54 1102.09,783.86 1104.22,785.22 1106.3,786.61 1108.37,788.05 1110.42,789.53 1112.44,791.04 1114.44,792.58 1116.41,794.16 1118.35,795.75 1120.27,797.39 1122.15,799.08 1123.97,800.81 1125.73,802.61 1127.45,804.46 1129.12,806.35 1130.75,808.27 1132.33,810.22 1133.88,812.21 1135.39,814.23 1136.87,816.27 1138.32,818.33 1139.75,820.41 1141.14,822.52 1142.49,824.64 1143.79,826.79 1145.06,828.97 1146.28,831.17 1147.49,833.39 1148.67,835.62 1149.85,837.85 1151,840.08 1152.14,842.33 1153.26,844.59 1154.37,846.85 1155.46,849.12 1156.54,851.4 1157.61,853.68 1158.67,855.97 1159.71,858.26 1160.73,860.57 1161.73,862.88 1162.71,865.2 1163.66,867.53 1164.59,869.87 1165.52,872.22 1166.43,874.57 1167.33,876.92 1168.21,879.28 1169.07,881.65 1169.96,884.01 1170.88,886.35 1171.81,888.7 1172.78,891.03 1173.81,893.33 1174.93,895.58 1176.14,897.84 1177.5,899.97 1179.12,901.86 1181.11,903.52 1183.34,904.45 1185.85,905.05 1188.35,905.33 1190.87,905.5 1193.39,905.58 1195.91,905.62 1198.43,905.66 1200.94,905.69 1203.46,905.72 1205.98,905.75 1208.5,905.77 1211.02,905.79 1213.54,905.8 1216.06,905.81 1218.58,905.82 1221.1,905.83 1223.62,905.83 1226.14,905.83 1228.66,905.83 1231.18,905.83 1233.7,905.83 1236.22,905.83 1238.74,905.83 1241.26,905.83 1243.78,905.83 1246.3,905.83 1248.82,905.83 1251.34,905.83 1253.86,905.83 1256.38,905.83 1258.9,905.83 1261.41,905.83 1263.93,905.83 1266.45,905.83 1268.97,905.83 1271.49,905.83 1274.01,905.83 1276.53,905.83 1279.05,905.83 1281.57,905.83 1284.09,905.83 1286.61,905.83 1289.13,905.82 1291.65,905.82 1294.17,905.82 1296.69,905.82 1299.21,905.82 1301.73,905.82 1304.25,905.82 1306.77,905.82 1309.29,905.82 1311.8,905.82 1314.32,905.81 1316.84,905.81 1319.36,905.81 1321.88,905.81 1324.4,905.81 1326.92,905.81 1329.44,905.81 1331.96,905.8 1334.48,905.8 1337,905.8" fill="none" stroke="#94282d" stroke-width="7" stroke-linejoin="round" stroke-linecap="butt"/>
<path d="M1412.2 702.6 V931.9 H1748.4" fill="none" stroke="#3c3c3c" stroke-width="1.45"/>
<path d="M1580.1 931.9 v-3.2 M1747.8 931.9 v-3.2 M1412.2 915.56 h1.6 M1412.2 899.23 h1.6 M1412.2 882.89 h1.6 M1412.2 866.56 h3.2 M1412.2 850.22 h1.6 M1412.2 833.89 h1.6 M1412.2 817.55 h1.6 M1412.2 801.21 h3.2 M1412.2 784.88 h1.6 M1412.2 768.54 h1.6 M1412.2 752.21 h1.6 M1412.2 735.87 h3.2 M1412.2 719.54 h1.6 M1412.2 703.2 h1.6 M1412.2 703.2 h3.2" fill="none" stroke="#3c3c3c" stroke-width="1.2"/>
<text x="1397" y="747.11" font-size="31.4" text-anchor="end" fill="#3a3a3a">0.6</text>
<text x="1397" y="812.46" font-size="31.4" text-anchor="end" fill="#3a3a3a">0.4</text>
<text x="1397" y="877.8" font-size="31.4" text-anchor="end" fill="#3a3a3a">0.2</text>
<text x="1397" y="943.14" font-size="31.4" text-anchor="end" fill="#3a3a3a">0</text>
<polyline points="1412.17,902.07 1414.67,901.19 1416.67,899.89 1418.32,897.93 1419.5,895.66 1420.29,893.31 1420.91,890.82 1421.33,888.3 1421.62,885.82 1421.86,883.31 1422.06,880.79 1422.24,878.27 1422.39,875.74 1422.52,873.21 1422.65,870.69 1422.76,868.17 1422.85,865.65 1422.94,863.13 1423.02,860.61 1423.09,858.08 1423.17,855.56 1423.25,853.04 1423.33,850.51 1423.42,847.99 1423.52,845.47 1423.62,842.95 1423.71,840.42 1423.81,837.9 1423.92,835.38 1424.03,832.86 1424.16,830.34 1424.31,827.82 1424.48,825.31 1424.69,822.78 1424.95,820.24 1425.3,817.73 1425.77,815.3 1426.64,812.8 1428.28,810.99 1430.59,811.27 1432.6,812.89 1434.21,814.86 1435.74,816.89 1437.24,818.92 1438.7,820.98 1440.17,823.03 1441.65,825.08 1443.13,827.12 1444.62,829.16 1446.12,831.19 1447.62,833.22 1449.14,835.24 1450.71,837.2 1452.34,839.13 1454.01,841.03 1455.71,842.9 1457.43,844.73 1459.2,846.54 1460.99,848.31 1462.82,850.06 1464.66,851.78 1466.53,853.48 1468.43,855.14 1470.36,856.76 1472.33,858.35 1474.31,859.9 1476.31,861.44 1478.33,862.96 1480.37,864.45 1482.43,865.9 1484.52,867.32 1486.64,868.7 1488.79,870.01 1490.99,871.25 1493.2,872.46 1495.41,873.67 1497.62,874.89 1499.85,876.07 1502.12,877.18 1504.41,878.24 1506.72,879.25 1509.05,880.22 1511.4,881.15 1513.76,882.05 1516.13,882.92 1518.51,883.76 1520.9,884.56 1523.3,885.33 1525.71,886.07 1528.13,886.8 1530.56,887.5 1532.99,888.19 1535.42,888.85 1537.86,889.48 1540.32,890.07 1542.78,890.63 1545.24,891.18 1547.71,891.7 1550.18,892.2 1552.66,892.69 1555.14,893.16 1557.62,893.61 1560.11,894.04 1562.6,894.45 1565.09,894.84 1567.59,895.21 1570.09,895.56 1572.59,895.9 1575.09,896.22 1577.6,896.53 1580.1,896.82 1582.61,897.1 1585.12,897.37 1587.63,897.62 1590.14,897.85 1592.66,898.06 1595.17,898.27 1597.69,898.46 1600.21,898.64 1602.72,898.81 1605.24,898.98 1607.76,899.15 1610.28,899.3 1612.8,899.45 1615.32,899.59 1617.84,899.71 1620.36,899.82 1622.88,899.92 1625.4,900.02 1627.92,900.11 1630.44,900.2 1632.97,900.29 1635.49,900.38 1638.01,900.46 1640.53,900.54 1643.05,900.61 1645.58,900.69 1648.1,900.76 1650.62,900.83 1653.14,900.89 1655.67,900.96 1658.19,901.02 1660.71,901.08 1663.24,901.14 1665.76,901.2 1668.28,901.26 1670.81,901.31 1673.33,901.36 1675.85,901.42 1678.38,901.47 1680.9,901.52 1683.42,901.57 1685.94,901.62 1688.47,901.66 1690.99,901.71 1693.51,901.76 1696.04,901.8 1698.56,901.85 1701.08,901.89 1703.6,901.94 1706.13,901.98 1708.65,902.02 1711.17,902.06 1713.7,902.1 1716.22,902.14 1718.74,902.18 1721.27,902.22 1723.79,902.25 1726.31,902.28 1728.84,902.32 1731.36,902.35 1733.88,902.38 1736.41,902.4 1738.93,902.43 1741.45,902.46 1743.98,902.48 1746.5,902.5" fill="none" stroke="#262626" stroke-width="7" stroke-linejoin="round" stroke-linecap="butt"/>
<polyline points="1412.17,898.93 1414.22,897.36 1415.18,895.24 1415.8,892.69 1416.12,890.15 1416.31,887.67 1416.46,885.17 1416.59,882.66 1416.69,880.14 1416.78,877.61 1416.85,875.09 1416.92,872.57 1416.99,870.06 1417.06,867.55 1417.12,865.03 1417.17,862.52 1417.23,860.01 1417.27,857.5 1417.32,854.98 1417.36,852.47 1417.41,849.96 1417.45,847.44 1417.49,844.93 1417.53,842.42 1417.58,839.91 1417.62,837.39 1417.67,834.88 1417.71,832.37 1417.75,829.85 1417.79,827.34 1417.83,824.83 1417.87,822.32 1417.91,819.8 1417.95,817.29 1417.99,814.78 1418.03,812.26 1418.08,809.75 1418.12,807.24 1418.16,804.73 1418.21,802.21 1418.25,799.7 1418.3,797.19 1418.34,794.67 1418.39,792.16 1418.43,789.65 1418.48,787.14 1418.52,784.62 1418.57,782.11 1418.63,779.6 1418.68,777.09 1418.74,774.57 1418.81,772.06 1418.88,769.55 1418.95,767.04 1419.02,764.52 1419.1,762.01 1419.19,759.49 1419.29,756.98 1419.4,754.47 1419.52,751.96 1419.65,749.45 1419.8,746.95 1419.97,744.43 1420.18,741.9 1420.46,739.38 1420.8,736.88 1421.23,734.45 1421.87,731.99 1422.93,729.6 1424.39,727.73 1426.66,726.58 1429.11,726.59 1431.23,728.14 1432.83,729.96 1434.19,732.16 1435.39,734.4 1436.46,736.66 1437.44,738.98 1438.36,741.33 1439.28,743.67 1440.18,746.02 1441.05,748.38 1441.9,750.74 1442.73,753.12 1443.56,755.49 1444.39,757.86 1445.19,760.24 1445.99,762.63 1446.77,765.02 1447.55,767.4 1448.33,769.79 1449.12,772.18 1449.93,774.56 1450.75,776.93 1451.58,779.31 1452.41,781.68 1453.25,784.05 1454.1,786.41 1454.95,788.78 1455.82,791.14 1456.69,793.49 1457.56,795.85 1458.44,798.21 1459.32,800.56 1460.22,802.91 1461.13,805.25 1462.07,807.58 1463.03,809.9 1464.02,812.21 1465.02,814.52 1466.05,816.82 1467.11,819.1 1468.2,821.36 1469.32,823.61 1470.47,825.84 1471.67,828.05 1472.9,830.25 1474.16,832.42 1475.45,834.57 1476.79,836.7 1478.16,838.81 1479.58,840.89 1481.02,842.95 1482.48,844.99 1483.98,847.01 1485.52,849 1487.09,850.97 1488.7,852.89 1490.35,854.79 1492.05,856.65 1493.79,858.45 1495.59,860.2 1497.45,861.9 1499.35,863.55 1501.28,865.15 1503.26,866.71 1505.28,868.21 1507.33,869.65 1509.43,871.04 1511.56,872.38 1513.72,873.66 1515.91,874.88 1518.14,876.05 1520.39,877.17 1522.67,878.24 1524.96,879.26 1527.28,880.23 1529.61,881.17 1531.96,882.08 1534.32,882.96 1536.69,883.8 1539.07,884.59 1541.46,885.34 1543.87,886.07 1546.29,886.77 1548.72,887.42 1551.15,888.03 1553.6,888.59 1556.06,889.12 1558.52,889.63 1560.99,890.11 1563.46,890.58 1565.93,891.04 1568.4,891.48 1570.88,891.9 1573.36,892.3 1575.85,892.68 1578.34,893.04 1580.83,893.38 1583.32,893.7 1585.81,894.01 1588.31,894.3 1590.81,894.57 1593.31,894.84 1595.81,895.1 1598.31,895.33 1600.81,895.54 1603.32,895.74 1605.82,895.93 1608.33,896.12 1610.84,896.29 1613.35,896.45 1615.86,896.59 1618.37,896.72 1620.88,896.83 1623.39,896.94 1625.9,897.03 1628.41,897.13 1630.92,897.22 1633.43,897.3 1635.94,897.39 1638.45,897.47 1640.97,897.54 1643.48,897.61 1645.99,897.68 1648.5,897.75 1651.02,897.82 1653.53,897.88 1656.04,897.95 1658.55,898.01 1661.07,898.07 1663.58,898.12 1666.09,898.18 1668.61,898.24 1671.12,898.3 1673.63,898.35 1676.14,898.41 1678.66,898.47 1681.17,898.53 1683.68,898.58 1686.19,898.64 1688.71,898.7 1691.22,898.76 1693.73,898.81 1696.24,898.87 1698.76,898.92 1701.27,898.97 1703.78,899.03 1706.3,899.08 1708.81,899.13 1711.32,899.18 1713.83,899.23 1716.35,899.28 1718.86,899.33 1721.37,899.38 1723.88,899.42 1726.4,899.47 1728.91,899.51 1731.42,899.56 1733.94,899.6 1736.45,899.64 1738.96,899.68 1741.47,899.72 1743.99,899.76 1746.5,899.8" fill="none" stroke="#94282d" stroke-width="7" stroke-linejoin="round" stroke-linecap="butt"/>
<path d="M167.2 990.9 V1212.4 H488.2" fill="none" stroke="#3c3c3c" stroke-width="1.45"/>
<path d="M295.3 1212.4 v-3.2 M423.3 1212.4 v-3.2 M167.2 1197.68 h1.6 M167.2 1182.95 h1.6 M167.2 1168.22 h1.6 M167.2 1153.5 h1.6 M167.2 1138.77 h3.2 M167.2 1124.04 h1.6 M167.2 1109.31 h1.6 M167.2 1094.59 h1.6 M167.2 1079.86 h1.6 M167.2 1065.13 h3.2 M167.2 1050.41 h1.6 M167.2 1035.68 h1.6 M167.2 1020.95 h1.6 M167.2 1006.23 h1.6 M167.2 991.5 h3.2 M167.2 991.5 h3.2" fill="none" stroke="#3c3c3c" stroke-width="1.2"/>
<text x="151.5" y="1002.74" font-size="31.4" text-anchor="end" fill="#3a3a3a">50</text>
<text x="151.5" y="1076.37" font-size="31.4" text-anchor="end" fill="#3a3a3a">0</text>
<text x="151.5" y="1150.01" font-size="31.4" text-anchor="end" fill="#3a3a3a">-50</text>
<text x="151.5" y="1223.64" font-size="31.4" text-anchor="end" fill="#3a3a3a">-100</text>
<text x="167" y="1255.5" font-size="31.4" text-anchor="middle" fill="#3a3a3a">0</text>
<text x="295.5" y="1255.5" font-size="31.4" text-anchor="middle" fill="#3a3a3a">0.2</text>
<text x="423.75" y="1255.5" font-size="31.4" text-anchor="middle" fill="#3a3a3a">0.4</text>
<text x="327.5" y="1297.5" font-size="34.5" text-anchor="middle" fill="#3a3a3a">Time (s)</text>
<polyline points="166.29,1155.05 166.31,1152.52 166.34,1149.99 166.4,1147.48 166.48,1144.97 166.58,1142.46 166.9,1139.97 167.35,1137.48 167.74,1134.99 168.16,1132.5 168.59,1130.01 168.97,1127.52 169.25,1125.02 169.42,1122.52 169.57,1120.01 169.7,1117.5 169.82,1114.98 169.92,1112.47 170.01,1109.95 170.1,1107.43 170.18,1104.91 170.26,1102.39 170.33,1099.86 170.41,1097.34 170.49,1094.82 170.58,1092.31 170.67,1089.79 170.76,1087.27 170.84,1084.75 170.92,1082.24 171,1079.72 171.07,1077.2 171.15,1074.68 171.23,1072.16 171.31,1069.65 171.39,1067.13 171.47,1064.61 171.56,1062.09 171.65,1059.58 171.74,1057.06 171.84,1054.54 171.94,1052.02 172.04,1049.51 172.14,1046.98 172.24,1044.46 172.36,1041.95 172.48,1039.43 172.61,1036.91 172.77,1034.4 172.94,1031.89 173.14,1029.39 173.38,1026.86 173.69,1024.33 174.08,1021.81 174.54,1019.34 175.1,1016.95 175.92,1014.44 177.11,1012.06 178.65,1010.41 181.04,1009.25 183.41,1009.33 185.75,1010.38 188,1011.81 190.06,1013.19 191.98,1014.77 193.82,1016.53 195.61,1018.36 197.41,1020.16 199.22,1021.91 201.02,1023.67 202.81,1025.45 204.58,1027.23 206.35,1029.03 208.12,1030.83 209.89,1032.62 211.65,1034.42 213.4,1036.23 215.15,1038.05 216.89,1039.86 218.64,1041.68 220.4,1043.48 222.16,1045.28 223.94,1047.06 225.72,1048.85 227.51,1050.63 229.3,1052.4 231.11,1054.15 232.94,1055.88 234.79,1057.59 236.67,1059.26 238.58,1060.92 240.52,1062.53 242.5,1064.07 244.56,1065.51 246.7,1066.86 248.8,1068.24 250.8,1069.77 252.75,1071.37 254.7,1072.96 256.72,1074.46 258.79,1075.9 260.87,1077.33 262.94,1078.77 265,1080.21 267.06,1081.66 269.12,1083.11 271.17,1084.58 273.24,1086.02 275.35,1087.38 277.53,1088.65 279.7,1089.93 281.81,1091.3 283.89,1092.73 285.93,1094.2 287.95,1095.71 289.94,1097.26 291.9,1098.85 293.78,1100.51 295.62,1102.24 297.4,1104.04 299.11,1105.88 300.73,1107.79 302.3,1109.77 303.82,1111.79 305.28,1113.84 306.7,1115.92 308.06,1118.03 309.39,1120.18 310.69,1122.34 311.97,1124.51 313.21,1126.71 314.4,1128.93 315.58,1131.16 316.8,1133.37 318.08,1135.53 319.43,1137.67 320.82,1139.81 322.29,1141.87 323.87,1143.8 325.6,1145.59 327.52,1147.3 329.59,1148.78 331.76,1149.93 334.12,1150.87 336.57,1151.58 339.03,1152.05 341.54,1152.41 344.04,1152.57 346.55,1152.66 349.06,1152.74 351.58,1152.8 354.1,1152.86 356.62,1152.9 359.14,1152.94 361.66,1152.98 364.18,1153.01 366.71,1153.04 369.23,1153.07 371.75,1153.11 374.27,1153.15 376.79,1153.2 379.31,1153.25 381.83,1153.3 384.34,1153.35 386.86,1153.4 389.38,1153.45 391.9,1153.49 394.42,1153.54 396.94,1153.59 399.45,1153.64 401.97,1153.69 404.49,1153.74 407.01,1153.79 409.53,1153.83 412.05,1153.88 414.57,1153.93 417.08,1153.98 419.6,1154.03 422.12,1154.07 424.64,1154.12 427.16,1154.17 429.68,1154.22 432.19,1154.27 434.71,1154.31 437.23,1154.36 439.75,1154.41 442.27,1154.46 444.79,1154.5 447.3,1154.55 449.82,1154.6 452.34,1154.65 454.86,1154.69 457.38,1154.74 459.9,1154.79 462.42,1154.83 464.93,1154.88 467.45,1154.93 469.97,1154.98 472.49,1155.02 475.01,1155.07 477.53,1155.11 480.04,1155.16 482.56,1155.21 485.08,1155.25 487.6,1155.3" fill="none" stroke="#262626" stroke-width="7" stroke-linejoin="round" stroke-linecap="butt"/>
<polyline points="166.42,1155.05 166.43,1152.51 166.47,1149.98 166.52,1147.46 166.6,1144.94 166.71,1142.44 167.07,1139.94 167.57,1137.46 168.02,1134.97 168.5,1132.48 169,1130 169.43,1127.51 169.75,1125.01 169.93,1122.51 170.08,1120 170.21,1117.48 170.33,1114.97 170.43,1112.44 170.53,1109.92 170.61,1107.39 170.69,1104.86 170.76,1102.33 170.84,1099.81 170.92,1097.28 171,1094.75 171.09,1092.23 171.18,1089.71 171.26,1087.18 171.34,1084.66 171.42,1082.14 171.5,1079.62 171.58,1077.09 171.66,1074.57 171.73,1072.05 171.81,1069.52 171.89,1067 171.98,1064.48 172.06,1061.95 172.16,1059.43 172.25,1056.91 172.35,1054.39 172.45,1051.86 172.55,1049.34 172.65,1046.81 172.75,1044.29 172.86,1041.76 172.99,1039.24 173.13,1036.72 173.28,1034.2 173.46,1031.69 173.66,1029.18 173.91,1026.64 174.24,1024.1 174.64,1021.59 175.13,1019.13 175.73,1016.74 176.66,1014.24 177.96,1011.98 179.64,1010.38 182.07,1009.29 184.37,1009.61 186.66,1010.86 188.85,1012.42 190.87,1013.87 192.78,1015.5 194.62,1017.26 196.42,1019.07 198.23,1020.85 200.05,1022.6 201.85,1024.37 203.64,1026.15 205.42,1027.94 207.2,1029.74 208.96,1031.54 210.73,1033.34 212.49,1035.15 214.24,1036.97 215.99,1038.8 217.73,1040.62 219.47,1042.45 221.22,1044.27 222.97,1046.08 224.74,1047.88 226.52,1049.67 228.31,1051.46 230.1,1053.24 231.89,1055.02 233.68,1056.8 235.46,1058.58 237.25,1060.37 239.03,1062.16 240.81,1063.95 242.59,1065.73 244.38,1067.52 246.16,1069.3 247.96,1071.08 249.75,1072.86 251.53,1074.65 253.31,1076.44 255.1,1078.23 256.9,1080 258.73,1081.74 260.58,1083.45 262.49,1085.1 264.47,1086.66 266.47,1088.21 268.4,1089.83 270.26,1091.54 272.08,1093.29 273.86,1095.08 275.61,1096.9 277.33,1098.75 279.01,1100.63 280.65,1102.55 282.25,1104.5 283.82,1106.49 285.33,1108.51 286.8,1110.56 288.2,1112.65 289.56,1114.78 290.88,1116.93 292.18,1119.1 293.46,1121.28 294.7,1123.48 295.9,1125.7 297.1,1127.92 298.32,1130.13 299.59,1132.31 300.85,1134.52 302.13,1136.72 303.46,1138.88 304.87,1140.95 306.42,1142.91 308.11,1144.84 309.94,1146.63 311.88,1148.17 314.02,1149.47 316.33,1150.59 318.69,1151.47 321.11,1152.23 323.58,1152.8 326.06,1153.1 328.57,1153.34 331.1,1153.54 333.63,1153.68 336.16,1153.77 338.68,1153.83 341.2,1153.87 343.72,1153.91 346.24,1153.94 348.77,1153.96 351.29,1153.99 353.82,1154.01 356.34,1154.03 358.87,1154.05 361.39,1154.06 363.92,1154.08 366.44,1154.1 368.97,1154.12 371.49,1154.14 374.02,1154.16 376.54,1154.19 379.07,1154.21 381.59,1154.24 384.11,1154.27 386.64,1154.29 389.16,1154.32 391.69,1154.35 394.21,1154.38 396.73,1154.41 399.26,1154.43 401.78,1154.46 404.31,1154.49 406.83,1154.52 409.35,1154.55 411.88,1154.57 414.4,1154.6 416.93,1154.63 419.45,1154.66 421.97,1154.69 424.5,1154.72 427.02,1154.75 429.55,1154.78 432.07,1154.81 434.6,1154.84 437.12,1154.87 439.64,1154.9 442.17,1154.93 444.69,1154.96 447.22,1154.99 449.74,1155.02 452.26,1155.05 454.79,1155.08 457.31,1155.11 459.84,1155.14 462.36,1155.18 464.88,1155.21 467.41,1155.24 469.93,1155.27 472.46,1155.3 474.98,1155.34 477.5,1155.37 480.03,1155.4 482.55,1155.43 485.08,1155.47 487.6,1155.5" fill="none" stroke="#8e2a2e" stroke-width="7" stroke-linejoin="round" stroke-linecap="butt"/>
<polyline points="166.54,1155.05 166.56,1152.52 166.59,1150 166.65,1147.48 166.73,1144.98 166.84,1142.49 167.23,1140.01 167.78,1137.55 168.27,1135.08 168.81,1132.61 169.36,1130.15 169.86,1127.68 170.22,1125.21 170.43,1122.72 170.6,1120.22 170.75,1117.72 170.88,1115.22 171,1112.71 171.1,1110.19 171.19,1107.68 171.28,1105.16 171.36,1102.64 171.44,1100.12 171.52,1097.6 171.61,1095.09 171.7,1092.57 171.8,1090.06 171.88,1087.55 171.97,1085.04 172.05,1082.53 172.13,1080.01 172.2,1077.5 172.28,1074.99 172.35,1072.48 172.43,1069.97 172.51,1067.45 172.59,1064.94 172.68,1062.43 172.77,1059.92 172.86,1057.41 172.96,1054.9 173.06,1052.38 173.16,1049.87 173.26,1047.35 173.36,1044.84 173.47,1042.33 173.59,1039.81 173.72,1037.3 173.87,1034.8 174.04,1032.29 174.23,1029.8 174.47,1027.27 174.76,1024.74 175.13,1022.22 175.59,1019.76 176.15,1017.39 177.05,1014.94 178.35,1012.66 179.96,1010.96 182.29,1009.65 184.58,1009.72 186.84,1010.88 189.04,1012.46 191.07,1013.94 192.98,1015.54 194.81,1017.28 196.59,1019.09 198.38,1020.89 200.19,1022.63 201.98,1024.39 203.77,1026.16 205.55,1027.94 207.32,1029.72 209.08,1031.52 210.84,1033.31 212.59,1035.11 214.33,1036.93 216.05,1038.75 217.78,1040.58 219.5,1042.41 221.23,1044.24 222.97,1046.05 224.72,1047.85 226.49,1049.64 228.26,1051.42 230.04,1053.2 231.82,1054.97 233.61,1056.74 235.39,1058.51 237.17,1060.29 238.95,1062.06 240.73,1063.83 242.52,1065.6 244.3,1067.37 246.08,1069.15 247.85,1070.94 249.6,1072.73 251.36,1074.53 253.12,1076.33 254.88,1078.13 256.62,1079.94 258.35,1081.77 260.05,1083.61 261.73,1085.48 263.37,1087.38 264.99,1089.31 266.58,1091.25 268.16,1093.21 269.73,1095.17 271.29,1097.15 272.81,1099.15 274.28,1101.19 275.68,1103.27 277.04,1105.38 278.36,1107.53 279.65,1109.69 280.9,1111.86 282.11,1114.07 283.28,1116.29 284.43,1118.53 285.57,1120.77 286.73,1123 287.88,1125.23 289.02,1127.48 290.16,1129.72 291.33,1131.95 292.55,1134.14 293.82,1136.31 295.13,1138.48 296.49,1140.62 297.93,1142.68 299.49,1144.6 301.21,1146.44 303.09,1148.19 305.08,1149.71 307.21,1150.96 309.51,1152.05 311.88,1152.92 314.28,1153.64 316.75,1154.21 319.22,1154.54 321.72,1154.79 324.23,1155 326.75,1155.16 329.26,1155.26 331.77,1155.32 334.29,1155.36 336.8,1155.4 339.31,1155.44 341.82,1155.47 344.33,1155.5 346.85,1155.53 349.36,1155.55 351.87,1155.58 354.39,1155.6 356.9,1155.62 359.42,1155.63 361.93,1155.65 364.45,1155.66 366.96,1155.66 369.47,1155.67 371.99,1155.67 374.5,1155.68 377.01,1155.68 379.53,1155.68 382.04,1155.68 384.55,1155.68 387.07,1155.68 389.58,1155.68 392.09,1155.68 394.61,1155.68 397.12,1155.68 399.63,1155.67 402.15,1155.67 404.66,1155.67 407.17,1155.67 409.69,1155.67 412.2,1155.67 414.71,1155.67 417.23,1155.67 419.74,1155.67 422.25,1155.67 424.77,1155.67 427.28,1155.67 429.79,1155.67 432.31,1155.67 434.82,1155.66 437.33,1155.66 439.85,1155.66 442.36,1155.66 444.87,1155.66 447.39,1155.66 449.9,1155.65 452.41,1155.65 454.93,1155.65 457.44,1155.65 459.95,1155.64 462.47,1155.64 464.98,1155.64 467.49,1155.63 470.01,1155.63 472.52,1155.63 475.03,1155.62 477.55,1155.62 480.06,1155.61 482.57,1155.61 485.09,1155.6 487.6,1155.6" fill="none" stroke="#ff2a2e" stroke-width="7" stroke-linejoin="round" stroke-linecap="butt"/>
<path d="M556 994.2 V1212.4 H884.2" fill="none" stroke="#3c3c3c" stroke-width="1.45"/>
<path d="M719.4 1212.4 v-3.2 M883.6 1212.4 v-3.2 M556 1190.64 h1.8 M556 1168.88 h1.8 M556 1147.12 h1.8 M556 1125.36 h1.8 M556 1103.6 h3.2 M556 1081.84 h1.8 M556 1060.08 h1.8 M556 1038.32 h1.8 M556 1016.56 h1.8 M556 994.8 h3.2 M556 994.8 h3.2" fill="none" stroke="#3c3c3c" stroke-width="1.2"/>
<text x="540" y="1006.04" font-size="31.4" text-anchor="end" fill="#3a3a3a">1</text>
<text x="540" y="1114.84" font-size="31.4" text-anchor="end" fill="#3a3a3a">0.5</text>
<text x="540" y="1223.64" font-size="31.4" text-anchor="end" fill="#3a3a3a">0</text>
<text x="555" y="1255.5" font-size="31.4" text-anchor="middle" fill="#3a3a3a">0</text>
<text x="719.5" y="1255.5" font-size="31.4" text-anchor="middle" fill="#3a3a3a">0.5</text>
<text x="884" y="1255.5" font-size="31.4" text-anchor="middle" fill="#3a3a3a">1</text>
<text x="719.25" y="1297.5" font-size="34.5" text-anchor="middle" fill="#3a3a3a">Time (s)</text>
<polyline points="556.29,1177.01 556.42,1174.49 556.56,1171.97 556.7,1169.45 556.84,1166.93 556.99,1164.41 557.15,1161.89 557.31,1159.37 557.47,1156.86 557.64,1154.34 557.8,1151.82 557.96,1149.3 558.13,1146.77 558.29,1144.25 558.47,1141.73 558.65,1139.2 558.84,1136.69 559.05,1134.17 559.27,1131.66 559.52,1129.15 559.78,1126.65 560.08,1124.16 560.41,1121.65 560.81,1119.13 561.26,1116.6 561.78,1114.09 562.37,1111.62 563.04,1109.21 563.77,1106.88 564.71,1104.61 565.93,1102.37 567.36,1100.21 568.9,1098.16 570.49,1096.24 572.21,1094.32 574.11,1092.54 576.16,1091.16 578.68,1090.38 580.61,1089.27 581.62,1086.79 581.89,1084.37 582.06,1081.86 582.18,1079.31 582.28,1076.74 582.39,1074.2 582.52,1071.68 582.63,1069.16 582.74,1066.64 582.84,1064.12 582.95,1061.59 583.07,1059.07 583.2,1056.56 583.35,1054.04 583.51,1051.52 583.68,1048.99 583.88,1046.47 584.11,1043.96 584.38,1041.46 584.69,1038.94 585.08,1036.33 585.61,1033.8 586.36,1031.55 588.09,1029.6 590.07,1030.67 591.96,1032.61 593.63,1034.5 595.21,1036.48 596.75,1038.48 598.25,1040.51 599.71,1042.58 601.1,1044.68 602.43,1046.82 603.69,1049 604.91,1051.21 606.11,1053.44 607.28,1055.67 608.45,1057.91 609.6,1060.16 610.72,1062.41 611.84,1064.68 612.95,1066.94 614.07,1069.2 615.2,1071.46 616.33,1073.72 617.46,1075.97 618.58,1078.23 619.71,1080.49 620.84,1082.74 621.97,1085 623.1,1087.26 624.23,1089.51 625.35,1091.77 626.48,1094.03 627.6,1096.3 628.68,1098.58 629.78,1100.86 630.89,1103.12 632.06,1105.35 633.3,1107.54 634.61,1109.71 635.97,1111.85 637.41,1113.93 638.93,1115.93 640.57,1117.83 642.34,1119.65 644.19,1121.38 646.09,1123.01 648.07,1124.56 650.11,1126.04 652.2,1127.47 654.32,1128.87 656.45,1130.25 658.57,1131.61 660.7,1132.96 662.85,1134.27 665.02,1135.56 667.2,1136.84 669.38,1138.1 671.57,1139.36 673.76,1140.62 675.96,1141.86 678.17,1143.09 680.39,1144.29 682.63,1145.44 684.89,1146.55 687.17,1147.64 689.47,1148.69 691.78,1149.71 694.1,1150.69 696.44,1151.62 698.8,1152.51 701.18,1153.36 703.57,1154.18 705.97,1154.97 708.37,1155.75 710.77,1156.52 713.18,1157.27 715.6,1157.99 718.02,1158.7 720.45,1159.38 722.89,1160.03 725.33,1160.66 727.78,1161.26 730.23,1161.86 732.69,1162.45 735.14,1163.04 737.59,1163.62 740.05,1164.19 742.51,1164.75 744.98,1165.29 747.44,1165.82 749.91,1166.33 752.39,1166.83 754.86,1167.32 757.34,1167.8 759.82,1168.27 762.3,1168.74 764.78,1169.19 767.26,1169.65 769.74,1170.1 772.23,1170.56 774.71,1171.01 777.2,1171.45 779.68,1171.88 782.17,1172.3 784.66,1172.7 787.15,1173.09 789.65,1173.45 792.15,1173.8 794.65,1174.15 797.15,1174.49 799.65,1174.83 802.16,1175.14 804.67,1175.43 807.18,1175.7 809.69,1175.92 812.2,1176.11 814.71,1176.28 817.23,1176.43 819.75,1176.58 822.26,1176.71 824.78,1176.84 827.31,1176.96 829.83,1177.07 832.35,1177.18 834.87,1177.28 837.4,1177.38 839.92,1177.47 842.44,1177.55 844.97,1177.64 847.49,1177.72 850.01,1177.8 852.53,1177.88 855.05,1177.95 857.57,1178.03 860.1,1178.1 862.62,1178.17 865.14,1178.24 867.66,1178.3 870.19,1178.36 872.71,1178.41 875.23,1178.47 877.75,1178.52 880.28,1178.56 882.8,1178.6" fill="none" stroke="#262626" stroke-width="7" stroke-linejoin="round" stroke-linecap="butt"/>
<polyline points="556.54,1178.26 556.65,1175.75 556.76,1173.23 556.88,1170.72 557.01,1168.21 557.14,1165.69 557.29,1163.18 557.44,1160.67 557.59,1158.16 557.75,1155.65 557.92,1153.14 558.09,1150.63 558.27,1148.12 558.44,1145.61 558.62,1143.09 558.81,1140.58 559,1138.06 559.21,1135.55 559.43,1133.04 559.67,1130.53 559.93,1128.03 560.21,1125.54 560.52,1123.05 560.86,1120.57 561.28,1118.08 561.78,1115.59 562.36,1113.12 563.01,1110.69 563.72,1108.3 564.56,1105.97 565.6,1103.66 566.78,1101.4 568.06,1099.21 569.39,1097.09 570.85,1094.97 572.46,1093 574.27,1091.37 576.43,1090.06 578.76,1088.97 581.25,1088.08 581.83,1086.3 582.14,1083.61 582.36,1080.79 582.57,1078.28 582.73,1075.76 582.87,1073.25 583.03,1070.74 583.23,1068.23 583.52,1065.73 583.91,1063.22 584.41,1060.77 585.13,1058.24 586.28,1056.05 588.47,1055.05 590.43,1056.58 592.09,1058.61 593.48,1060.7 594.81,1062.87 596.24,1064.94 597.71,1066.98 599.19,1069.02 600.65,1071.07 602.09,1073.13 603.5,1075.21 604.9,1077.3 606.29,1079.4 607.66,1081.51 609.02,1083.63 610.36,1085.76 611.69,1087.89 613.01,1090.04 614.32,1092.18 615.61,1094.34 616.89,1096.51 618.15,1098.69 619.42,1100.86 620.69,1103.03 621.94,1105.22 623.17,1107.42 624.43,1109.61 625.74,1111.75 627.12,1113.84 628.58,1115.9 630.1,1117.93 631.69,1119.88 633.37,1121.73 635.15,1123.51 637.05,1125.2 639.02,1126.75 641.09,1128.15 643.27,1129.44 645.49,1130.63 647.73,1131.76 650.01,1132.82 652.31,1133.84 654.63,1134.83 656.95,1135.81 659.27,1136.79 661.6,1137.74 663.94,1138.67 666.28,1139.59 668.62,1140.51 670.96,1141.44 673.29,1142.38 675.62,1143.33 677.95,1144.28 680.29,1145.21 682.64,1146.12 685,1146.99 687.36,1147.85 689.74,1148.69 692.12,1149.51 694.5,1150.31 696.9,1151.08 699.3,1151.82 701.71,1152.55 704.12,1153.26 706.54,1153.96 708.96,1154.66 711.37,1155.36 713.79,1156.05 716.21,1156.73 718.64,1157.4 721.07,1158.04 723.51,1158.65 725.96,1159.24 728.41,1159.82 730.86,1160.39 733.31,1160.97 735.76,1161.54 738.21,1162.12 740.66,1162.69 743.11,1163.25 745.57,1163.79 748.03,1164.3 750.5,1164.8 752.97,1165.28 755.44,1165.75 757.91,1166.22 760.38,1166.7 762.85,1167.18 765.32,1167.67 767.78,1168.18 770.24,1168.71 772.7,1169.26 775.16,1169.81 777.62,1170.36 780.08,1170.89 782.54,1171.41 785.01,1171.91 787.48,1172.37 789.95,1172.79 792.43,1173.19 794.92,1173.58 797.41,1173.97 799.9,1174.34 802.4,1174.68 804.9,1175 807.4,1175.29 809.9,1175.53 812.4,1175.73 814.91,1175.9 817.42,1176.07 819.92,1176.22 822.43,1176.36 824.95,1176.49 827.46,1176.62 829.98,1176.74 832.49,1176.85 835.01,1176.95 837.52,1177.05 840.04,1177.15 842.56,1177.24 845.07,1177.33 847.59,1177.42 850.1,1177.5 852.62,1177.59 855.13,1177.67 857.65,1177.75 860.16,1177.83 862.68,1177.91 865.19,1177.98 867.71,1178.05 870.22,1178.12 872.74,1178.18 875.25,1178.24 877.77,1178.3 880.28,1178.35 882.8,1178.4" fill="none" stroke="#8e2a2e" stroke-width="7" stroke-linejoin="round" stroke-linecap="butt"/>
<polyline points="556.92,1173.24 557,1170.72 557.08,1168.2 557.17,1165.68 557.26,1163.15 557.35,1160.63 557.45,1158.11 557.55,1155.59 557.66,1153.07 557.76,1150.55 557.87,1148.03 557.98,1145.5 558.1,1142.98 558.22,1140.46 558.36,1137.94 558.5,1135.42 558.65,1132.9 558.82,1130.39 559,1127.87 559.2,1125.35 559.43,1122.84 559.68,1120.32 559.95,1117.81 560.24,1115.31 560.55,1112.81 560.88,1110.31 561.26,1107.81 561.68,1105.31 562.14,1102.82 562.65,1100.34 563.21,1097.88 563.82,1095.45 564.54,1093.05 565.39,1090.67 566.34,1088.31 567.34,1085.99 568.35,1083.68 569.43,1081.38 570.61,1079.15 571.9,1076.99 573.34,1074.86 574.99,1072.98 576.95,1071.35 579.19,1070.25 581.68,1069.73 584.2,1070.1 586.52,1071.03 588.45,1072.49 590.19,1074.47 591.82,1076.46 593.36,1078.44 594.81,1080.51 596.23,1082.61 597.65,1084.7 599.08,1086.79 600.49,1088.88 601.88,1090.98 603.27,1093.09 604.64,1095.21 605.99,1097.34 607.33,1099.48 608.66,1101.62 609.98,1103.78 611.28,1105.94 612.56,1108.11 613.84,1110.29 615.11,1112.47 616.38,1114.65 617.64,1116.84 618.89,1119.04 620.13,1121.24 621.42,1123.41 622.78,1125.53 624.21,1127.6 625.7,1129.66 627.27,1131.65 628.91,1133.54 630.66,1135.35 632.52,1137.09 634.47,1138.7 636.5,1140.16 638.65,1141.5 640.87,1142.73 643.11,1143.87 645.39,1144.96 647.71,1145.98 650.05,1146.92 652.41,1147.79 654.8,1148.59 657.21,1149.35 659.64,1150.06 662.08,1150.73 664.52,1151.36 666.97,1151.96 669.43,1152.52 671.9,1153.05 674.37,1153.57 676.84,1154.06 679.32,1154.54 681.8,1155 684.29,1155.45 686.77,1155.88 689.26,1156.3 691.75,1156.69 694.25,1157.07 696.75,1157.44 699.24,1157.8 701.74,1158.17 704.23,1158.55 706.73,1158.94 709.22,1159.32 711.72,1159.69 714.22,1160.04 716.72,1160.37 719.22,1160.68 721.73,1160.98 724.24,1161.27 726.74,1161.55 729.25,1161.82 731.76,1162.09 734.27,1162.35 736.78,1162.6 739.29,1162.84 741.81,1163.09 744.32,1163.32 746.83,1163.55 749.35,1163.77 751.86,1163.99 754.37,1164.2 756.89,1164.41 759.4,1164.62 761.92,1164.83 764.43,1165.04 766.95,1165.26 769.46,1165.48 771.97,1165.7 774.49,1165.92 777,1166.15 779.52,1166.37 782.03,1166.6 784.54,1166.82 787.06,1167.04 789.57,1167.26 792.08,1167.49 794.6,1167.72 797.11,1167.96 799.62,1168.2 802.14,1168.43 804.65,1168.65 807.16,1168.86 809.68,1169.05 812.2,1169.21 814.71,1169.36 817.23,1169.5 819.75,1169.64 822.27,1169.76 824.79,1169.89 827.31,1170 829.83,1170.12 832.36,1170.22 834.88,1170.33 837.4,1170.43 839.92,1170.53 842.44,1170.62 844.97,1170.72 847.49,1170.81 850.01,1170.9 852.53,1170.99 855.05,1171.08 857.58,1171.16 860.1,1171.25 862.62,1171.33 865.14,1171.41 867.66,1171.49 870.19,1171.56 872.71,1171.64 875.23,1171.71 877.75,1171.77 880.28,1171.84 882.8,1171.9" fill="none" stroke="#ff2a2e" stroke-width="7" stroke-linejoin="round" stroke-linecap="butt"/>
<path d="M1016 994.2 V1212.4 H1331.1" fill="none" stroke="#3c3c3c" stroke-width="1.45"/>
<path d="M1330.5 1212.4 v-3.2 M1016 1197.9 h1.6 M1016 1183.39 h1.6 M1016 1168.88 h1.6 M1016 1154.38 h1.6 M1016 1139.87 h3.2 M1016 1125.36 h1.6 M1016 1110.85 h1.6 M1016 1096.35 h1.6 M1016 1081.84 h1.6 M1016 1067.33 h3.2 M1016 1052.83 h1.6 M1016 1038.32 h1.6 M1016 1023.81 h1.6 M1016 1009.31 h1.6 M1016 994.8 h3.2 M1016 994.8 h3.2" fill="none" stroke="#3c3c3c" stroke-width="1.2"/>
<text x="1000.5" y="1006.04" font-size="31.4" text-anchor="end" fill="#3a3a3a">50</text>
<text x="1000.5" y="1078.57" font-size="31.4" text-anchor="end" fill="#3a3a3a">0</text>
<text x="1000.5" y="1151.11" font-size="31.4" text-anchor="end" fill="#3a3a3a">-50</text>
<text x="1000.5" y="1223.64" font-size="31.4" text-anchor="end" fill="#3a3a3a">-100</text>
<text x="1015" y="1255.5" font-size="31.4" text-anchor="middle" fill="#3a3a3a">0</text>
<text x="1330.2" y="1255.5" font-size="31.4" text-anchor="middle" fill="#3a3a3a">0.5</text>
<text x="1173" y="1297.5" font-size="34.5" text-anchor="middle" fill="#3a3a3a">Time (s)</text>
<polyline points="1015.29,1185.16 1015.34,1182.65 1015.4,1180.13 1015.45,1177.61 1015.5,1175.09 1015.55,1172.57 1015.6,1170.06 1015.65,1167.54 1015.7,1165.02 1015.75,1162.5 1015.8,1159.98 1015.85,1157.46 1015.9,1154.95 1015.94,1152.43 1015.99,1149.91 1016.03,1147.39 1016.08,1144.87 1016.12,1142.35 1016.16,1139.84 1016.21,1137.32 1016.25,1134.8 1016.29,1132.28 1016.34,1129.76 1016.38,1127.24 1016.42,1124.73 1016.46,1122.21 1016.5,1119.69 1016.54,1117.17 1016.58,1114.65 1016.62,1112.13 1016.65,1109.62 1016.69,1107.1 1016.73,1104.58 1016.76,1102.06 1016.8,1099.54 1016.83,1097.02 1016.87,1094.5 1016.9,1091.99 1016.93,1089.47 1016.96,1086.95 1016.99,1084.43 1017.02,1081.91 1017.04,1079.39 1017.07,1076.87 1017.09,1074.36 1017.11,1071.84 1017.14,1069.32 1017.16,1066.8 1017.18,1064.28 1017.2,1061.76 1017.22,1059.24 1017.25,1056.72 1017.27,1054.21 1017.29,1051.69 1017.32,1049.17 1017.35,1046.65 1017.38,1044.13 1017.41,1041.61 1017.45,1039.09 1017.48,1036.58 1017.53,1034.06 1017.57,1031.49 1017.62,1028.59 1017.67,1025.41 1017.73,1022.08 1017.8,1018.74 1017.87,1015.52 1017.96,1012.54 1018.05,1009.95 1018.15,1007.86 1018.27,1006.42 1018.39,1005.75 1018.55,1006.17 1018.8,1007.97 1019.09,1010.71 1019.42,1013.94 1019.75,1017.23 1020.05,1020.1 1020.3,1022.62 1020.53,1025.14 1020.78,1027.66 1021.1,1030.14 1021.56,1032.78 1022.39,1035.51 1024,1035.36 1026.54,1034.14 1028.99,1033.44 1031.43,1033.47 1033.82,1034.25 1036.19,1035.29 1038.58,1036.16 1040.97,1036.95 1043.38,1037.69 1045.81,1038.36 1048.25,1038.99 1050.69,1039.61 1053.13,1040.26 1055.54,1040.97 1057.94,1041.72 1060.33,1042.52 1062.71,1043.36 1065.08,1044.23 1067.43,1045.13 1069.75,1046.08 1072.06,1047.09 1074.35,1048.14 1076.63,1049.21 1078.92,1050.27 1081.22,1051.31 1083.52,1052.34 1085.82,1053.35 1088.12,1054.38 1090.42,1055.42 1092.7,1056.48 1094.97,1057.56 1097.24,1058.66 1099.5,1059.78 1101.75,1060.91 1103.99,1062.07 1106.2,1063.26 1108.42,1064.47 1110.62,1065.7 1112.8,1066.96 1114.97,1068.25 1117.11,1069.57 1119.22,1070.93 1121.31,1072.33 1123.39,1073.77 1125.44,1075.24 1127.46,1076.75 1129.45,1078.3 1131.4,1079.88 1133.3,1081.53 1135.17,1083.24 1136.97,1084.99 1138.72,1086.8 1140.42,1088.66 1142.08,1090.56 1143.7,1092.49 1145.28,1094.45 1146.81,1096.45 1148.32,1098.47 1149.79,1100.51 1151.23,1102.58 1152.65,1104.66 1154.03,1106.77 1155.37,1108.9 1156.66,1111.06 1157.91,1113.25 1159.14,1115.45 1160.33,1117.67 1161.51,1119.9 1162.69,1122.12 1163.86,1124.36 1165.01,1126.6 1166.14,1128.85 1167.23,1131.12 1168.27,1133.41 1169.26,1135.72 1170.21,1138.06 1171.13,1140.4 1172.04,1142.76 1172.94,1145.11 1173.85,1147.46 1174.75,1149.81 1175.64,1152.17 1176.5,1154.53 1177.34,1156.91 1178.14,1159.3 1178.91,1161.69 1179.69,1164.09 1180.5,1166.48 1181.33,1168.86 1182.15,1171.25 1183.02,1173.63 1183.96,1175.95 1185.02,1178.24 1186.22,1180.54 1187.62,1182.63 1189.38,1184.34 1191.59,1185.66 1193.97,1186.28 1196.51,1186.64 1199.02,1186.77 1201.54,1186.86 1204.06,1186.91 1206.58,1186.92 1209.1,1186.91 1211.62,1186.9 1214.14,1186.88 1216.66,1186.85 1219.18,1186.83 1221.7,1186.81 1224.21,1186.8 1226.73,1186.79 1229.25,1186.78 1231.77,1186.77 1234.29,1186.77 1236.81,1186.76 1239.33,1186.75 1241.85,1186.74 1244.36,1186.74 1246.88,1186.73 1249.4,1186.72 1251.92,1186.71 1254.44,1186.71 1256.96,1186.7 1259.48,1186.69 1261.99,1186.69 1264.51,1186.68 1267.03,1186.68 1269.55,1186.67 1272.07,1186.67 1274.59,1186.66 1277.11,1186.65 1279.63,1186.65 1282.14,1186.65 1284.66,1186.64 1287.18,1186.64 1289.7,1186.63 1292.22,1186.63 1294.74,1186.63 1297.26,1186.62 1299.78,1186.62 1302.29,1186.62 1304.81,1186.61 1307.33,1186.61 1309.85,1186.61 1312.37,1186.61 1314.89,1186.6 1317.41,1186.6 1319.93,1186.6 1322.44,1186.6 1324.96,1186.6 1327.48,1186.6 1330,1186.6" fill="none" stroke="#262626" stroke-width="7" stroke-linejoin="round" stroke-linecap="butt"/>
<polyline points="1015.29,1185.16 1015.34,1182.64 1015.4,1180.12 1015.45,1177.6 1015.5,1175.08 1015.55,1172.56 1015.6,1170.04 1015.65,1167.52 1015.7,1165 1015.75,1162.48 1015.8,1159.96 1015.85,1157.44 1015.9,1154.92 1015.94,1152.4 1015.99,1149.88 1016.03,1147.36 1016.08,1144.84 1016.12,1142.32 1016.17,1139.8 1016.21,1137.28 1016.25,1134.76 1016.29,1132.24 1016.34,1129.72 1016.38,1127.2 1016.42,1124.68 1016.46,1122.16 1016.5,1119.64 1016.54,1117.12 1016.58,1114.6 1016.62,1112.08 1016.65,1109.56 1016.69,1107.04 1016.73,1104.52 1016.76,1102 1016.8,1099.48 1016.83,1096.96 1016.87,1094.44 1016.9,1091.91 1016.93,1089.39 1016.96,1086.87 1016.99,1084.35 1017.02,1081.83 1017.04,1079.31 1017.07,1076.79 1017.09,1074.27 1017.11,1071.75 1017.14,1069.23 1017.16,1066.71 1017.18,1064.19 1017.2,1061.67 1017.22,1059.15 1017.25,1056.63 1017.27,1054.11 1017.3,1051.59 1017.32,1049.06 1017.35,1046.54 1017.38,1044.02 1017.41,1041.5 1017.45,1038.98 1017.49,1036.46 1017.53,1033.94 1017.57,1031.37 1017.62,1028.44 1017.67,1025.25 1017.73,1021.92 1017.8,1018.58 1017.88,1015.36 1017.96,1012.4 1018.06,1009.82 1018.16,1007.77 1018.27,1006.36 1018.4,1005.74 1018.57,1006.24 1018.81,1008.1 1019.11,1010.88 1019.44,1014.13 1019.77,1017.41 1020.07,1020.25 1020.32,1022.77 1020.54,1025.3 1020.79,1027.82 1021.12,1030.3 1021.63,1032.98 1022.56,1035.47 1024.13,1034.89 1026.45,1033.1 1028.78,1031.95 1031.22,1031.15 1033.7,1030.9 1036.23,1030.83 1038.74,1030.88 1041.21,1031.34 1043.67,1032.03 1046.1,1032.71 1048.5,1033.45 1050.89,1034.28 1053.26,1035.14 1055.64,1036 1058,1036.86 1060.37,1037.74 1062.72,1038.64 1065.07,1039.55 1067.42,1040.48 1069.75,1041.42 1072.08,1042.38 1074.41,1043.35 1076.73,1044.34 1079.04,1045.34 1081.36,1046.34 1083.66,1047.37 1085.96,1048.4 1088.25,1049.44 1090.55,1050.49 1092.84,1051.53 1095.14,1052.56 1097.44,1053.59 1099.75,1054.62 1102.04,1055.65 1104.34,1056.69 1106.63,1057.74 1108.92,1058.8 1111.2,1059.87 1113.48,1060.94 1115.76,1062.02 1118.03,1063.12 1120.3,1064.21 1122.58,1065.31 1124.84,1066.42 1127.09,1067.55 1129.33,1068.71 1131.53,1069.93 1133.72,1071.19 1135.86,1072.52 1137.94,1073.93 1139.96,1075.44 1141.94,1077.01 1143.91,1078.58 1145.87,1080.17 1147.8,1081.8 1149.67,1083.48 1151.51,1085.21 1153.3,1086.99 1155.03,1088.82 1156.69,1090.71 1158.29,1092.66 1159.83,1094.65 1161.36,1096.67 1162.87,1098.68 1164.37,1100.71 1165.85,1102.76 1167.28,1104.83 1168.66,1106.94 1169.99,1109.07 1171.29,1111.24 1172.55,1113.43 1173.78,1115.63 1174.98,1117.84 1176.15,1120.07 1177.3,1122.32 1178.43,1124.58 1179.52,1126.85 1180.59,1129.13 1181.62,1131.43 1182.62,1133.74 1183.6,1136.06 1184.56,1138.39 1185.5,1140.73 1186.44,1143.08 1187.36,1145.42 1188.25,1147.78 1189.13,1150.14 1190,1152.51 1190.88,1154.87 1191.77,1157.23 1192.65,1159.59 1193.54,1161.95 1194.42,1164.31 1195.29,1166.68 1196.14,1169.06 1197.01,1171.43 1197.93,1173.77 1198.92,1176.1 1199.96,1178.46 1201.12,1180.7 1202.54,1182.7 1204.39,1184.58 1206.52,1185.69 1208.99,1186.35 1211.52,1186.56 1214.02,1186.6 1216.54,1186.63 1219.07,1186.65 1221.6,1186.66 1224.13,1186.67 1226.65,1186.67 1229.18,1186.67 1231.7,1186.67 1234.22,1186.67 1236.74,1186.67 1239.26,1186.67 1241.78,1186.67 1244.3,1186.67 1246.82,1186.67 1249.34,1186.67 1251.86,1186.67 1254.38,1186.66 1256.9,1186.66 1259.42,1186.66 1261.94,1186.66 1264.46,1186.66 1266.98,1186.65 1269.5,1186.65 1272.03,1186.65 1274.55,1186.64 1277.07,1186.64 1279.59,1186.63 1282.11,1186.63 1284.63,1186.62 1287.15,1186.61 1289.67,1186.61 1292.19,1186.6 1294.71,1186.59 1297.23,1186.58 1299.75,1186.57 1302.27,1186.56 1304.79,1186.55 1307.31,1186.54 1309.83,1186.53 1312.36,1186.51 1314.88,1186.5 1317.4,1186.49 1319.92,1186.47 1322.44,1186.45 1324.96,1186.44 1327.48,1186.42 1330,1186.4" fill="none" stroke="#8e2a2e" stroke-width="7" stroke-linejoin="round" stroke-linecap="butt"/>
<polyline points="1015.29,1185.16 1015.34,1182.65 1015.4,1180.13 1015.45,1177.62 1015.5,1175.1 1015.55,1172.58 1015.6,1170.07 1015.65,1167.55 1015.7,1165.03 1015.75,1162.52 1015.8,1160 1015.85,1157.49 1015.9,1154.97 1015.94,1152.45 1015.99,1149.94 1016.03,1147.42 1016.08,1144.91 1016.12,1142.39 1016.16,1139.87 1016.21,1137.36 1016.25,1134.84 1016.29,1132.32 1016.33,1129.81 1016.38,1127.29 1016.42,1124.77 1016.46,1122.26 1016.5,1119.74 1016.54,1117.23 1016.58,1114.71 1016.61,1112.19 1016.65,1109.68 1016.69,1107.16 1016.73,1104.64 1016.76,1102.13 1016.8,1099.61 1016.83,1097.09 1016.87,1094.58 1016.9,1092.06 1016.93,1089.54 1016.96,1087.03 1016.99,1084.51 1017.02,1082 1017.04,1079.48 1017.07,1076.96 1017.09,1074.44 1017.11,1071.93 1017.13,1069.41 1017.16,1066.89 1017.18,1064.38 1017.2,1061.86 1017.22,1059.34 1017.24,1056.83 1017.27,1054.31 1017.29,1051.79 1017.32,1049.28 1017.35,1046.76 1017.38,1044.25 1017.41,1041.73 1017.45,1039.21 1017.48,1036.7 1017.52,1034.18 1017.57,1031.63 1017.61,1028.74 1017.67,1025.58 1017.73,1022.26 1017.8,1018.92 1017.87,1015.68 1017.95,1012.69 1018.05,1010.08 1018.15,1007.96 1018.26,1006.48 1018.39,1005.77 1018.54,1006.11 1018.78,1007.83 1019.07,1010.52 1019.4,1013.74 1019.73,1017.03 1020.03,1019.94 1020.29,1022.46 1020.5,1024.99 1020.74,1027.51 1021.06,1029.99 1021.56,1032.58 1022.57,1035.09 1024,1034.4 1025.93,1032.2 1028.05,1030.59 1030.41,1029.65 1032.89,1029.16 1035.41,1028.99 1037.93,1028.94 1040.42,1029.19 1042.91,1029.69 1045.37,1030.24 1047.8,1030.86 1050.2,1031.61 1052.59,1032.43 1054.97,1033.26 1057.35,1034.07 1059.72,1034.92 1062.09,1035.79 1064.44,1036.68 1066.79,1037.6 1069.12,1038.53 1071.44,1039.5 1073.76,1040.49 1076.06,1041.5 1078.37,1042.52 1080.67,1043.54 1082.97,1044.56 1085.26,1045.59 1087.56,1046.63 1089.85,1047.66 1092.14,1048.7 1094.44,1049.74 1096.73,1050.77 1099.03,1051.8 1101.32,1052.83 1103.62,1053.87 1105.91,1054.9 1108.21,1055.92 1110.51,1056.94 1112.81,1057.96 1115.11,1059 1117.39,1060.05 1119.67,1061.13 1121.94,1062.22 1124.2,1063.32 1126.45,1064.45 1128.69,1065.61 1130.89,1066.81 1133.08,1068.07 1135.23,1069.38 1137.35,1070.73 1139.43,1072.14 1141.48,1073.6 1143.51,1075.1 1145.51,1076.62 1147.48,1078.2 1149.39,1079.83 1151.23,1081.54 1153.02,1083.32 1154.76,1085.14 1156.45,1087 1158.1,1088.9 1159.71,1090.84 1161.27,1092.82 1162.81,1094.81 1164.31,1096.83 1165.78,1098.88 1167.21,1100.95 1168.58,1103.05 1169.91,1105.19 1171.21,1107.35 1172.47,1109.53 1173.7,1111.73 1174.9,1113.94 1176.08,1116.16 1177.23,1118.4 1178.35,1120.66 1179.45,1122.92 1180.51,1125.2 1181.54,1127.49 1182.54,1129.8 1183.51,1132.13 1184.46,1134.46 1185.4,1136.79 1186.35,1139.13 1187.29,1141.46 1188.24,1143.79 1189.18,1146.12 1190.12,1148.46 1191.05,1150.8 1191.96,1153.15 1192.86,1155.5 1193.74,1157.85 1194.62,1160.21 1195.5,1162.57 1196.37,1164.93 1197.22,1167.31 1198.08,1169.68 1198.99,1172.02 1199.97,1174.33 1201,1176.67 1202.14,1178.93 1203.44,1181.03 1205.03,1183.13 1206.91,1184.73 1209.18,1185.61 1211.73,1186.14 1214.22,1186.3 1216.75,1186.4 1219.27,1186.42 1221.78,1186.42 1224.3,1186.42 1226.82,1186.42 1229.33,1186.42 1231.85,1186.42 1234.37,1186.42 1236.88,1186.42 1239.4,1186.41 1241.92,1186.41 1244.43,1186.41 1246.95,1186.41 1249.47,1186.41 1251.98,1186.4 1254.5,1186.4 1257.02,1186.4 1259.53,1186.39 1262.05,1186.39 1264.57,1186.39 1267.08,1186.38 1269.6,1186.38 1272.12,1186.37 1274.63,1186.37 1277.15,1186.36 1279.67,1186.36 1282.18,1186.35 1284.7,1186.35 1287.22,1186.34 1289.73,1186.33 1292.25,1186.33 1294.77,1186.32 1297.28,1186.31 1299.8,1186.31 1302.32,1186.3 1304.83,1186.29 1307.35,1186.28 1309.87,1186.27 1312.38,1186.27 1314.9,1186.26 1317.42,1186.25 1319.93,1186.24 1322.45,1186.23 1324.97,1186.22 1327.48,1186.21 1330,1186.2" fill="none" stroke="#ff2a2e" stroke-width="7" stroke-linejoin="round" stroke-linecap="butt"/>
<path d="M1412.2 990.9 V1212.4 H1751.6" fill="none" stroke="#3c3c3c" stroke-width="1.45"/>
<path d="M1581.7 1212.4 v-3.2 M1751 1212.4 v-3.2 M1412.2 1196.62 h1.6 M1412.2 1180.84 h1.6 M1412.2 1165.06 h1.6 M1412.2 1149.29 h3.2 M1412.2 1133.51 h1.6 M1412.2 1117.73 h1.6 M1412.2 1101.95 h1.6 M1412.2 1086.17 h3.2 M1412.2 1070.39 h1.6 M1412.2 1054.61 h1.6 M1412.2 1038.84 h1.6 M1412.2 1023.06 h3.2 M1412.2 1007.28 h1.6 M1412.2 991.5 h1.6 M1412.2 991.5 h3.2" fill="none" stroke="#3c3c3c" stroke-width="1.2"/>
<text x="1397" y="1034.3" font-size="31.4" text-anchor="end" fill="#3a3a3a">0.6</text>
<text x="1397" y="1097.41" font-size="31.4" text-anchor="end" fill="#3a3a3a">0.4</text>
<text x="1397" y="1160.53" font-size="31.4" text-anchor="end" fill="#3a3a3a">0.2</text>
<text x="1397" y="1223.64" font-size="31.4" text-anchor="end" fill="#3a3a3a">0</text>
<text x="1411" y="1255.5" font-size="31.4" text-anchor="middle" fill="#3a3a3a">0</text>
<text x="1581.5" y="1255.5" font-size="31.4" text-anchor="middle" fill="#3a3a3a">0.5</text>
<text x="1750" y="1255.5" font-size="31.4" text-anchor="middle" fill="#3a3a3a">1</text>
<text x="1581" y="1297.5" font-size="34.5" text-anchor="middle" fill="#3a3a3a">Time (s)</text>
<polyline points="1412.17,1185.79 1414.73,1184.95 1416.63,1183.61 1418.1,1181.48 1418.91,1179.07 1419.32,1176.66 1419.62,1174.14 1419.85,1171.58 1420.03,1169.02 1420.18,1166.51 1420.31,1163.99 1420.43,1161.47 1420.54,1158.95 1420.63,1156.43 1420.72,1153.91 1420.8,1151.39 1420.88,1148.87 1420.97,1146.35 1421.06,1143.83 1421.15,1141.31 1421.23,1138.79 1421.31,1136.26 1421.38,1133.74 1421.46,1131.22 1421.54,1128.7 1421.62,1126.18 1421.71,1123.66 1421.81,1121.14 1421.93,1118.63 1422.06,1116.1 1422.2,1113.57 1422.37,1111.04 1422.57,1108.51 1422.82,1106.01 1423.13,1103.53 1423.61,1100.98 1424.45,1098.47 1425.76,1096.64 1428.15,1095.3 1430.44,1095.71 1432.59,1097.29 1434.32,1099.02 1435.87,1101.06 1437.34,1103.17 1438.8,1105.23 1440.19,1107.32 1441.56,1109.45 1442.94,1111.56 1444.36,1113.65 1445.79,1115.72 1447.24,1117.79 1448.72,1119.83 1450.23,1121.85 1451.8,1123.82 1453.41,1125.76 1455.04,1127.68 1456.7,1129.59 1458.35,1131.49 1460.03,1133.38 1461.75,1135.22 1463.53,1137 1465.38,1138.71 1467.27,1140.38 1469.19,1142.02 1471.13,1143.63 1473.1,1145.21 1475.1,1146.75 1477.11,1148.27 1479.14,1149.78 1481.18,1151.28 1483.25,1152.74 1485.34,1154.14 1487.47,1155.46 1489.65,1156.71 1491.86,1157.91 1494.12,1159.06 1496.4,1160.16 1498.69,1161.21 1501,1162.21 1503.33,1163.16 1505.69,1164.08 1508.06,1164.95 1510.45,1165.78 1512.84,1166.56 1515.24,1167.31 1517.66,1168.02 1520.1,1168.7 1522.53,1169.35 1524.98,1169.98 1527.42,1170.59 1529.87,1171.19 1532.33,1171.77 1534.79,1172.32 1537.26,1172.84 1539.73,1173.32 1542.21,1173.77 1544.7,1174.2 1547.19,1174.61 1549.68,1174.99 1552.17,1175.35 1554.67,1175.69 1557.17,1176.02 1559.67,1176.33 1562.18,1176.64 1564.68,1176.95 1567.18,1177.26 1569.68,1177.57 1572.19,1177.87 1574.69,1178.15 1577.2,1178.43 1579.71,1178.69 1582.22,1178.95 1584.73,1179.19 1587.24,1179.43 1589.75,1179.65 1592.26,1179.86 1594.77,1180.07 1597.29,1180.26 1599.8,1180.45 1602.32,1180.63 1604.83,1180.82 1607.35,1180.99 1609.86,1181.17 1612.38,1181.34 1614.9,1181.49 1617.41,1181.64 1619.93,1181.77 1622.45,1181.9 1624.97,1182.02 1627.48,1182.14 1630,1182.26 1632.52,1182.37 1635.04,1182.49 1637.56,1182.6 1640.08,1182.71 1642.6,1182.81 1645.12,1182.92 1647.64,1183.02 1650.16,1183.11 1652.68,1183.21 1655.2,1183.3 1657.72,1183.38 1660.24,1183.47 1662.76,1183.55 1665.28,1183.63 1667.8,1183.7 1670.32,1183.77 1672.84,1183.84 1675.36,1183.9 1677.88,1183.95 1680.4,1184.01 1682.93,1184.06 1685.45,1184.11 1687.97,1184.16 1690.49,1184.21 1693.01,1184.26 1695.53,1184.31 1698.05,1184.36 1700.57,1184.41 1703.09,1184.46 1705.61,1184.5 1708.13,1184.55 1710.65,1184.59 1713.18,1184.63 1715.7,1184.67 1718.22,1184.71 1720.74,1184.75 1723.26,1184.78 1725.78,1184.81 1728.3,1184.84 1730.83,1184.87 1733.35,1184.9 1735.87,1184.92 1738.39,1184.94 1740.91,1184.96 1743.43,1184.97 1745.96,1184.99 1748.48,1184.99 1751,1185" fill="none" stroke="#262626" stroke-width="7" stroke-linejoin="round" stroke-linecap="butt"/>
<polyline points="1412.17,1182.65 1414.87,1182.12 1417.08,1181.09 1418.8,1179.57 1420.19,1177.25 1420.89,1174.88 1421.31,1172.49 1421.62,1169.99 1421.86,1167.43 1422.08,1164.86 1422.3,1162.32 1422.53,1159.82 1422.74,1157.31 1422.94,1154.8 1423.12,1152.29 1423.31,1149.78 1423.5,1147.27 1423.7,1144.76 1423.92,1142.26 1424.14,1139.75 1424.35,1137.24 1424.58,1134.73 1424.81,1132.22 1425.07,1129.72 1425.35,1127.22 1425.67,1124.73 1426.01,1122.22 1426.39,1119.67 1426.83,1117.13 1427.37,1114.67 1428.04,1112.33 1429.05,1109.99 1430.64,1107.88 1432.65,1106.83 1435.23,1106.19 1437.71,1106.24 1440.14,1106.99 1442.52,1107.94 1444.84,1108.88 1447.12,1109.97 1449.37,1111.1 1451.63,1112.21 1453.88,1113.34 1456.12,1114.49 1458.35,1115.66 1460.57,1116.85 1462.78,1118.05 1464.97,1119.27 1467.16,1120.52 1469.33,1121.79 1471.5,1123.07 1473.67,1124.35 1475.83,1125.63 1477.99,1126.92 1480.15,1128.22 1482.3,1129.53 1484.45,1130.83 1486.61,1132.12 1488.78,1133.39 1490.95,1134.66 1493.13,1135.93 1495.31,1137.18 1497.5,1138.42 1499.71,1139.63 1501.93,1140.81 1504.16,1141.97 1506.41,1143.11 1508.66,1144.23 1510.93,1145.32 1513.21,1146.39 1515.49,1147.44 1517.79,1148.48 1520.09,1149.5 1522.42,1150.47 1524.75,1151.39 1527.11,1152.24 1529.49,1153.05 1531.89,1153.82 1534.3,1154.56 1536.71,1155.28 1539.13,1156 1541.54,1156.71 1543.96,1157.4 1546.39,1158.07 1548.81,1158.73 1551.25,1159.36 1553.69,1159.98 1556.13,1160.58 1558.58,1161.17 1561.03,1161.73 1563.49,1162.28 1565.95,1162.8 1568.41,1163.3 1570.88,1163.79 1573.35,1164.27 1575.82,1164.74 1578.3,1165.2 1580.77,1165.66 1583.25,1166.11 1585.73,1166.55 1588.21,1166.97 1590.69,1167.36 1593.18,1167.75 1595.67,1168.12 1598.16,1168.48 1600.65,1168.83 1603.14,1169.18 1605.63,1169.52 1608.13,1169.85 1610.62,1170.18 1613.12,1170.5 1615.61,1170.82 1618.11,1171.13 1620.61,1171.44 1623.1,1171.76 1625.6,1172.08 1628.1,1172.41 1630.59,1172.74 1633.09,1173.07 1635.59,1173.41 1638.08,1173.75 1640.58,1174.09 1643.08,1174.42 1645.58,1174.75 1648.07,1175.08 1650.57,1175.4 1653.07,1175.72 1655.57,1176.02 1658.07,1176.32 1660.57,1176.6 1663.07,1176.87 1665.57,1177.13 1668.07,1177.38 1670.58,1177.61 1673.08,1177.82 1675.59,1178.01 1678.09,1178.18 1680.6,1178.33 1683.1,1178.48 1685.61,1178.62 1688.12,1178.77 1690.63,1178.91 1693.14,1179.05 1695.65,1179.19 1698.16,1179.32 1700.67,1179.46 1703.18,1179.59 1705.69,1179.71 1708.2,1179.84 1710.72,1179.95 1713.23,1180.07 1715.74,1180.18 1718.26,1180.28 1720.77,1180.38 1723.29,1180.47 1725.81,1180.56 1728.32,1180.64 1730.84,1180.71 1733.36,1180.77 1735.88,1180.83 1738.4,1180.88 1740.92,1180.92 1743.44,1180.96 1745.96,1180.98 1748.48,1181 1751,1181" fill="none" stroke="#8e2a2e" stroke-width="7" stroke-linejoin="round" stroke-linecap="butt"/>
<polyline points="1412.17,1157.56 1414.58,1156.63 1416.72,1155.41 1418.64,1153.77 1420.38,1151.86 1421.9,1149.87 1423.19,1147.73 1424.38,1145.47 1425.57,1143.21 1426.87,1141.03 1428.2,1138.87 1429.59,1136.75 1431.07,1134.72 1432.7,1132.81 1434.47,1131 1436.33,1129.26 1438.21,1127.57 1440.13,1125.91 1442.11,1124.33 1444.17,1122.89 1446.32,1121.58 1448.55,1120.36 1450.81,1119.23 1453.1,1118.15 1455.43,1117.16 1457.81,1116.32 1460.23,1115.58 1462.67,1114.91 1465.11,1114.26 1467.57,1113.67 1470.05,1113.21 1472.55,1112.83 1475.07,1112.53 1477.58,1112.26 1480.1,1112.05 1482.63,1112.01 1485.15,1112.01 1487.68,1112.01 1490.21,1112.08 1492.73,1112.26 1495.24,1112.52 1497.72,1113 1500.19,1113.59 1502.63,1114.21 1505.06,1114.92 1507.47,1115.68 1509.88,1116.45 1512.3,1117.21 1514.72,1117.94 1517.14,1118.66 1519.56,1119.39 1521.98,1120.12 1524.4,1120.84 1526.82,1121.57 1529.24,1122.3 1531.66,1123.04 1534.08,1123.77 1536.5,1124.49 1538.93,1125.19 1541.36,1125.89 1543.79,1126.58 1546.22,1127.26 1548.66,1127.93 1551.1,1128.58 1553.55,1129.22 1556,1129.83 1558.45,1130.44 1560.91,1131.04 1563.36,1131.64 1565.82,1132.25 1568.27,1132.85 1570.73,1133.45 1573.19,1134.03 1575.65,1134.59 1578.12,1135.12 1580.6,1135.62 1583.08,1136.12 1585.56,1136.6 1588.04,1137.07 1590.53,1137.54 1593.01,1137.99 1595.5,1138.44 1597.99,1138.88 1600.48,1139.31 1602.97,1139.74 1605.46,1140.17 1607.95,1140.59 1610.45,1141 1612.94,1141.41 1615.44,1141.81 1617.94,1142.2 1620.43,1142.57 1622.93,1142.93 1625.44,1143.29 1627.94,1143.65 1630.44,1144 1632.94,1144.34 1635.45,1144.68 1637.95,1145.02 1640.46,1145.36 1642.96,1145.69 1645.47,1146.01 1647.98,1146.34 1650.49,1146.66 1652.99,1146.97 1655.5,1147.29 1658.01,1147.6 1660.52,1147.9 1663.03,1148.21 1665.54,1148.51 1668.05,1148.81 1670.56,1149.1 1673.07,1149.4 1675.58,1149.69 1678.09,1149.98 1680.6,1150.27 1683.11,1150.56 1685.62,1150.84 1688.13,1151.12 1690.65,1151.4 1693.16,1151.68 1695.67,1151.96 1698.18,1152.23 1700.69,1152.51 1703.21,1152.78 1705.72,1153.05 1708.23,1153.32 1710.75,1153.58 1713.26,1153.84 1715.77,1154.1 1718.29,1154.36 1720.8,1154.62 1723.32,1154.87 1725.83,1155.12 1728.35,1155.37 1730.86,1155.62 1733.38,1155.86 1735.9,1156.11 1738.41,1156.34 1740.93,1156.58 1743.45,1156.81 1745.96,1157.05 1748.48,1157.27 1751,1157.5" fill="none" stroke="#ff2a2e" stroke-width="7" stroke-linejoin="round" stroke-linecap="butt"/>
<line x1="307" y1="408" x2="410.8" y2="408" stroke="#262626" stroke-width="7"/>
<text x="421" y="418.2" font-size="28.5" text-anchor="start" fill="#1c1c1c">ctrl</text>
<line x1="307" y1="442.3" x2="410.8" y2="442.3" stroke="#8e2a2e" stroke-width="7"/>
<text x="421" y="452.5" font-size="28.5" text-anchor="start" fill="#1c1c1c">50%</text>
<line x1="307" y1="476.3" x2="410.8" y2="476.3" stroke="#ff2a2e" stroke-width="7"/>
<text x="421" y="486.5" font-size="28.5" text-anchor="start" fill="#1c1c1c">90%</text>
<text x="43.6" y="587.4" font-size="35" text-anchor="start" fill="#000000" transform="rotate(-90 43.6 587.4)">I<tspan font-size="27.5" dy="17.2">CaL</tspan><tspan dy="-17.2"> block</tspan></text>
<text x="47" y="812.2" font-size="34.7" text-anchor="middle" fill="#000000" transform="rotate(-90 47 812.2)">NCX block</text>
<text x="52.1" y="1153.7" font-size="35.3" text-anchor="middle" fill="#000000" transform="rotate(-90 52.1 1153.7)">SERCA block</text>
<rect x="149.7" y="1337.5" width="753" height="331.2" fill="#ffffff" stroke="none" stroke-width="1"/>
<rect x="149.7" y="1337.5" width="107.87" height="55.5" fill="#ddddff" stroke="none" stroke-width="1"/>
<rect x="364.84" y="1337.5" width="107.87" height="55.5" fill="#fff5f5" stroke="none" stroke-width="1"/>
<rect x="472.41" y="1337.5" width="107.87" height="55.5" fill="#ffc3c3" stroke="none" stroke-width="1"/>
<rect x="579.99" y="1337.5" width="107.87" height="55.5" fill="#ff0808" stroke="none" stroke-width="1"/>
<rect x="687.56" y="1337.5" width="107.87" height="55.5" fill="#e5e5ff" stroke="none" stroke-width="1"/>
<rect x="149.7" y="1392.7" width="107.87" height="55.5" fill="#ddddff" stroke="none" stroke-width="1"/>
<rect x="257.27" y="1392.7" width="107.87" height="55.5" fill="#ff7070" stroke="none" stroke-width="1"/>
<rect x="364.84" y="1392.7" width="107.87" height="55.5" fill="#dedeff" stroke="none" stroke-width="1"/>
<rect x="579.99" y="1392.7" width="107.87" height="55.5" fill="#ff4b4b" stroke="none" stroke-width="1"/>
<rect x="687.56" y="1392.7" width="107.87" height="55.5" fill="#9d9dff" stroke="none" stroke-width="1"/>
<rect x="149.7" y="1447.9" width="107.87" height="55.5" fill="#ffe4e4" stroke="none" stroke-width="1"/>
<rect x="472.41" y="1447.9" width="107.87" height="55.5" fill="#ffe4e4" stroke="none" stroke-width="1"/>
<rect x="579.99" y="1447.9" width="107.87" height="55.5" fill="#ff5252" stroke="none" stroke-width="1"/>
<rect x="149.7" y="1503.1" width="107.87" height="55.5" fill="#f6f6ff" stroke="none" stroke-width="1"/>
<rect x="257.27" y="1503.1" width="107.87" height="55.5" fill="#ffc8c8" stroke="none" stroke-width="1"/>
<rect x="364.84" y="1503.1" width="107.87" height="55.5" fill="#e6e6ff" stroke="none" stroke-width="1"/>
<rect x="472.41" y="1503.1" width="107.87" height="55.5" fill="#5c5cff" stroke="none" stroke-width="1"/>
<rect x="579.99" y="1503.1" width="107.87" height="55.5" fill="#6262ff" stroke="none" stroke-width="1"/>
<rect x="687.56" y="1503.1" width="107.87" height="55.5" fill="#ffa2a2" stroke="none" stroke-width="1"/>
<rect x="795.13" y="1503.1" width="107.87" height="55.5" fill="#ffdcdc" stroke="none" stroke-width="1"/>
<rect x="149.7" y="1558.3" width="107.87" height="55.5" fill="#eeeeff" stroke="none" stroke-width="1"/>
<rect x="257.27" y="1558.3" width="107.87" height="55.5" fill="#ffbebe" stroke="none" stroke-width="1"/>
<rect x="364.84" y="1558.3" width="107.87" height="55.5" fill="#f6f6ff" stroke="none" stroke-width="1"/>
<rect x="472.41" y="1558.3" width="107.87" height="55.5" fill="#3838ff" stroke="none" stroke-width="1"/>
<rect x="579.99" y="1558.3" width="107.87" height="55.5" fill="#8787ff" stroke="none" stroke-width="1"/>
<rect x="687.56" y="1558.3" width="107.87" height="55.5" fill="#ffb9b9" stroke="none" stroke-width="1"/>
<rect x="795.13" y="1558.3" width="107.87" height="55.5" fill="#ffe4e4" stroke="none" stroke-width="1"/>
<rect x="257.27" y="1613.5" width="107.87" height="55.5" fill="#ff7a7a" stroke="none" stroke-width="1"/>
<rect x="472.41" y="1613.5" width="107.87" height="55.5" fill="#a6a6ff" stroke="none" stroke-width="1"/>
<rect x="579.99" y="1613.5" width="107.87" height="55.5" fill="#d5d5ff" stroke="none" stroke-width="1"/>
<rect x="687.56" y="1613.5" width="107.87" height="55.5" fill="#b4b4ff" stroke="none" stroke-width="1"/>
<rect x="795.13" y="1613.5" width="107.87" height="55.5" fill="#ff4b4b" stroke="none" stroke-width="1"/>
<path d="M203.49 1337.5 v6.5M203.49 1668.7 v-6.5 M311.06 1337.5 v6.5M311.06 1668.7 v-6.5 M418.63 1337.5 v6.5M418.63 1668.7 v-6.5 M526.2 1337.5 v6.5M526.2 1668.7 v-6.5 M633.77 1337.5 v6.5M633.77 1668.7 v-6.5 M741.34 1337.5 v6.5M741.34 1668.7 v-6.5 M848.91 1337.5 v6.5M848.91 1668.7 v-6.5 M149.7 1365.1 h6.5M902.7 1365.1 h-6.5 M149.7 1420.3 h6.5M902.7 1420.3 h-6.5 M149.7 1475.5 h6.5M902.7 1475.5 h-6.5 M149.7 1530.7 h6.5M902.7 1530.7 h-6.5 M149.7 1585.9 h6.5M902.7 1585.9 h-6.5 M149.7 1641.1 h6.5M902.7 1641.1 h-6.5" fill="none" stroke="#262626" stroke-width="1.4"/>
<rect x="149.7" y="1337.5" width="753" height="331.2" fill="none" stroke="#262626" stroke-width="1.6"/>
<text x="203.49" y="1710.5" font-size="31.5" text-anchor="middle" fill="#111111">INa</text>
<text x="311.06" y="1710.5" font-size="31.5" text-anchor="middle" fill="#111111">ICaL</text>
<text x="418.63" y="1710.5" font-size="31.5" text-anchor="middle" fill="#111111">Ito</text>
<text x="526.2" y="1710.5" font-size="31.5" text-anchor="middle" fill="#111111">IKr</text>
<text x="633.77" y="1710.5" font-size="31.5" text-anchor="middle" fill="#111111">IK1</text>
<text x="735.84" y="1710.5" font-size="31.5" text-anchor="middle" fill="#111111">NCX</text>
<text x="851.91" y="1710.5" font-size="31.5" text-anchor="middle" fill="#111111">SERCA</text>
<rect x="931" y="1337.5" width="670.2" height="334" fill="#ffffff" stroke="none" stroke-width="1"/>
<rect x="931" y="1337.5" width="96.04" height="55.97" fill="#fff6f6" stroke="none" stroke-width="1"/>
<rect x="1026.74" y="1337.5" width="96.04" height="55.97" fill="#ffecec" stroke="none" stroke-width="1"/>
<rect x="1122.49" y="1337.5" width="96.04" height="55.97" fill="#fff6f6" stroke="none" stroke-width="1"/>
<rect x="1313.97" y="1337.5" width="96.04" height="55.97" fill="#ff0000" stroke="none" stroke-width="1"/>
<rect x="931" y="1393.17" width="96.04" height="55.97" fill="#ff2828" stroke="none" stroke-width="1"/>
<rect x="1122.49" y="1393.17" width="96.04" height="55.97" fill="#8787ff" stroke="none" stroke-width="1"/>
<rect x="1313.97" y="1393.17" width="96.04" height="55.97" fill="#ffc3c3" stroke="none" stroke-width="1"/>
<rect x="1409.71" y="1393.17" width="96.04" height="55.97" fill="#f7f7ff" stroke="none" stroke-width="1"/>
<rect x="931" y="1448.83" width="96.04" height="55.97" fill="#ff0505" stroke="none" stroke-width="1"/>
<rect x="1026.74" y="1448.83" width="96.04" height="55.97" fill="#dedeff" stroke="none" stroke-width="1"/>
<rect x="1218.23" y="1448.83" width="96.04" height="55.97" fill="#eeeeff" stroke="none" stroke-width="1"/>
<rect x="1313.97" y="1448.83" width="96.04" height="55.97" fill="#ffd4d4" stroke="none" stroke-width="1"/>
<rect x="1505.46" y="1448.83" width="96.04" height="55.97" fill="#eeeeff" stroke="none" stroke-width="1"/>
<rect x="931" y="1504.5" width="96.04" height="55.97" fill="#d5d5ff" stroke="none" stroke-width="1"/>
<rect x="1026.74" y="1504.5" width="96.04" height="55.97" fill="#ff1212" stroke="none" stroke-width="1"/>
<rect x="1122.49" y="1504.5" width="96.04" height="55.97" fill="#e6e6ff" stroke="none" stroke-width="1"/>
<rect x="1218.23" y="1504.5" width="96.04" height="55.97" fill="#cdcdff" stroke="none" stroke-width="1"/>
<rect x="1313.97" y="1504.5" width="96.04" height="55.97" fill="#f6f6ff" stroke="none" stroke-width="1"/>
<rect x="1409.71" y="1504.5" width="96.04" height="55.97" fill="#ffc3c3" stroke="none" stroke-width="1"/>
<rect x="1505.46" y="1504.5" width="96.04" height="55.97" fill="#f7f7ff" stroke="none" stroke-width="1"/>
<rect x="931" y="1560.17" width="96.04" height="55.97" fill="#eeeeff" stroke="none" stroke-width="1"/>
<rect x="1026.74" y="1560.17" width="96.04" height="55.97" fill="#ff1919" stroke="none" stroke-width="1"/>
<rect x="1122.49" y="1560.17" width="96.04" height="55.97" fill="#dedeff" stroke="none" stroke-width="1"/>
<rect x="1218.23" y="1560.17" width="96.04" height="55.97" fill="#c3c3ff" stroke="none" stroke-width="1"/>
<rect x="1313.97" y="1560.17" width="96.04" height="55.97" fill="#cdcdff" stroke="none" stroke-width="1"/>
<rect x="1409.71" y="1560.17" width="96.04" height="55.97" fill="#ffc3c3" stroke="none" stroke-width="1"/>
<rect x="1505.46" y="1560.17" width="96.04" height="55.97" fill="#f7f7ff" stroke="none" stroke-width="1"/>
<rect x="1026.74" y="1615.83" width="96.04" height="55.97" fill="#ff1414" stroke="none" stroke-width="1"/>
<rect x="1218.23" y="1615.83" width="96.04" height="55.97" fill="#eeeeff" stroke="none" stroke-width="1"/>
<rect x="1409.71" y="1615.83" width="96.04" height="55.97" fill="#9e9eff" stroke="none" stroke-width="1"/>
<rect x="1505.46" y="1615.83" width="96.04" height="55.97" fill="#fff6f6" stroke="none" stroke-width="1"/>
<path d="M978.87 1337.5 v6.5M978.87 1671.5 v-6.5 M1074.61 1337.5 v6.5M1074.61 1671.5 v-6.5 M1170.36 1337.5 v6.5M1170.36 1671.5 v-6.5 M1266.1 1337.5 v6.5M1266.1 1671.5 v-6.5 M1361.84 1337.5 v6.5M1361.84 1671.5 v-6.5 M1457.59 1337.5 v6.5M1457.59 1671.5 v-6.5 M1553.33 1337.5 v6.5M1553.33 1671.5 v-6.5 M931 1365.33 h6.5M1601.2 1365.33 h-6.5 M931 1421 h6.5M1601.2 1421 h-6.5 M931 1476.67 h6.5M1601.2 1476.67 h-6.5 M931 1532.33 h6.5M1601.2 1532.33 h-6.5 M931 1588 h6.5M1601.2 1588 h-6.5 M931 1643.67 h6.5M1601.2 1643.67 h-6.5" fill="none" stroke="#262626" stroke-width="1.4"/>
<rect x="931" y="1337.5" width="670.2" height="334" fill="none" stroke="#262626" stroke-width="1.6"/>
<text x="978.87" y="1713.7" font-size="31.5" text-anchor="middle" fill="#111111">INa</text>
<text x="1074.61" y="1713.7" font-size="31.5" text-anchor="middle" fill="#111111">ICaL</text>
<text x="1170.36" y="1713.7" font-size="31.5" text-anchor="middle" fill="#111111">Ito</text>
<text x="1266.1" y="1713.7" font-size="31.5" text-anchor="middle" fill="#111111">IKr</text>
<text x="1361.84" y="1713.7" font-size="31.5" text-anchor="middle" fill="#111111">IK1</text>
<text x="1452.09" y="1713.7" font-size="31.5" text-anchor="middle" fill="#111111">NCX</text>
<text x="1556.33" y="1713.7" font-size="31.5" text-anchor="middle" fill="#111111">SERCA</text>
<text x="136.2" y="1375.5" font-size="32" text-anchor="end" fill="#111111">MDP</text>
<text x="136.2" y="1424.1" font-size="32" text-anchor="end" fill="#111111">AP<tspan font-size="25.4" dy="14.8">amp</tspan></text>
<text x="136.2" y="1479.3" font-size="32" text-anchor="end" fill="#111111">dV/dt<tspan font-size="25.4" dy="14.8">max</tspan></text>
<text x="136.2" y="1534.5" font-size="32" text-anchor="end" fill="#111111">AP<tspan font-size="25.4" dy="14.8">tri</tspan></text>
<text x="136.2" y="1589.7" font-size="32" text-anchor="end" fill="#111111">APD<tspan font-size="25.4" dy="14.8">90</tspan></text>
<text x="136.2" y="1644.9" font-size="32" text-anchor="end" fill="#111111">CaT<tspan font-size="25.4" dy="14.8">amp</tspan></text>
<rect x="1630.9" y="1336.8" width="70.8" height="334.7" fill="url(#cbar)" stroke="#262626" stroke-width="1.6"/>
<text x="1714.3" y="1346.8" font-size="27.8" text-anchor="start" fill="#111111">1</text>
<text x="1714.3" y="1430.47" font-size="27.8" text-anchor="start" fill="#111111">0.5</text>
<text x="1714.3" y="1514.15" font-size="27.8" text-anchor="start" fill="#111111">0</text>
<text x="1714.3" y="1597.83" font-size="27.8" text-anchor="start" fill="#111111">-0.5</text>
<text x="1714.3" y="1681.5" font-size="27.8" text-anchor="start" fill="#111111">-1</text>
<path d="M1701.7 1420.47 h-3.5 M1701.7 1504.15 h-3.5 M1701.7 1587.83 h-3.5" fill="none" stroke="#262626" stroke-width="1.2"/>
<rect x="120.7" y="1796.7" width="803.2" height="220.5" fill="#ffffff" stroke="none" stroke-width="1"/>
<path d="M170 2017.2 v-8M170 1796.7 v8 M270.28 2017.2 v-8M270.28 1796.7 v8 M370.56 2017.2 v-8M370.56 1796.7 v8 M470.84 2017.2 v-8M470.84 1796.7 v8 M571.12 2017.2 v-8M571.12 1796.7 v8 M671.4 2017.2 v-8M671.4 1796.7 v8 M771.68 2017.2 v-8M771.68 1796.7 v8 M872.8 2017.2 v-8M872.8 1796.7 v8 M120.7 1906.95 h8M923.9 1906.95 h-8" fill="none" stroke="#262626" stroke-width="1.4"/>
<rect x="120.7" y="1796.7" width="803.2" height="220.5" fill="none" stroke="#262626" stroke-width="1.6"/>
<polyline points="170,1826.69 270.28,1958.33 370.56,1796.7 470.84,1897.69 571.12,1919.08 671.4,1818.75 771.68,1831.98" fill="none" stroke="#0072bd" stroke-width="7" stroke-linejoin="miter" stroke-linecap="butt"/>
<use href="#mk" x="170" y="1826.69" stroke="#0072bd"/>
<circle cx="170" cy="1826.69" r="8.2" fill="#0072bd"/>
<use href="#mk" x="270.28" y="1958.33" stroke="#0072bd"/>
<circle cx="270.28" cy="1958.33" r="8.2" fill="#0072bd"/>
<use href="#mk" x="370.56" y="1796.7" stroke="#0072bd"/>
<circle cx="370.56" cy="1796.7" r="8.2" fill="#0072bd"/>
<use href="#mk" x="470.84" y="1897.69" stroke="#0072bd"/>
<circle cx="470.84" cy="1897.69" r="8.2" fill="#0072bd"/>
<use href="#mk" x="571.12" y="1919.08" stroke="#0072bd"/>
<circle cx="571.12" cy="1919.08" r="8.2" fill="#0072bd"/>
<use href="#mk" x="671.4" y="1818.75" stroke="#0072bd"/>
<circle cx="671.4" cy="1818.75" r="8.2" fill="#0072bd"/>
<use href="#mk" x="771.68" y="1831.98" stroke="#0072bd"/>
<circle cx="771.68" cy="1831.98" r="8.2" fill="#0072bd"/>
<line x1="847.1" y1="2017.2" x2="847.1" y2="1863.95" stroke="#0072bd" stroke-width="7"/>
<use href="#mk" x="847.1" y="1863.95" stroke="#0072bd"/>
<circle cx="847.1" cy="1863.95" r="8.2" fill="#0072bd"/>
<polyline points="170,1866.16 270.28,1815.44 370.56,1823.16 470.84,1929.66 571.12,1828.01 671.4,1874.1 771.68,1828.67" fill="none" stroke="#d95319" stroke-width="7" stroke-linejoin="miter" stroke-linecap="butt"/>
<use href="#mk" x="170" y="1866.16" stroke="#d95319"/>
<circle cx="170" cy="1866.16" r="8.2" fill="#d95319"/>
<use href="#mk" x="270.28" y="1815.44" stroke="#d95319"/>
<circle cx="270.28" cy="1815.44" r="8.2" fill="#d95319"/>
<use href="#mk" x="370.56" y="1823.16" stroke="#d95319"/>
<circle cx="370.56" cy="1823.16" r="8.2" fill="#d95319"/>
<use href="#mk" x="470.84" y="1929.66" stroke="#d95319"/>
<circle cx="470.84" cy="1929.66" r="8.2" fill="#d95319"/>
<use href="#mk" x="571.12" y="1828.01" stroke="#d95319"/>
<circle cx="571.12" cy="1828.01" r="8.2" fill="#d95319"/>
<use href="#mk" x="671.4" y="1874.1" stroke="#d95319"/>
<circle cx="671.4" cy="1874.1" r="8.2" fill="#d95319"/>
<use href="#mk" x="771.68" y="1828.67" stroke="#d95319"/>
<circle cx="771.68" cy="1828.67" r="8.2" fill="#d95319"/>
<line x1="872.3" y1="2017.2" x2="872.3" y2="1852.05" stroke="#d95319" stroke-width="7"/>
<use href="#mk" x="872.3" y="1852.05" stroke="#d95319"/>
<circle cx="872.3" cy="1852.05" r="8.2" fill="#d95319"/>
<polyline points="170,1834.18 270.28,1939.58 370.56,1823.16 470.84,1827.57 571.12,1887.11 671.4,1897.69 771.68,1798.9" fill="none" stroke="#edb120" stroke-width="7" stroke-linejoin="miter" stroke-linecap="butt"/>
<use href="#mk" x="170" y="1834.18" stroke="#edb120"/>
<circle cx="170" cy="1834.18" r="8.2" fill="#edb120"/>
<use href="#mk" x="270.28" y="1939.58" stroke="#edb120"/>
<circle cx="270.28" cy="1939.58" r="8.2" fill="#edb120"/>
<use href="#mk" x="370.56" y="1823.16" stroke="#edb120"/>
<circle cx="370.56" cy="1823.16" r="8.2" fill="#edb120"/>
<use href="#mk" x="470.84" y="1827.57" stroke="#edb120"/>
<circle cx="470.84" cy="1827.57" r="8.2" fill="#edb120"/>
<use href="#mk" x="571.12" y="1887.11" stroke="#edb120"/>
<circle cx="571.12" cy="1887.11" r="8.2" fill="#edb120"/>
<use href="#mk" x="671.4" y="1897.69" stroke="#edb120"/>
<circle cx="671.4" cy="1897.69" r="8.2" fill="#edb120"/>
<use href="#mk" x="771.68" y="1798.9" stroke="#edb120"/>
<circle cx="771.68" cy="1798.9" r="8.2" fill="#edb120"/>
<line x1="897.7" y1="2017.2" x2="897.7" y2="1858.44" stroke="#edb120" stroke-width="7"/>
<use href="#mk" x="897.7" y="1858.44" stroke="#edb120"/>
<circle cx="897.7" cy="1858.44" r="8.2" fill="#edb120"/>
<text x="170" y="2059" font-size="31" text-anchor="middle" fill="#111111">INa</text>
<text x="270.28" y="2059" font-size="31" text-anchor="middle" fill="#111111">ICaL</text>
<text x="370.56" y="2059" font-size="31" text-anchor="middle" fill="#111111">Ito</text>
<text x="470.84" y="2059" font-size="31" text-anchor="middle" fill="#111111">IKr</text>
<text x="571.12" y="2059" font-size="31" text-anchor="middle" fill="#111111">IK1</text>
<text x="662.9" y="2059" font-size="31" text-anchor="middle" fill="#111111">NCX</text>
<text x="772.68" y="2059" font-size="31" text-anchor="middle" fill="#111111">SERCA</text>
<text x="880.3" y="2059" font-size="31" text-anchor="middle" fill="#111111">avgs</text>
<text x="105.9" y="1807.6" font-size="31" text-anchor="end" fill="#111111">1</text>
<text x="105.9" y="1917.85" font-size="31" text-anchor="end" fill="#111111">0.5</text>
<text x="105.9" y="2028.1" font-size="31" text-anchor="end" fill="#111111">0</text>
<rect x="941.6" y="1796.7" width="816.6" height="220.5" fill="#ffffff" stroke="none" stroke-width="1"/>
<path d="M992.3 2017.2 v-8M992.3 1796.7 v8 M1094.4 2017.2 v-8M1094.4 1796.7 v8 M1196.5 2017.2 v-8M1196.5 1796.7 v8 M1298.6 2017.2 v-8M1298.6 1796.7 v8 M1400.7 2017.2 v-8M1400.7 1796.7 v8 M1502.8 2017.2 v-8M1502.8 1796.7 v8 M1604.9 2017.2 v-8M1604.9 1796.7 v8 M1707 2017.2 v-8M1707 1796.7 v8 M941.6 1906.95 h8M1758.2 1906.95 h-8" fill="none" stroke="#262626" stroke-width="1.4"/>
<rect x="941.6" y="1796.7" width="816.6" height="220.5" fill="none" stroke="#262626" stroke-width="1.6"/>
<polyline points="992.3,1805.52 1094.4,1886.44 1196.5,1799.35 1298.6,1854.03 1400.7,1831.98 1502.8,1813.46 1604.9,1942.23" fill="none" stroke="#0072bd" stroke-width="7" stroke-linejoin="miter" stroke-linecap="butt"/>
<use href="#mk" x="992.3" y="1805.52" stroke="#0072bd"/>
<circle cx="992.3" cy="1805.52" r="8.2" fill="#0072bd"/>
<use href="#mk" x="1094.4" y="1886.44" stroke="#0072bd"/>
<circle cx="1094.4" cy="1886.44" r="8.2" fill="#0072bd"/>
<use href="#mk" x="1196.5" y="1799.35" stroke="#0072bd"/>
<circle cx="1196.5" cy="1799.35" r="8.2" fill="#0072bd"/>
<use href="#mk" x="1298.6" y="1854.03" stroke="#0072bd"/>
<circle cx="1298.6" cy="1854.03" r="8.2" fill="#0072bd"/>
<use href="#mk" x="1400.7" y="1831.98" stroke="#0072bd"/>
<circle cx="1400.7" cy="1831.98" r="8.2" fill="#0072bd"/>
<use href="#mk" x="1502.8" y="1813.46" stroke="#0072bd"/>
<circle cx="1502.8" cy="1813.46" r="8.2" fill="#0072bd"/>
<use href="#mk" x="1604.9" y="1942.23" stroke="#0072bd"/>
<circle cx="1604.9" cy="1942.23" r="8.2" fill="#0072bd"/>
<line x1="1681.8" y1="2017.2" x2="1681.8" y2="1848.52" stroke="#0072bd" stroke-width="7"/>
<use href="#mk" x="1681.8" y="1848.52" stroke="#0072bd"/>
<circle cx="1681.8" cy="1848.52" r="8.2" fill="#0072bd"/>
<polyline points="992.3,1804.2 1094.4,1878.51 1196.5,1835.95 1298.6,1869.24 1400.7,1823.6 1502.8,1824.04 1604.9,1935.17" fill="none" stroke="#d95319" stroke-width="7" stroke-linejoin="miter" stroke-linecap="butt"/>
<use href="#mk" x="992.3" y="1804.2" stroke="#d95319"/>
<circle cx="992.3" cy="1804.2" r="8.2" fill="#d95319"/>
<use href="#mk" x="1094.4" y="1878.51" stroke="#d95319"/>
<circle cx="1094.4" cy="1878.51" r="8.2" fill="#d95319"/>
<use href="#mk" x="1196.5" y="1835.95" stroke="#d95319"/>
<circle cx="1196.5" cy="1835.95" r="8.2" fill="#d95319"/>
<use href="#mk" x="1298.6" y="1869.24" stroke="#d95319"/>
<circle cx="1298.6" cy="1869.24" r="8.2" fill="#d95319"/>
<use href="#mk" x="1400.7" y="1823.6" stroke="#d95319"/>
<circle cx="1400.7" cy="1823.6" r="8.2" fill="#d95319"/>
<use href="#mk" x="1502.8" y="1824.04" stroke="#d95319"/>
<circle cx="1502.8" cy="1824.04" r="8.2" fill="#d95319"/>
<use href="#mk" x="1604.9" y="1935.17" stroke="#d95319"/>
<circle cx="1604.9" cy="1935.17" r="8.2" fill="#d95319"/>
<line x1="1707" y1="2017.2" x2="1707" y2="1853.37" stroke="#d95319" stroke-width="7"/>
<use href="#mk" x="1707" y="1853.37" stroke="#d95319"/>
<circle cx="1707" cy="1853.37" r="8.2" fill="#d95319"/>
<polyline points="992.3,1800.23 1094.4,1805.52 1196.5,1838.6 1298.6,1809.49 1400.7,1804.2 1502.8,1807.28 1604.9,1804.2" fill="none" stroke="#edb120" stroke-width="7" stroke-linejoin="miter" stroke-linecap="butt"/>
<use href="#mk" x="992.3" y="1800.23" stroke="#edb120"/>
<circle cx="992.3" cy="1800.23" r="8.2" fill="#edb120"/>
<use href="#mk" x="1094.4" y="1805.52" stroke="#edb120"/>
<circle cx="1094.4" cy="1805.52" r="8.2" fill="#edb120"/>
<use href="#mk" x="1196.5" y="1838.6" stroke="#edb120"/>
<circle cx="1196.5" cy="1838.6" r="8.2" fill="#edb120"/>
<use href="#mk" x="1298.6" y="1809.49" stroke="#edb120"/>
<circle cx="1298.6" cy="1809.49" r="8.2" fill="#edb120"/>
<use href="#mk" x="1400.7" y="1804.2" stroke="#edb120"/>
<circle cx="1400.7" cy="1804.2" r="8.2" fill="#edb120"/>
<use href="#mk" x="1502.8" y="1807.28" stroke="#edb120"/>
<circle cx="1502.8" cy="1807.28" r="8.2" fill="#edb120"/>
<use href="#mk" x="1604.9" y="1804.2" stroke="#edb120"/>
<circle cx="1604.9" cy="1804.2" r="8.2" fill="#edb120"/>
<line x1="1732.2" y1="2017.2" x2="1732.2" y2="1809.49" stroke="#edb120" stroke-width="7"/>
<use href="#mk" x="1732.2" y="1809.49" stroke="#edb120"/>
<circle cx="1732.2" cy="1809.49" r="8.2" fill="#edb120"/>
<text x="992.3" y="2059" font-size="31" text-anchor="middle" fill="#111111">INa</text>
<text x="1094.4" y="2059" font-size="31" text-anchor="middle" fill="#111111">ICaL</text>
<text x="1196.5" y="2059" font-size="31" text-anchor="middle" fill="#111111">Ito</text>
<text x="1298.6" y="2059" font-size="31" text-anchor="middle" fill="#111111">IKr</text>
<text x="1400.7" y="2059" font-size="31" text-anchor="middle" fill="#111111">IK1</text>
<text x="1492.3" y="2059" font-size="31" text-anchor="middle" fill="#111111">NCX</text>
<text x="1605.4" y="2059" font-size="31" text-anchor="middle" fill="#111111">SERCA</text>
<text x="1715.3" y="2059" font-size="31" text-anchor="middle" fill="#111111">avgs</text>
<text x="520.9" y="1771.9" font-size="33.6" font-weight="bold" text-anchor="middle" fill="#000">APD<tspan font-size="27.6" dy="15.9">90</tspan></text>
<text x="1350.3" y="1771.9" font-size="33.8" font-weight="bold" text-anchor="middle" fill="#000">CaT<tspan font-size="27.6" dy="15.9">amp</tspan></text>
<text x="46" y="1906.4" font-size="34.4" text-anchor="middle" fill="#000000" transform="rotate(-90 46 1906.4)">Similarity index</text>
<line x1="969.5" y1="1918.9" x2="1072.9" y2="1918.9" stroke="#0072bd" stroke-width="7"/>
<use href="#mk" x="1020.7" y="1918.9" stroke="#0072bd"/>
<circle cx="1020.7" cy="1918.9" r="8.2" fill="#0072bd"/>
<text x="1083.6" y="1929.1" font-size="28.4" text-anchor="start" fill="#111111">hiPSC vs. haV</text>
<line x1="969.5" y1="1952.8" x2="1072.9" y2="1952.8" stroke="#d95319" stroke-width="7"/>
<use href="#mk" x="1020.7" y="1952.8" stroke="#d95319"/>
<circle cx="1020.7" cy="1952.8" r="8.2" fill="#d95319"/>
<text x="1083.6" y="1963" font-size="28.4" text-anchor="start" fill="#111111">hiPSC vs. haA</text>
<line x1="969.5" y1="1987.3" x2="1072.9" y2="1987.3" stroke="#edb120" stroke-width="7"/>
<use href="#mk" x="1020.7" y="1987.3" stroke="#edb120"/>
<circle cx="1020.7" cy="1987.3" r="8.2" fill="#edb120"/>
<text x="1083.6" y="1997.5" font-size="28.4" text-anchor="start" fill="#111111">haV vs. haA</text>
</svg>
</body></html>
